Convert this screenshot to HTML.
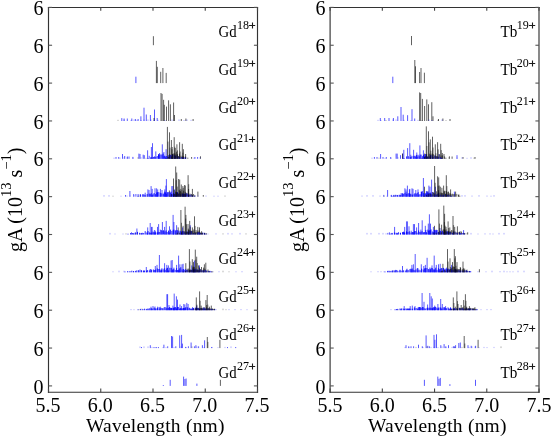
<!DOCTYPE html>
<html><head><meta charset="utf-8"><style>html,body{margin:0;padding:0;background:#fff;overflow:hidden}svg{display:block;filter:blur(0.3px)}</style></head>
<body><svg width="551" height="438" viewBox="0 0 551 438" font-family="Liberation Serif">
<rect width="551" height="438" fill="#fff"/>
<g>
<line x1="153.4" y1="45.2" x2="153.4" y2="36.2" stroke="#000000" stroke-opacity="0.62"/>
<line x1="135.9" y1="83.1" x2="135.9" y2="76.7" stroke="#0000ff" stroke-opacity="0.65"/>
<line x1="156.4" y1="83.1" x2="156.4" y2="60.9" stroke="#000000" stroke-opacity="0.62"/>
<line x1="157.3" y1="83.1" x2="157.3" y2="66.8" stroke="#000000" stroke-opacity="0.62"/>
<line x1="160.7" y1="83.1" x2="160.7" y2="71.8" stroke="#000000" stroke-opacity="0.62"/>
<line x1="162.9" y1="83.1" x2="162.9" y2="68.0" stroke="#000000" stroke-opacity="0.62"/>
<line x1="166.2" y1="83.1" x2="166.2" y2="72.9" stroke="#000000" stroke-opacity="0.62"/>
<line x1="121.8" y1="121.0" x2="121.8" y2="118.1" stroke="#0000ff" stroke-opacity="0.65"/>
<line x1="124.1" y1="121.0" x2="124.1" y2="118.5" stroke="#0000ff" stroke-opacity="0.65"/>
<line x1="127.3" y1="121.0" x2="127.3" y2="118.5" stroke="#0000ff" stroke-opacity="0.65"/>
<line x1="131.8" y1="121.0" x2="131.8" y2="118.5" stroke="#0000ff" stroke-opacity="0.65"/>
<line x1="135.4" y1="121.0" x2="135.4" y2="119.0" stroke="#0000ff" stroke-opacity="0.65"/>
<line x1="138.1" y1="121.0" x2="138.1" y2="119.0" stroke="#0000ff" stroke-opacity="0.65"/>
<line x1="140.9" y1="121.0" x2="140.9" y2="116.3" stroke="#0000ff" stroke-opacity="0.65"/>
<line x1="144.0" y1="121.0" x2="144.0" y2="107.7" stroke="#0000ff" stroke-opacity="0.65"/>
<line x1="146.3" y1="121.0" x2="146.3" y2="114.5" stroke="#0000ff" stroke-opacity="0.65"/>
<line x1="150.4" y1="121.0" x2="150.4" y2="115.0" stroke="#0000ff" stroke-opacity="0.65"/>
<line x1="154.5" y1="121.0" x2="154.5" y2="109.5" stroke="#0000ff" stroke-opacity="0.65"/>
<line x1="157.2" y1="121.0" x2="157.2" y2="118.0" stroke="#0000ff" stroke-opacity="0.65"/>
<line x1="161.0" y1="121.0" x2="161.0" y2="93.0" stroke="#000000" stroke-opacity="0.62"/>
<line x1="162.1" y1="121.0" x2="162.1" y2="93.9" stroke="#000000" stroke-opacity="0.62"/>
<line x1="163.6" y1="121.0" x2="163.6" y2="99.8" stroke="#000000" stroke-opacity="0.62"/>
<line x1="164.3" y1="121.0" x2="164.3" y2="104.8" stroke="#000000" stroke-opacity="0.62"/>
<line x1="166.5" y1="121.0" x2="166.5" y2="106.6" stroke="#000000" stroke-opacity="0.62"/>
<line x1="168.6" y1="121.0" x2="168.6" y2="100.3" stroke="#000000" stroke-opacity="0.62"/>
<line x1="170.4" y1="121.0" x2="170.4" y2="104.3" stroke="#000000" stroke-opacity="0.62"/>
<line x1="173.6" y1="121.0" x2="173.6" y2="102.5" stroke="#000000" stroke-opacity="0.62"/>
<line x1="174.5" y1="121.0" x2="174.5" y2="115.0" stroke="#000000" stroke-opacity="0.62"/>
<line x1="181.3" y1="121.0" x2="181.3" y2="119.0" stroke="#000000" stroke-opacity="0.62"/>
<line x1="185.9" y1="121.0" x2="185.9" y2="118.5" stroke="#000000" stroke-opacity="0.62"/>
<line x1="193.1" y1="121.0" x2="193.1" y2="119.0" stroke="#000000" stroke-opacity="0.62"/>
<line x1="154.0" y1="121.0" x2="154.0" y2="118.0" stroke="#000000" stroke-opacity="0.62"/>
<line x1="118.0" y1="121.0" x2="118.0" y2="119.8" stroke="#000000" stroke-opacity="0.3"/>
<line x1="124.0" y1="121.0" x2="124.0" y2="119.4" stroke="#0000ff" stroke-opacity="0.3"/>
<line x1="131.0" y1="121.0" x2="131.0" y2="120.0" stroke="#0000ff" stroke-opacity="0.3"/>
<line x1="134.0" y1="121.0" x2="134.0" y2="119.4" stroke="#0000ff" stroke-opacity="0.3"/>
<line x1="137.0" y1="121.0" x2="137.0" y2="119.8" stroke="#0000ff" stroke-opacity="0.3"/>
<line x1="141.0" y1="121.0" x2="141.0" y2="120.0" stroke="#0000ff" stroke-opacity="0.3"/>
<line x1="144.0" y1="121.0" x2="144.0" y2="119.4" stroke="#0000ff" stroke-opacity="0.3"/>
<line x1="148.0" y1="121.0" x2="148.0" y2="119.4" stroke="#0000ff" stroke-opacity="0.3"/>
<line x1="151.0" y1="121.0" x2="151.0" y2="119.4" stroke="#0000ff" stroke-opacity="0.3"/>
<line x1="154.0" y1="121.0" x2="154.0" y2="120.0" stroke="#0000ff" stroke-opacity="0.3"/>
<line x1="158.0" y1="121.0" x2="158.0" y2="119.8" stroke="#0000ff" stroke-opacity="0.3"/>
<line x1="165.0" y1="121.0" x2="165.0" y2="120.0" stroke="#0000ff" stroke-opacity="0.3"/>
<line x1="172.0" y1="121.0" x2="172.0" y2="119.4" stroke="#0000ff" stroke-opacity="0.3"/>
<line x1="179.0" y1="121.0" x2="179.0" y2="119.4" stroke="#0000ff" stroke-opacity="0.3"/>
<line x1="184.0" y1="121.0" x2="184.0" y2="120.0" stroke="#0000ff" stroke-opacity="0.3"/>
<line x1="187.0" y1="121.0" x2="187.0" y2="119.4" stroke="#0000ff" stroke-opacity="0.3"/>
<line x1="191.0" y1="121.0" x2="191.0" y2="119.8" stroke="#0000ff" stroke-opacity="0.3"/>
<line x1="116.0" y1="158.8" x2="116.0" y2="157.0" stroke="#0000ff" stroke-opacity="0.65"/>
<line x1="118.7" y1="158.8" x2="118.7" y2="157.0" stroke="#0000ff" stroke-opacity="0.65"/>
<line x1="122.5" y1="158.8" x2="122.5" y2="154.0" stroke="#0000ff" stroke-opacity="0.65"/>
<line x1="124.7" y1="158.8" x2="124.7" y2="156.0" stroke="#0000ff" stroke-opacity="0.65"/>
<line x1="127.4" y1="158.8" x2="127.4" y2="156.5" stroke="#0000ff" stroke-opacity="0.65"/>
<line x1="129.0" y1="158.8" x2="129.0" y2="156.5" stroke="#0000ff" stroke-opacity="0.65"/>
<line x1="132.9" y1="158.8" x2="132.9" y2="156.9" stroke="#0000ff" stroke-opacity="0.65"/>
<line x1="138.9" y1="158.8" x2="138.9" y2="153.6" stroke="#0000ff" stroke-opacity="0.65"/>
<line x1="140.0" y1="158.8" x2="140.0" y2="154.0" stroke="#0000ff" stroke-opacity="0.65"/>
<line x1="143.2" y1="158.8" x2="143.2" y2="154.7" stroke="#0000ff" stroke-opacity="0.65"/>
<line x1="144.3" y1="158.8" x2="144.3" y2="155.2" stroke="#0000ff" stroke-opacity="0.65"/>
<line x1="147.6" y1="158.8" x2="147.6" y2="150.3" stroke="#0000ff" stroke-opacity="0.65"/>
<line x1="149.2" y1="158.8" x2="149.2" y2="155.8" stroke="#0000ff" stroke-opacity="0.65"/>
<line x1="151.4" y1="158.8" x2="151.4" y2="147.0" stroke="#0000ff" stroke-opacity="0.65"/>
<line x1="152.5" y1="158.8" x2="152.5" y2="143.2" stroke="#0000ff" stroke-opacity="0.65"/>
<line x1="155.8" y1="158.8" x2="155.8" y2="151.4" stroke="#0000ff" stroke-opacity="0.65"/>
<line x1="158.5" y1="158.8" x2="158.5" y2="154.0" stroke="#0000ff" stroke-opacity="0.65"/>
<line x1="159.6" y1="158.8" x2="159.6" y2="153.0" stroke="#0000ff" stroke-opacity="0.65"/>
<line x1="162.3" y1="158.8" x2="162.3" y2="144.3" stroke="#0000ff" stroke-opacity="0.65"/>
<line x1="163.9" y1="158.8" x2="163.9" y2="152.0" stroke="#0000ff" stroke-opacity="0.65"/>
<line x1="166.1" y1="158.8" x2="166.1" y2="149.2" stroke="#0000ff" stroke-opacity="0.65"/>
<line x1="167.4" y1="158.8" x2="167.4" y2="126.9" stroke="#000000" stroke-opacity="0.62"/>
<line x1="169.5" y1="158.8" x2="169.5" y2="132.3" stroke="#000000" stroke-opacity="0.62"/>
<line x1="171.4" y1="158.8" x2="171.4" y2="140.0" stroke="#000000" stroke-opacity="0.62"/>
<line x1="172.2" y1="158.8" x2="172.2" y2="147.0" stroke="#000000" stroke-opacity="0.62"/>
<line x1="174.2" y1="158.8" x2="174.2" y2="137.2" stroke="#000000" stroke-opacity="0.62"/>
<line x1="175.2" y1="158.8" x2="175.2" y2="148.0" stroke="#000000" stroke-opacity="0.62"/>
<line x1="176.9" y1="158.8" x2="176.9" y2="144.3" stroke="#000000" stroke-opacity="0.62"/>
<line x1="179.6" y1="158.8" x2="179.6" y2="142.2" stroke="#000000" stroke-opacity="0.62"/>
<line x1="182.3" y1="158.8" x2="182.3" y2="143.8" stroke="#000000" stroke-opacity="0.62"/>
<line x1="183.4" y1="158.8" x2="183.4" y2="149.2" stroke="#000000" stroke-opacity="0.62"/>
<line x1="185.6" y1="158.8" x2="185.6" y2="154.0" stroke="#000000" stroke-opacity="0.62"/>
<line x1="191.6" y1="158.8" x2="191.6" y2="157.0" stroke="#000000" stroke-opacity="0.62"/>
<line x1="200.5" y1="158.8" x2="200.5" y2="156.3" stroke="#000000" stroke-opacity="0.62"/>
<line x1="194.9" y1="158.8" x2="194.9" y2="157.0" stroke="#0000ff" stroke-opacity="0.65"/>
<line x1="197.6" y1="158.8" x2="197.6" y2="157.0" stroke="#0000ff" stroke-opacity="0.65"/>
<line x1="114.0" y1="158.8" x2="114.0" y2="157.6" stroke="#0000ff" stroke-opacity="0.3"/>
<line x1="120.0" y1="158.8" x2="120.0" y2="157.6" stroke="#0000ff" stroke-opacity="0.3"/>
<line x1="124.0" y1="158.8" x2="124.0" y2="157.2" stroke="#0000ff" stroke-opacity="0.3"/>
<line x1="127.0" y1="158.8" x2="127.0" y2="157.2" stroke="#0000ff" stroke-opacity="0.3"/>
<line x1="133.0" y1="158.8" x2="133.0" y2="157.6" stroke="#0000ff" stroke-opacity="0.3"/>
<line x1="138.0" y1="158.8" x2="138.0" y2="157.2" stroke="#000000" stroke-opacity="0.3"/>
<line x1="141.0" y1="158.8" x2="141.0" y2="157.2" stroke="#0000ff" stroke-opacity="0.3"/>
<line x1="146.0" y1="158.8" x2="146.0" y2="157.8" stroke="#000000" stroke-opacity="0.3"/>
<line x1="152.0" y1="158.8" x2="152.0" y2="157.8" stroke="#000000" stroke-opacity="0.3"/>
<line x1="155.0" y1="158.8" x2="155.0" y2="157.2" stroke="#0000ff" stroke-opacity="0.3"/>
<line x1="160.0" y1="158.8" x2="160.0" y2="157.6" stroke="#0000ff" stroke-opacity="0.3"/>
<line x1="167.0" y1="158.8" x2="167.0" y2="157.6" stroke="#0000ff" stroke-opacity="0.3"/>
<line x1="173.0" y1="158.8" x2="173.0" y2="157.8" stroke="#000000" stroke-opacity="0.3"/>
<line x1="178.0" y1="158.8" x2="178.0" y2="157.6" stroke="#0000ff" stroke-opacity="0.3"/>
<line x1="181.0" y1="158.8" x2="181.0" y2="157.8" stroke="#0000ff" stroke-opacity="0.3"/>
<line x1="186.0" y1="158.8" x2="186.0" y2="157.2" stroke="#0000ff" stroke-opacity="0.3"/>
<line x1="194.0" y1="158.8" x2="194.0" y2="157.6" stroke="#0000ff" stroke-opacity="0.3"/>
<line x1="200.0" y1="158.8" x2="200.0" y2="157.2" stroke="#0000ff" stroke-opacity="0.3"/>
<line x1="148.0" y1="158.8" x2="148.0" y2="158.0" stroke="#0000ff" stroke-opacity="0.85"/>
<line x1="150.6" y1="158.8" x2="150.6" y2="157.4" stroke="#0000ff" stroke-opacity="0.85"/>
<line x1="151.8" y1="158.8" x2="151.8" y2="157.1" stroke="#0000ff" stroke-opacity="0.85"/>
<line x1="153.4" y1="158.8" x2="153.4" y2="157.0" stroke="#0000ff" stroke-opacity="0.85"/>
<line x1="154.4" y1="158.8" x2="154.4" y2="156.4" stroke="#0000ff" stroke-opacity="0.85"/>
<line x1="155.9" y1="158.8" x2="155.9" y2="156.9" stroke="#0000ff" stroke-opacity="0.85"/>
<line x1="157.2" y1="158.8" x2="157.2" y2="156.0" stroke="#0000ff" stroke-opacity="0.85"/>
<line x1="158.5" y1="158.8" x2="158.5" y2="154.6" stroke="#0000ff" stroke-opacity="0.85"/>
<line x1="159.8" y1="158.8" x2="159.8" y2="154.4" stroke="#0000ff" stroke-opacity="0.85"/>
<line x1="161.0" y1="158.8" x2="161.0" y2="154.6" stroke="#0000ff" stroke-opacity="0.85"/>
<line x1="162.1" y1="158.8" x2="162.1" y2="154.5" stroke="#0000ff" stroke-opacity="0.85"/>
<line x1="163.2" y1="158.8" x2="163.2" y2="153.5" stroke="#0000ff" stroke-opacity="0.85"/>
<line x1="164.0" y1="158.8" x2="164.0" y2="156.3" stroke="#0000ff" stroke-opacity="0.85"/>
<line x1="164.7" y1="158.8" x2="164.7" y2="155.7" stroke="#0000ff" stroke-opacity="0.85"/>
<line x1="165.4" y1="158.8" x2="165.4" y2="156.5" stroke="#0000ff" stroke-opacity="0.85"/>
<line x1="166.7" y1="158.8" x2="166.7" y2="156.0" stroke="#0000ff" stroke-opacity="0.85"/>
<line x1="167.8" y1="158.8" x2="167.8" y2="156.6" stroke="#0000ff" stroke-opacity="0.85"/>
<line x1="168.9" y1="158.8" x2="168.9" y2="155.0" stroke="#0000ff" stroke-opacity="0.85"/>
<line x1="170.3" y1="158.8" x2="170.3" y2="155.1" stroke="#0000ff" stroke-opacity="0.85"/>
<line x1="171.1" y1="158.8" x2="171.1" y2="154.8" stroke="#0000ff" stroke-opacity="0.85"/>
<line x1="172.7" y1="158.8" x2="172.7" y2="154.3" stroke="#0000ff" stroke-opacity="0.85"/>
<line x1="174.3" y1="158.8" x2="174.3" y2="155.3" stroke="#0000ff" stroke-opacity="0.85"/>
<line x1="175.2" y1="158.8" x2="175.2" y2="155.9" stroke="#0000ff" stroke-opacity="0.85"/>
<line x1="176.9" y1="158.8" x2="176.9" y2="155.4" stroke="#0000ff" stroke-opacity="0.85"/>
<line x1="178.3" y1="158.8" x2="178.3" y2="156.4" stroke="#0000ff" stroke-opacity="0.85"/>
<line x1="179.8" y1="158.8" x2="179.8" y2="157.1" stroke="#0000ff" stroke-opacity="0.85"/>
<line x1="181.7" y1="158.8" x2="181.7" y2="156.9" stroke="#0000ff" stroke-opacity="0.85"/>
<line x1="182.9" y1="158.8" x2="182.9" y2="157.4" stroke="#0000ff" stroke-opacity="0.85"/>
<line x1="184.0" y1="158.8" x2="184.0" y2="157.3" stroke="#0000ff" stroke-opacity="0.85"/>
<line x1="185.3" y1="158.8" x2="185.3" y2="157.6" stroke="#0000ff" stroke-opacity="0.85"/>
<line x1="166.0" y1="158.8" x2="166.0" y2="158.0" stroke="#000000" stroke-opacity="0.6"/>
<line x1="168.6" y1="158.8" x2="168.6" y2="156.7" stroke="#000000" stroke-opacity="0.6"/>
<line x1="169.7" y1="158.8" x2="169.7" y2="154.2" stroke="#000000" stroke-opacity="0.6"/>
<line x1="171.5" y1="158.8" x2="171.5" y2="156.4" stroke="#000000" stroke-opacity="0.6"/>
<line x1="172.4" y1="158.8" x2="172.4" y2="154.0" stroke="#000000" stroke-opacity="0.6"/>
<line x1="173.2" y1="158.8" x2="173.2" y2="153.6" stroke="#000000" stroke-opacity="0.6"/>
<line x1="174.3" y1="158.8" x2="174.3" y2="153.3" stroke="#000000" stroke-opacity="0.6"/>
<line x1="175.4" y1="158.8" x2="175.4" y2="155.4" stroke="#000000" stroke-opacity="0.6"/>
<line x1="176.4" y1="158.8" x2="176.4" y2="151.7" stroke="#000000" stroke-opacity="0.6"/>
<line x1="177.5" y1="158.8" x2="177.5" y2="154.2" stroke="#000000" stroke-opacity="0.6"/>
<line x1="178.6" y1="158.8" x2="178.6" y2="156.0" stroke="#000000" stroke-opacity="0.6"/>
<line x1="179.4" y1="158.8" x2="179.4" y2="153.6" stroke="#000000" stroke-opacity="0.6"/>
<line x1="181.0" y1="158.8" x2="181.0" y2="155.7" stroke="#000000" stroke-opacity="0.6"/>
<line x1="182.7" y1="158.8" x2="182.7" y2="156.4" stroke="#000000" stroke-opacity="0.6"/>
<line x1="183.7" y1="158.8" x2="183.7" y2="156.4" stroke="#000000" stroke-opacity="0.6"/>
<line x1="185.6" y1="158.8" x2="185.6" y2="156.6" stroke="#000000" stroke-opacity="0.6"/>
<line x1="187.8" y1="158.8" x2="187.8" y2="157.6" stroke="#000000" stroke-opacity="0.6"/>
<line x1="168.0" y1="158.8" x2="168.0" y2="141.6" stroke="#000000" stroke-opacity="0.5"/>
<line x1="170.1" y1="158.8" x2="170.1" y2="147.6" stroke="#000000" stroke-opacity="0.5"/>
<line x1="172.0" y1="158.8" x2="172.0" y2="149.2" stroke="#000000" stroke-opacity="0.5"/>
<line x1="172.8" y1="158.8" x2="172.8" y2="154.4" stroke="#000000" stroke-opacity="0.5"/>
<line x1="174.8" y1="158.8" x2="174.8" y2="146.7" stroke="#000000" stroke-opacity="0.5"/>
<line x1="175.8" y1="158.8" x2="175.8" y2="153.6" stroke="#000000" stroke-opacity="0.5"/>
<line x1="177.5" y1="158.8" x2="177.5" y2="150.4" stroke="#000000" stroke-opacity="0.5"/>
<line x1="180.2" y1="158.8" x2="180.2" y2="151.5" stroke="#000000" stroke-opacity="0.5"/>
<line x1="182.9" y1="158.8" x2="182.9" y2="152.7" stroke="#000000" stroke-opacity="0.5"/>
<line x1="125.5" y1="196.7" x2="125.5" y2="195.0" stroke="#0000ff" stroke-opacity="0.65"/>
<line x1="129.9" y1="196.7" x2="129.9" y2="191.0" stroke="#0000ff" stroke-opacity="0.65"/>
<line x1="133.7" y1="196.7" x2="133.7" y2="194.0" stroke="#0000ff" stroke-opacity="0.65"/>
<line x1="135.9" y1="196.7" x2="135.9" y2="194.0" stroke="#0000ff" stroke-opacity="0.65"/>
<line x1="138.1" y1="196.7" x2="138.1" y2="194.0" stroke="#0000ff" stroke-opacity="0.65"/>
<line x1="140.3" y1="196.7" x2="140.3" y2="194.0" stroke="#0000ff" stroke-opacity="0.65"/>
<line x1="143.0" y1="196.7" x2="143.0" y2="194.5" stroke="#0000ff" stroke-opacity="0.65"/>
<line x1="145.2" y1="196.7" x2="145.2" y2="192.7" stroke="#0000ff" stroke-opacity="0.65"/>
<line x1="147.9" y1="196.7" x2="147.9" y2="189.4" stroke="#0000ff" stroke-opacity="0.65"/>
<line x1="149.0" y1="196.7" x2="149.0" y2="190.0" stroke="#0000ff" stroke-opacity="0.65"/>
<line x1="151.1" y1="196.7" x2="151.1" y2="186.1" stroke="#0000ff" stroke-opacity="0.65"/>
<line x1="152.2" y1="196.7" x2="152.2" y2="188.9" stroke="#0000ff" stroke-opacity="0.65"/>
<line x1="155.0" y1="196.7" x2="155.0" y2="188.3" stroke="#0000ff" stroke-opacity="0.65"/>
<line x1="156.6" y1="196.7" x2="156.6" y2="188.3" stroke="#0000ff" stroke-opacity="0.65"/>
<line x1="157.7" y1="196.7" x2="157.7" y2="189.4" stroke="#0000ff" stroke-opacity="0.65"/>
<line x1="160.4" y1="196.7" x2="160.4" y2="188.9" stroke="#0000ff" stroke-opacity="0.65"/>
<line x1="162.0" y1="196.7" x2="162.0" y2="190.0" stroke="#0000ff" stroke-opacity="0.65"/>
<line x1="164.8" y1="196.7" x2="164.8" y2="189.4" stroke="#0000ff" stroke-opacity="0.65"/>
<line x1="165.9" y1="196.7" x2="165.9" y2="185.6" stroke="#0000ff" stroke-opacity="0.65"/>
<line x1="166.4" y1="196.7" x2="166.4" y2="179.1" stroke="#0000ff" stroke-opacity="0.65"/>
<line x1="171.8" y1="196.7" x2="171.8" y2="186.1" stroke="#0000ff" stroke-opacity="0.65"/>
<line x1="172.9" y1="196.7" x2="172.9" y2="186.0" stroke="#0000ff" stroke-opacity="0.65"/>
<line x1="174.6" y1="196.7" x2="174.6" y2="189.4" stroke="#0000ff" stroke-opacity="0.65"/>
<line x1="169.4" y1="196.7" x2="169.4" y2="190.5" stroke="#000000" stroke-opacity="0.62"/>
<line x1="173.5" y1="196.7" x2="173.5" y2="178.5" stroke="#000000" stroke-opacity="0.62"/>
<line x1="175.7" y1="196.7" x2="175.7" y2="166.5" stroke="#000000" stroke-opacity="0.62"/>
<line x1="176.7" y1="196.7" x2="176.7" y2="172.5" stroke="#000000" stroke-opacity="0.62"/>
<line x1="178.6" y1="196.7" x2="178.6" y2="179.0" stroke="#000000" stroke-opacity="0.62"/>
<line x1="179.7" y1="196.7" x2="179.7" y2="179.6" stroke="#000000" stroke-opacity="0.62"/>
<line x1="181.3" y1="196.7" x2="181.3" y2="184.5" stroke="#000000" stroke-opacity="0.62"/>
<line x1="182.9" y1="196.7" x2="182.9" y2="186.0" stroke="#000000" stroke-opacity="0.62"/>
<line x1="183.2" y1="196.7" x2="183.2" y2="187.8" stroke="#000000" stroke-opacity="0.62"/>
<line x1="184.6" y1="196.7" x2="184.6" y2="185.0" stroke="#000000" stroke-opacity="0.62"/>
<line x1="185.3" y1="196.7" x2="185.3" y2="185.6" stroke="#000000" stroke-opacity="0.62"/>
<line x1="188.1" y1="196.7" x2="188.1" y2="175.2" stroke="#000000" stroke-opacity="0.62"/>
<line x1="188.6" y1="196.7" x2="188.6" y2="189.0" stroke="#000000" stroke-opacity="0.62"/>
<line x1="192.4" y1="196.7" x2="192.4" y2="188.9" stroke="#000000" stroke-opacity="0.62"/>
<line x1="197.9" y1="196.7" x2="197.9" y2="191.6" stroke="#000000" stroke-opacity="0.62"/>
<line x1="203.3" y1="196.7" x2="203.3" y2="195.0" stroke="#000000" stroke-opacity="0.62"/>
<line x1="104.0" y1="196.7" x2="104.0" y2="195.1" stroke="#0000ff" stroke-opacity="0.3"/>
<line x1="109.0" y1="196.7" x2="109.0" y2="195.1" stroke="#0000ff" stroke-opacity="0.3"/>
<line x1="113.0" y1="196.7" x2="113.0" y2="195.7" stroke="#000000" stroke-opacity="0.3"/>
<line x1="121.0" y1="196.7" x2="121.0" y2="195.7" stroke="#0000ff" stroke-opacity="0.3"/>
<line x1="127.0" y1="196.7" x2="127.0" y2="195.5" stroke="#0000ff" stroke-opacity="0.3"/>
<line x1="130.0" y1="196.7" x2="130.0" y2="195.5" stroke="#0000ff" stroke-opacity="0.3"/>
<line x1="134.0" y1="196.7" x2="134.0" y2="195.1" stroke="#0000ff" stroke-opacity="0.3"/>
<line x1="139.0" y1="196.7" x2="139.0" y2="195.5" stroke="#000000" stroke-opacity="0.3"/>
<line x1="147.0" y1="196.7" x2="147.0" y2="195.5" stroke="#000000" stroke-opacity="0.3"/>
<line x1="152.0" y1="196.7" x2="152.0" y2="195.7" stroke="#0000ff" stroke-opacity="0.3"/>
<line x1="156.0" y1="196.7" x2="156.0" y2="195.5" stroke="#0000ff" stroke-opacity="0.3"/>
<line x1="160.0" y1="196.7" x2="160.0" y2="195.5" stroke="#0000ff" stroke-opacity="0.3"/>
<line x1="167.0" y1="196.7" x2="167.0" y2="195.7" stroke="#0000ff" stroke-opacity="0.3"/>
<line x1="175.0" y1="196.7" x2="175.0" y2="195.5" stroke="#0000ff" stroke-opacity="0.3"/>
<line x1="178.0" y1="196.7" x2="178.0" y2="195.1" stroke="#0000ff" stroke-opacity="0.3"/>
<line x1="184.0" y1="196.7" x2="184.0" y2="195.1" stroke="#0000ff" stroke-opacity="0.3"/>
<line x1="190.0" y1="196.7" x2="190.0" y2="195.7" stroke="#0000ff" stroke-opacity="0.3"/>
<line x1="198.0" y1="196.7" x2="198.0" y2="195.5" stroke="#0000ff" stroke-opacity="0.3"/>
<line x1="206.0" y1="196.7" x2="206.0" y2="195.5" stroke="#0000ff" stroke-opacity="0.3"/>
<line x1="214.0" y1="196.7" x2="214.0" y2="195.7" stroke="#0000ff" stroke-opacity="0.3"/>
<line x1="218.0" y1="196.7" x2="218.0" y2="195.7" stroke="#0000ff" stroke-opacity="0.3"/>
<line x1="225.0" y1="196.7" x2="225.0" y2="195.5" stroke="#000000" stroke-opacity="0.3"/>
<line x1="138.0" y1="196.7" x2="138.0" y2="195.8" stroke="#0000ff" stroke-opacity="0.85"/>
<line x1="140.6" y1="196.7" x2="140.6" y2="194.7" stroke="#0000ff" stroke-opacity="0.85"/>
<line x1="142.9" y1="196.7" x2="142.9" y2="194.2" stroke="#0000ff" stroke-opacity="0.85"/>
<line x1="144.1" y1="196.7" x2="144.1" y2="194.5" stroke="#0000ff" stroke-opacity="0.85"/>
<line x1="145.2" y1="196.7" x2="145.2" y2="195.2" stroke="#0000ff" stroke-opacity="0.85"/>
<line x1="147.2" y1="196.7" x2="147.2" y2="194.0" stroke="#0000ff" stroke-opacity="0.85"/>
<line x1="149.2" y1="196.7" x2="149.2" y2="193.6" stroke="#0000ff" stroke-opacity="0.85"/>
<line x1="150.2" y1="196.7" x2="150.2" y2="194.1" stroke="#0000ff" stroke-opacity="0.85"/>
<line x1="151.2" y1="196.7" x2="151.2" y2="193.2" stroke="#0000ff" stroke-opacity="0.85"/>
<line x1="152.2" y1="196.7" x2="152.2" y2="194.8" stroke="#0000ff" stroke-opacity="0.85"/>
<line x1="153.1" y1="196.7" x2="153.1" y2="194.2" stroke="#0000ff" stroke-opacity="0.85"/>
<line x1="154.1" y1="196.7" x2="154.1" y2="193.0" stroke="#0000ff" stroke-opacity="0.85"/>
<line x1="155.4" y1="196.7" x2="155.4" y2="194.1" stroke="#0000ff" stroke-opacity="0.85"/>
<line x1="156.7" y1="196.7" x2="156.7" y2="192.5" stroke="#0000ff" stroke-opacity="0.85"/>
<line x1="157.5" y1="196.7" x2="157.5" y2="192.2" stroke="#0000ff" stroke-opacity="0.85"/>
<line x1="158.8" y1="196.7" x2="158.8" y2="192.1" stroke="#0000ff" stroke-opacity="0.85"/>
<line x1="160.3" y1="196.7" x2="160.3" y2="192.9" stroke="#0000ff" stroke-opacity="0.85"/>
<line x1="161.8" y1="196.7" x2="161.8" y2="193.3" stroke="#0000ff" stroke-opacity="0.85"/>
<line x1="163.3" y1="196.7" x2="163.3" y2="194.1" stroke="#0000ff" stroke-opacity="0.85"/>
<line x1="164.1" y1="196.7" x2="164.1" y2="192.8" stroke="#0000ff" stroke-opacity="0.85"/>
<line x1="164.8" y1="196.7" x2="164.8" y2="191.6" stroke="#0000ff" stroke-opacity="0.85"/>
<line x1="165.6" y1="196.7" x2="165.6" y2="192.4" stroke="#0000ff" stroke-opacity="0.85"/>
<line x1="166.3" y1="196.7" x2="166.3" y2="193.8" stroke="#0000ff" stroke-opacity="0.85"/>
<line x1="167.3" y1="196.7" x2="167.3" y2="192.2" stroke="#0000ff" stroke-opacity="0.85"/>
<line x1="168.0" y1="196.7" x2="168.0" y2="192.4" stroke="#0000ff" stroke-opacity="0.85"/>
<line x1="169.0" y1="196.7" x2="169.0" y2="192.0" stroke="#0000ff" stroke-opacity="0.85"/>
<line x1="170.4" y1="196.7" x2="170.4" y2="192.6" stroke="#0000ff" stroke-opacity="0.85"/>
<line x1="171.1" y1="196.7" x2="171.1" y2="191.6" stroke="#0000ff" stroke-opacity="0.85"/>
<line x1="171.9" y1="196.7" x2="171.9" y2="193.7" stroke="#0000ff" stroke-opacity="0.85"/>
<line x1="172.9" y1="196.7" x2="172.9" y2="194.4" stroke="#0000ff" stroke-opacity="0.85"/>
<line x1="173.7" y1="196.7" x2="173.7" y2="193.0" stroke="#0000ff" stroke-opacity="0.85"/>
<line x1="175.2" y1="196.7" x2="175.2" y2="194.5" stroke="#0000ff" stroke-opacity="0.85"/>
<line x1="176.0" y1="196.7" x2="176.0" y2="193.4" stroke="#0000ff" stroke-opacity="0.85"/>
<line x1="177.5" y1="196.7" x2="177.5" y2="192.0" stroke="#0000ff" stroke-opacity="0.85"/>
<line x1="179.1" y1="196.7" x2="179.1" y2="193.4" stroke="#0000ff" stroke-opacity="0.85"/>
<line x1="180.8" y1="196.7" x2="180.8" y2="194.1" stroke="#0000ff" stroke-opacity="0.85"/>
<line x1="182.5" y1="196.7" x2="182.5" y2="193.7" stroke="#0000ff" stroke-opacity="0.85"/>
<line x1="183.8" y1="196.7" x2="183.8" y2="193.9" stroke="#0000ff" stroke-opacity="0.85"/>
<line x1="184.8" y1="196.7" x2="184.8" y2="193.6" stroke="#0000ff" stroke-opacity="0.85"/>
<line x1="186.2" y1="196.7" x2="186.2" y2="193.3" stroke="#0000ff" stroke-opacity="0.85"/>
<line x1="187.2" y1="196.7" x2="187.2" y2="193.6" stroke="#0000ff" stroke-opacity="0.85"/>
<line x1="188.3" y1="196.7" x2="188.3" y2="194.5" stroke="#0000ff" stroke-opacity="0.85"/>
<line x1="189.8" y1="196.7" x2="189.8" y2="194.6" stroke="#0000ff" stroke-opacity="0.85"/>
<line x1="191.0" y1="196.7" x2="191.0" y2="194.5" stroke="#0000ff" stroke-opacity="0.85"/>
<line x1="192.6" y1="196.7" x2="192.6" y2="195.4" stroke="#0000ff" stroke-opacity="0.85"/>
<line x1="194.8" y1="196.7" x2="194.8" y2="195.5" stroke="#0000ff" stroke-opacity="0.85"/>
<line x1="170.0" y1="196.7" x2="170.0" y2="195.8" stroke="#000000" stroke-opacity="0.6"/>
<line x1="171.4" y1="196.7" x2="171.4" y2="194.1" stroke="#000000" stroke-opacity="0.6"/>
<line x1="173.6" y1="196.7" x2="173.6" y2="193.4" stroke="#000000" stroke-opacity="0.6"/>
<line x1="174.6" y1="196.7" x2="174.6" y2="194.0" stroke="#000000" stroke-opacity="0.6"/>
<line x1="175.6" y1="196.7" x2="175.6" y2="191.7" stroke="#000000" stroke-opacity="0.6"/>
<line x1="176.5" y1="196.7" x2="176.5" y2="192.0" stroke="#000000" stroke-opacity="0.6"/>
<line x1="177.3" y1="196.7" x2="177.3" y2="193.0" stroke="#000000" stroke-opacity="0.6"/>
<line x1="178.5" y1="196.7" x2="178.5" y2="193.6" stroke="#000000" stroke-opacity="0.6"/>
<line x1="179.9" y1="196.7" x2="179.9" y2="190.6" stroke="#000000" stroke-opacity="0.6"/>
<line x1="180.6" y1="196.7" x2="180.6" y2="191.2" stroke="#000000" stroke-opacity="0.6"/>
<line x1="182.0" y1="196.7" x2="182.0" y2="192.6" stroke="#000000" stroke-opacity="0.6"/>
<line x1="183.0" y1="196.7" x2="183.0" y2="193.5" stroke="#000000" stroke-opacity="0.6"/>
<line x1="184.2" y1="196.7" x2="184.2" y2="194.0" stroke="#000000" stroke-opacity="0.6"/>
<line x1="185.3" y1="196.7" x2="185.3" y2="194.4" stroke="#000000" stroke-opacity="0.6"/>
<line x1="186.9" y1="196.7" x2="186.9" y2="193.2" stroke="#000000" stroke-opacity="0.6"/>
<line x1="188.6" y1="196.7" x2="188.6" y2="194.7" stroke="#000000" stroke-opacity="0.6"/>
<line x1="190.0" y1="196.7" x2="190.0" y2="193.6" stroke="#000000" stroke-opacity="0.6"/>
<line x1="191.4" y1="196.7" x2="191.4" y2="194.0" stroke="#000000" stroke-opacity="0.6"/>
<line x1="192.5" y1="196.7" x2="192.5" y2="194.9" stroke="#000000" stroke-opacity="0.6"/>
<line x1="193.6" y1="196.7" x2="193.6" y2="194.0" stroke="#000000" stroke-opacity="0.6"/>
<line x1="194.8" y1="196.7" x2="194.8" y2="195.4" stroke="#000000" stroke-opacity="0.6"/>
<line x1="174.1" y1="196.7" x2="174.1" y2="190.1" stroke="#000000" stroke-opacity="0.5"/>
<line x1="176.2" y1="196.7" x2="176.2" y2="180.2" stroke="#000000" stroke-opacity="0.5"/>
<line x1="177.3" y1="196.7" x2="177.3" y2="186.6" stroke="#000000" stroke-opacity="0.5"/>
<line x1="179.2" y1="196.7" x2="179.2" y2="189.9" stroke="#000000" stroke-opacity="0.5"/>
<line x1="180.3" y1="196.7" x2="180.3" y2="188.9" stroke="#000000" stroke-opacity="0.5"/>
<line x1="181.9" y1="196.7" x2="181.9" y2="189.6" stroke="#000000" stroke-opacity="0.5"/>
<line x1="183.5" y1="196.7" x2="183.5" y2="190.7" stroke="#000000" stroke-opacity="0.5"/>
<line x1="185.2" y1="196.7" x2="185.2" y2="191.8" stroke="#000000" stroke-opacity="0.5"/>
<line x1="185.9" y1="196.7" x2="185.9" y2="192.4" stroke="#000000" stroke-opacity="0.5"/>
<line x1="188.7" y1="196.7" x2="188.7" y2="184.2" stroke="#000000" stroke-opacity="0.5"/>
<line x1="131.5" y1="234.5" x2="131.5" y2="232.3" stroke="#0000ff" stroke-opacity="0.65"/>
<line x1="135.3" y1="234.5" x2="135.3" y2="233.0" stroke="#0000ff" stroke-opacity="0.65"/>
<line x1="136.9" y1="234.5" x2="136.9" y2="228.5" stroke="#0000ff" stroke-opacity="0.65"/>
<line x1="141.8" y1="234.5" x2="141.8" y2="233.0" stroke="#0000ff" stroke-opacity="0.65"/>
<line x1="147.3" y1="234.5" x2="147.3" y2="233.0" stroke="#0000ff" stroke-opacity="0.65"/>
<line x1="147.7" y1="234.5" x2="147.7" y2="227.4" stroke="#0000ff" stroke-opacity="0.65"/>
<line x1="150.2" y1="234.5" x2="150.2" y2="223.0" stroke="#0000ff" stroke-opacity="0.65"/>
<line x1="151.6" y1="234.5" x2="151.6" y2="226.9" stroke="#0000ff" stroke-opacity="0.65"/>
<line x1="152.1" y1="234.5" x2="152.1" y2="226.9" stroke="#0000ff" stroke-opacity="0.65"/>
<line x1="154.4" y1="234.5" x2="154.4" y2="230.0" stroke="#0000ff" stroke-opacity="0.65"/>
<line x1="155.3" y1="234.5" x2="155.3" y2="230.7" stroke="#0000ff" stroke-opacity="0.65"/>
<line x1="157.5" y1="234.5" x2="157.5" y2="226.9" stroke="#0000ff" stroke-opacity="0.65"/>
<line x1="158.6" y1="234.5" x2="158.6" y2="224.1" stroke="#0000ff" stroke-opacity="0.65"/>
<line x1="160.3" y1="234.5" x2="160.3" y2="229.6" stroke="#0000ff" stroke-opacity="0.65"/>
<line x1="162.4" y1="234.5" x2="162.4" y2="222.0" stroke="#0000ff" stroke-opacity="0.65"/>
<line x1="164.6" y1="234.5" x2="164.6" y2="226.9" stroke="#0000ff" stroke-opacity="0.65"/>
<line x1="166.2" y1="234.5" x2="166.2" y2="220.9" stroke="#0000ff" stroke-opacity="0.65"/>
<line x1="169.5" y1="234.5" x2="169.5" y2="226.3" stroke="#0000ff" stroke-opacity="0.65"/>
<line x1="173.1" y1="234.5" x2="173.1" y2="214.9" stroke="#0000ff" stroke-opacity="0.65"/>
<line x1="173.9" y1="234.5" x2="173.9" y2="222.0" stroke="#0000ff" stroke-opacity="0.65"/>
<line x1="176.6" y1="234.5" x2="176.6" y2="225.2" stroke="#0000ff" stroke-opacity="0.65"/>
<line x1="182.6" y1="234.5" x2="182.6" y2="227.4" stroke="#0000ff" stroke-opacity="0.65"/>
<line x1="190.2" y1="234.5" x2="190.2" y2="225.2" stroke="#0000ff" stroke-opacity="0.65"/>
<line x1="178.2" y1="234.5" x2="178.2" y2="227.4" stroke="#000000" stroke-opacity="0.62"/>
<line x1="180.9" y1="234.5" x2="180.9" y2="210.0" stroke="#000000" stroke-opacity="0.62"/>
<line x1="183.1" y1="234.5" x2="183.1" y2="225.8" stroke="#000000" stroke-opacity="0.62"/>
<line x1="185.1" y1="234.5" x2="185.1" y2="206.7" stroke="#000000" stroke-opacity="0.62"/>
<line x1="185.9" y1="234.5" x2="185.9" y2="214.9" stroke="#000000" stroke-opacity="0.62"/>
<line x1="188.0" y1="234.5" x2="188.0" y2="224.0" stroke="#000000" stroke-opacity="0.62"/>
<line x1="189.7" y1="234.5" x2="189.7" y2="220.9" stroke="#000000" stroke-opacity="0.62"/>
<line x1="192.4" y1="234.5" x2="192.4" y2="227.4" stroke="#000000" stroke-opacity="0.62"/>
<line x1="194.5" y1="234.5" x2="194.5" y2="216.3" stroke="#000000" stroke-opacity="0.62"/>
<line x1="197.8" y1="234.5" x2="197.8" y2="226.9" stroke="#000000" stroke-opacity="0.62"/>
<line x1="199.5" y1="234.5" x2="199.5" y2="227.4" stroke="#000000" stroke-opacity="0.62"/>
<line x1="201.6" y1="234.5" x2="201.6" y2="231.2" stroke="#000000" stroke-opacity="0.62"/>
<line x1="204.4" y1="234.5" x2="204.4" y2="232.9" stroke="#000000" stroke-opacity="0.62"/>
<line x1="110.0" y1="234.5" x2="110.0" y2="232.9" stroke="#0000ff" stroke-opacity="0.3"/>
<line x1="115.0" y1="234.5" x2="115.0" y2="233.5" stroke="#0000ff" stroke-opacity="0.3"/>
<line x1="123.0" y1="234.5" x2="123.0" y2="233.5" stroke="#0000ff" stroke-opacity="0.3"/>
<line x1="126.0" y1="234.5" x2="126.0" y2="233.3" stroke="#000000" stroke-opacity="0.3"/>
<line x1="134.0" y1="234.5" x2="134.0" y2="233.5" stroke="#000000" stroke-opacity="0.3"/>
<line x1="137.0" y1="234.5" x2="137.0" y2="232.9" stroke="#000000" stroke-opacity="0.3"/>
<line x1="140.0" y1="234.5" x2="140.0" y2="233.3" stroke="#000000" stroke-opacity="0.3"/>
<line x1="146.0" y1="234.5" x2="146.0" y2="233.5" stroke="#0000ff" stroke-opacity="0.3"/>
<line x1="153.0" y1="234.5" x2="153.0" y2="233.3" stroke="#000000" stroke-opacity="0.3"/>
<line x1="158.0" y1="234.5" x2="158.0" y2="232.9" stroke="#0000ff" stroke-opacity="0.3"/>
<line x1="165.0" y1="234.5" x2="165.0" y2="232.9" stroke="#0000ff" stroke-opacity="0.3"/>
<line x1="168.0" y1="234.5" x2="168.0" y2="233.5" stroke="#0000ff" stroke-opacity="0.3"/>
<line x1="172.0" y1="234.5" x2="172.0" y2="233.5" stroke="#000000" stroke-opacity="0.3"/>
<line x1="180.0" y1="234.5" x2="180.0" y2="233.3" stroke="#0000ff" stroke-opacity="0.3"/>
<line x1="184.0" y1="234.5" x2="184.0" y2="233.3" stroke="#0000ff" stroke-opacity="0.3"/>
<line x1="192.0" y1="234.5" x2="192.0" y2="233.5" stroke="#0000ff" stroke-opacity="0.3"/>
<line x1="195.0" y1="234.5" x2="195.0" y2="233.3" stroke="#0000ff" stroke-opacity="0.3"/>
<line x1="198.0" y1="234.5" x2="198.0" y2="232.9" stroke="#0000ff" stroke-opacity="0.3"/>
<line x1="202.0" y1="234.5" x2="202.0" y2="232.9" stroke="#0000ff" stroke-opacity="0.3"/>
<line x1="208.0" y1="234.5" x2="208.0" y2="233.5" stroke="#0000ff" stroke-opacity="0.3"/>
<line x1="216.0" y1="234.5" x2="216.0" y2="233.3" stroke="#0000ff" stroke-opacity="0.3"/>
<line x1="223.0" y1="234.5" x2="223.0" y2="233.3" stroke="#000000" stroke-opacity="0.3"/>
<line x1="228.0" y1="234.5" x2="228.0" y2="232.9" stroke="#0000ff" stroke-opacity="0.3"/>
<line x1="232.0" y1="234.5" x2="232.0" y2="233.3" stroke="#0000ff" stroke-opacity="0.3"/>
<line x1="240.0" y1="234.5" x2="240.0" y2="232.9" stroke="#0000ff" stroke-opacity="0.3"/>
<line x1="246.0" y1="234.5" x2="246.0" y2="233.3" stroke="#000000" stroke-opacity="0.3"/>
<line x1="128.0" y1="234.5" x2="128.0" y2="233.7" stroke="#0000ff" stroke-opacity="0.85"/>
<line x1="130.6" y1="234.5" x2="130.6" y2="233.0" stroke="#0000ff" stroke-opacity="0.85"/>
<line x1="132.4" y1="234.5" x2="132.4" y2="233.0" stroke="#0000ff" stroke-opacity="0.85"/>
<line x1="133.6" y1="234.5" x2="133.6" y2="233.2" stroke="#0000ff" stroke-opacity="0.85"/>
<line x1="135.3" y1="234.5" x2="135.3" y2="232.3" stroke="#0000ff" stroke-opacity="0.85"/>
<line x1="137.5" y1="234.5" x2="137.5" y2="231.9" stroke="#0000ff" stroke-opacity="0.85"/>
<line x1="139.6" y1="234.5" x2="139.6" y2="232.8" stroke="#0000ff" stroke-opacity="0.85"/>
<line x1="141.1" y1="234.5" x2="141.1" y2="233.0" stroke="#0000ff" stroke-opacity="0.85"/>
<line x1="142.2" y1="234.5" x2="142.2" y2="232.8" stroke="#0000ff" stroke-opacity="0.85"/>
<line x1="143.7" y1="234.5" x2="143.7" y2="233.0" stroke="#0000ff" stroke-opacity="0.85"/>
<line x1="145.2" y1="234.5" x2="145.2" y2="231.2" stroke="#0000ff" stroke-opacity="0.85"/>
<line x1="147.0" y1="234.5" x2="147.0" y2="232.3" stroke="#0000ff" stroke-opacity="0.85"/>
<line x1="148.0" y1="234.5" x2="148.0" y2="231.0" stroke="#0000ff" stroke-opacity="0.85"/>
<line x1="149.4" y1="234.5" x2="149.4" y2="232.4" stroke="#0000ff" stroke-opacity="0.85"/>
<line x1="150.3" y1="234.5" x2="150.3" y2="232.8" stroke="#0000ff" stroke-opacity="0.85"/>
<line x1="151.6" y1="234.5" x2="151.6" y2="232.6" stroke="#0000ff" stroke-opacity="0.85"/>
<line x1="153.0" y1="234.5" x2="153.0" y2="231.6" stroke="#0000ff" stroke-opacity="0.85"/>
<line x1="153.9" y1="234.5" x2="153.9" y2="232.2" stroke="#0000ff" stroke-opacity="0.85"/>
<line x1="154.8" y1="234.5" x2="154.8" y2="232.5" stroke="#0000ff" stroke-opacity="0.85"/>
<line x1="155.6" y1="234.5" x2="155.6" y2="232.3" stroke="#0000ff" stroke-opacity="0.85"/>
<line x1="157.2" y1="234.5" x2="157.2" y2="232.5" stroke="#0000ff" stroke-opacity="0.85"/>
<line x1="158.1" y1="234.5" x2="158.1" y2="231.9" stroke="#0000ff" stroke-opacity="0.85"/>
<line x1="159.7" y1="234.5" x2="159.7" y2="232.0" stroke="#0000ff" stroke-opacity="0.85"/>
<line x1="161.2" y1="234.5" x2="161.2" y2="230.0" stroke="#0000ff" stroke-opacity="0.85"/>
<line x1="162.0" y1="234.5" x2="162.0" y2="230.8" stroke="#0000ff" stroke-opacity="0.85"/>
<line x1="163.5" y1="234.5" x2="163.5" y2="230.3" stroke="#0000ff" stroke-opacity="0.85"/>
<line x1="165.0" y1="234.5" x2="165.0" y2="231.4" stroke="#0000ff" stroke-opacity="0.85"/>
<line x1="166.1" y1="234.5" x2="166.1" y2="230.4" stroke="#0000ff" stroke-opacity="0.85"/>
<line x1="167.1" y1="234.5" x2="167.1" y2="232.0" stroke="#0000ff" stroke-opacity="0.85"/>
<line x1="168.5" y1="234.5" x2="168.5" y2="230.6" stroke="#0000ff" stroke-opacity="0.85"/>
<line x1="169.3" y1="234.5" x2="169.3" y2="232.3" stroke="#0000ff" stroke-opacity="0.85"/>
<line x1="170.6" y1="234.5" x2="170.6" y2="229.6" stroke="#0000ff" stroke-opacity="0.85"/>
<line x1="171.9" y1="234.5" x2="171.9" y2="231.0" stroke="#0000ff" stroke-opacity="0.85"/>
<line x1="173.2" y1="234.5" x2="173.2" y2="229.9" stroke="#0000ff" stroke-opacity="0.85"/>
<line x1="173.9" y1="234.5" x2="173.9" y2="229.6" stroke="#0000ff" stroke-opacity="0.85"/>
<line x1="175.3" y1="234.5" x2="175.3" y2="230.7" stroke="#0000ff" stroke-opacity="0.85"/>
<line x1="176.0" y1="234.5" x2="176.0" y2="230.0" stroke="#0000ff" stroke-opacity="0.85"/>
<line x1="177.4" y1="234.5" x2="177.4" y2="230.2" stroke="#0000ff" stroke-opacity="0.85"/>
<line x1="178.9" y1="234.5" x2="178.9" y2="230.6" stroke="#0000ff" stroke-opacity="0.85"/>
<line x1="180.3" y1="234.5" x2="180.3" y2="230.8" stroke="#0000ff" stroke-opacity="0.85"/>
<line x1="181.1" y1="234.5" x2="181.1" y2="232.5" stroke="#0000ff" stroke-opacity="0.85"/>
<line x1="182.0" y1="234.5" x2="182.0" y2="231.0" stroke="#0000ff" stroke-opacity="0.85"/>
<line x1="182.8" y1="234.5" x2="182.8" y2="231.7" stroke="#0000ff" stroke-opacity="0.85"/>
<line x1="184.0" y1="234.5" x2="184.0" y2="231.3" stroke="#0000ff" stroke-opacity="0.85"/>
<line x1="185.6" y1="234.5" x2="185.6" y2="232.7" stroke="#0000ff" stroke-opacity="0.85"/>
<line x1="187.2" y1="234.5" x2="187.2" y2="231.3" stroke="#0000ff" stroke-opacity="0.85"/>
<line x1="188.5" y1="234.5" x2="188.5" y2="232.2" stroke="#0000ff" stroke-opacity="0.85"/>
<line x1="189.9" y1="234.5" x2="189.9" y2="231.2" stroke="#0000ff" stroke-opacity="0.85"/>
<line x1="191.6" y1="234.5" x2="191.6" y2="231.1" stroke="#0000ff" stroke-opacity="0.85"/>
<line x1="193.4" y1="234.5" x2="193.4" y2="232.8" stroke="#0000ff" stroke-opacity="0.85"/>
<line x1="195.3" y1="234.5" x2="195.3" y2="232.9" stroke="#0000ff" stroke-opacity="0.85"/>
<line x1="197.3" y1="234.5" x2="197.3" y2="232.4" stroke="#0000ff" stroke-opacity="0.85"/>
<line x1="198.4" y1="234.5" x2="198.4" y2="232.1" stroke="#0000ff" stroke-opacity="0.85"/>
<line x1="199.5" y1="234.5" x2="199.5" y2="232.3" stroke="#0000ff" stroke-opacity="0.85"/>
<line x1="200.6" y1="234.5" x2="200.6" y2="233.0" stroke="#0000ff" stroke-opacity="0.85"/>
<line x1="202.8" y1="234.5" x2="202.8" y2="232.6" stroke="#0000ff" stroke-opacity="0.85"/>
<line x1="204.6" y1="234.5" x2="204.6" y2="233.1" stroke="#0000ff" stroke-opacity="0.85"/>
<line x1="205.9" y1="234.5" x2="205.9" y2="233.6" stroke="#0000ff" stroke-opacity="0.85"/>
<line x1="176.0" y1="234.5" x2="176.0" y2="233.7" stroke="#000000" stroke-opacity="0.6"/>
<line x1="177.4" y1="234.5" x2="177.4" y2="232.7" stroke="#000000" stroke-opacity="0.6"/>
<line x1="179.6" y1="234.5" x2="179.6" y2="232.6" stroke="#000000" stroke-opacity="0.6"/>
<line x1="181.6" y1="234.5" x2="181.6" y2="232.4" stroke="#000000" stroke-opacity="0.6"/>
<line x1="183.0" y1="234.5" x2="183.0" y2="230.9" stroke="#000000" stroke-opacity="0.6"/>
<line x1="184.6" y1="234.5" x2="184.6" y2="231.5" stroke="#000000" stroke-opacity="0.6"/>
<line x1="186.2" y1="234.5" x2="186.2" y2="231.8" stroke="#000000" stroke-opacity="0.6"/>
<line x1="187.3" y1="234.5" x2="187.3" y2="232.0" stroke="#000000" stroke-opacity="0.6"/>
<line x1="188.3" y1="234.5" x2="188.3" y2="228.6" stroke="#000000" stroke-opacity="0.6"/>
<line x1="189.0" y1="234.5" x2="189.0" y2="229.7" stroke="#000000" stroke-opacity="0.6"/>
<line x1="190.3" y1="234.5" x2="190.3" y2="230.6" stroke="#000000" stroke-opacity="0.6"/>
<line x1="191.7" y1="234.5" x2="191.7" y2="230.7" stroke="#000000" stroke-opacity="0.6"/>
<line x1="192.9" y1="234.5" x2="192.9" y2="230.9" stroke="#000000" stroke-opacity="0.6"/>
<line x1="193.7" y1="234.5" x2="193.7" y2="229.5" stroke="#000000" stroke-opacity="0.6"/>
<line x1="195.2" y1="234.5" x2="195.2" y2="232.0" stroke="#000000" stroke-opacity="0.6"/>
<line x1="196.1" y1="234.5" x2="196.1" y2="230.1" stroke="#000000" stroke-opacity="0.6"/>
<line x1="196.9" y1="234.5" x2="196.9" y2="231.9" stroke="#000000" stroke-opacity="0.6"/>
<line x1="197.9" y1="234.5" x2="197.9" y2="230.7" stroke="#000000" stroke-opacity="0.6"/>
<line x1="199.2" y1="234.5" x2="199.2" y2="230.5" stroke="#000000" stroke-opacity="0.6"/>
<line x1="200.6" y1="234.5" x2="200.6" y2="232.4" stroke="#000000" stroke-opacity="0.6"/>
<line x1="201.6" y1="234.5" x2="201.6" y2="232.8" stroke="#000000" stroke-opacity="0.6"/>
<line x1="202.6" y1="234.5" x2="202.6" y2="232.8" stroke="#000000" stroke-opacity="0.6"/>
<line x1="204.7" y1="234.5" x2="204.7" y2="232.8" stroke="#000000" stroke-opacity="0.6"/>
<line x1="206.3" y1="234.5" x2="206.3" y2="233.2" stroke="#000000" stroke-opacity="0.6"/>
<line x1="181.5" y1="234.5" x2="181.5" y2="222.8" stroke="#000000" stroke-opacity="0.5"/>
<line x1="185.7" y1="234.5" x2="185.7" y2="218.6" stroke="#000000" stroke-opacity="0.5"/>
<line x1="186.5" y1="234.5" x2="186.5" y2="224.2" stroke="#000000" stroke-opacity="0.5"/>
<line x1="188.6" y1="234.5" x2="188.6" y2="230.2" stroke="#000000" stroke-opacity="0.5"/>
<line x1="190.3" y1="234.5" x2="190.3" y2="226.7" stroke="#000000" stroke-opacity="0.5"/>
<line x1="195.1" y1="234.5" x2="195.1" y2="225.9" stroke="#000000" stroke-opacity="0.5"/>
<line x1="146.3" y1="272.3" x2="146.3" y2="267.0" stroke="#0000ff" stroke-opacity="0.65"/>
<line x1="151.0" y1="272.3" x2="151.0" y2="269.2" stroke="#0000ff" stroke-opacity="0.65"/>
<line x1="155.3" y1="272.3" x2="155.3" y2="266.0" stroke="#0000ff" stroke-opacity="0.65"/>
<line x1="157.0" y1="272.3" x2="157.0" y2="264.9" stroke="#0000ff" stroke-opacity="0.65"/>
<line x1="159.4" y1="272.3" x2="159.4" y2="255.0" stroke="#0000ff" stroke-opacity="0.65"/>
<line x1="161.9" y1="272.3" x2="161.9" y2="268.1" stroke="#0000ff" stroke-opacity="0.65"/>
<line x1="164.6" y1="272.3" x2="164.6" y2="263.2" stroke="#0000ff" stroke-opacity="0.65"/>
<line x1="166.8" y1="272.3" x2="166.8" y2="264.9" stroke="#0000ff" stroke-opacity="0.65"/>
<line x1="168.4" y1="272.3" x2="168.4" y2="265.4" stroke="#0000ff" stroke-opacity="0.65"/>
<line x1="171.1" y1="272.3" x2="171.1" y2="260.5" stroke="#0000ff" stroke-opacity="0.65"/>
<line x1="172.2" y1="272.3" x2="172.2" y2="260.0" stroke="#0000ff" stroke-opacity="0.65"/>
<line x1="173.9" y1="272.3" x2="173.9" y2="267.6" stroke="#0000ff" stroke-opacity="0.65"/>
<line x1="176.6" y1="272.3" x2="176.6" y2="264.9" stroke="#0000ff" stroke-opacity="0.65"/>
<line x1="178.6" y1="272.3" x2="178.6" y2="255.6" stroke="#0000ff" stroke-opacity="0.65"/>
<line x1="179.9" y1="272.3" x2="179.9" y2="264.3" stroke="#0000ff" stroke-opacity="0.65"/>
<line x1="182.0" y1="272.3" x2="182.0" y2="264.3" stroke="#0000ff" stroke-opacity="0.65"/>
<line x1="183.1" y1="272.3" x2="183.1" y2="263.8" stroke="#0000ff" stroke-opacity="0.65"/>
<line x1="191.8" y1="272.3" x2="191.8" y2="265.4" stroke="#0000ff" stroke-opacity="0.65"/>
<line x1="194.4" y1="272.3" x2="194.4" y2="260.5" stroke="#0000ff" stroke-opacity="0.65"/>
<line x1="199.5" y1="272.3" x2="199.5" y2="265.4" stroke="#0000ff" stroke-opacity="0.65"/>
<line x1="185.8" y1="272.3" x2="185.8" y2="263.2" stroke="#000000" stroke-opacity="0.62"/>
<line x1="189.4" y1="272.3" x2="189.4" y2="249.1" stroke="#000000" stroke-opacity="0.62"/>
<line x1="192.3" y1="272.3" x2="192.3" y2="259.2" stroke="#000000" stroke-opacity="0.62"/>
<line x1="193.5" y1="272.3" x2="193.5" y2="262.1" stroke="#000000" stroke-opacity="0.62"/>
<line x1="195.3" y1="272.3" x2="195.3" y2="249.6" stroke="#000000" stroke-opacity="0.62"/>
<line x1="196.7" y1="272.3" x2="196.7" y2="256.7" stroke="#000000" stroke-opacity="0.62"/>
<line x1="198.5" y1="272.3" x2="198.5" y2="265.4" stroke="#000000" stroke-opacity="0.62"/>
<line x1="201.5" y1="272.3" x2="201.5" y2="267.0" stroke="#000000" stroke-opacity="0.62"/>
<line x1="203.6" y1="272.3" x2="203.6" y2="267.6" stroke="#000000" stroke-opacity="0.62"/>
<line x1="204.4" y1="272.3" x2="204.4" y2="264.3" stroke="#000000" stroke-opacity="0.62"/>
<line x1="205.8" y1="272.3" x2="205.8" y2="262.7" stroke="#000000" stroke-opacity="0.62"/>
<line x1="113.0" y1="272.3" x2="113.0" y2="271.3" stroke="#0000ff" stroke-opacity="0.3"/>
<line x1="119.0" y1="272.3" x2="119.0" y2="270.7" stroke="#0000ff" stroke-opacity="0.3"/>
<line x1="124.0" y1="272.3" x2="124.0" y2="270.7" stroke="#0000ff" stroke-opacity="0.3"/>
<line x1="129.0" y1="272.3" x2="129.0" y2="271.1" stroke="#0000ff" stroke-opacity="0.3"/>
<line x1="134.0" y1="272.3" x2="134.0" y2="271.3" stroke="#0000ff" stroke-opacity="0.3"/>
<line x1="139.0" y1="272.3" x2="139.0" y2="271.1" stroke="#0000ff" stroke-opacity="0.3"/>
<line x1="143.0" y1="272.3" x2="143.0" y2="270.7" stroke="#0000ff" stroke-opacity="0.3"/>
<line x1="151.0" y1="272.3" x2="151.0" y2="271.1" stroke="#0000ff" stroke-opacity="0.3"/>
<line x1="154.0" y1="272.3" x2="154.0" y2="271.1" stroke="#0000ff" stroke-opacity="0.3"/>
<line x1="161.0" y1="272.3" x2="161.0" y2="271.3" stroke="#0000ff" stroke-opacity="0.3"/>
<line x1="167.0" y1="272.3" x2="167.0" y2="271.1" stroke="#000000" stroke-opacity="0.3"/>
<line x1="172.0" y1="272.3" x2="172.0" y2="271.3" stroke="#0000ff" stroke-opacity="0.3"/>
<line x1="180.0" y1="272.3" x2="180.0" y2="271.1" stroke="#0000ff" stroke-opacity="0.3"/>
<line x1="184.0" y1="272.3" x2="184.0" y2="271.3" stroke="#000000" stroke-opacity="0.3"/>
<line x1="190.0" y1="272.3" x2="190.0" y2="270.7" stroke="#0000ff" stroke-opacity="0.3"/>
<line x1="195.0" y1="272.3" x2="195.0" y2="271.1" stroke="#000000" stroke-opacity="0.3"/>
<line x1="203.0" y1="272.3" x2="203.0" y2="271.1" stroke="#000000" stroke-opacity="0.3"/>
<line x1="210.0" y1="272.3" x2="210.0" y2="270.7" stroke="#0000ff" stroke-opacity="0.3"/>
<line x1="213.0" y1="272.3" x2="213.0" y2="271.3" stroke="#000000" stroke-opacity="0.3"/>
<line x1="219.0" y1="272.3" x2="219.0" y2="271.1" stroke="#0000ff" stroke-opacity="0.3"/>
<line x1="223.0" y1="272.3" x2="223.0" y2="270.7" stroke="#000000" stroke-opacity="0.3"/>
<line x1="229.0" y1="272.3" x2="229.0" y2="271.3" stroke="#000000" stroke-opacity="0.3"/>
<line x1="236.0" y1="272.3" x2="236.0" y2="271.3" stroke="#0000ff" stroke-opacity="0.3"/>
<line x1="242.0" y1="272.3" x2="242.0" y2="271.1" stroke="#0000ff" stroke-opacity="0.3"/>
<line x1="125.0" y1="272.3" x2="125.0" y2="271.5" stroke="#0000ff" stroke-opacity="0.85"/>
<line x1="127.6" y1="272.3" x2="127.6" y2="271.2" stroke="#0000ff" stroke-opacity="0.85"/>
<line x1="130.0" y1="272.3" x2="130.0" y2="271.1" stroke="#0000ff" stroke-opacity="0.85"/>
<line x1="131.8" y1="272.3" x2="131.8" y2="270.7" stroke="#0000ff" stroke-opacity="0.85"/>
<line x1="133.5" y1="272.3" x2="133.5" y2="271.0" stroke="#0000ff" stroke-opacity="0.85"/>
<line x1="135.6" y1="272.3" x2="135.6" y2="270.9" stroke="#0000ff" stroke-opacity="0.85"/>
<line x1="136.8" y1="272.3" x2="136.8" y2="270.4" stroke="#0000ff" stroke-opacity="0.85"/>
<line x1="138.4" y1="272.3" x2="138.4" y2="270.2" stroke="#0000ff" stroke-opacity="0.85"/>
<line x1="140.0" y1="272.3" x2="140.0" y2="269.6" stroke="#0000ff" stroke-opacity="0.85"/>
<line x1="141.5" y1="272.3" x2="141.5" y2="270.2" stroke="#0000ff" stroke-opacity="0.85"/>
<line x1="143.5" y1="272.3" x2="143.5" y2="270.5" stroke="#0000ff" stroke-opacity="0.85"/>
<line x1="144.5" y1="272.3" x2="144.5" y2="270.5" stroke="#0000ff" stroke-opacity="0.85"/>
<line x1="146.4" y1="272.3" x2="146.4" y2="270.6" stroke="#0000ff" stroke-opacity="0.85"/>
<line x1="147.4" y1="272.3" x2="147.4" y2="270.1" stroke="#0000ff" stroke-opacity="0.85"/>
<line x1="149.3" y1="272.3" x2="149.3" y2="270.3" stroke="#0000ff" stroke-opacity="0.85"/>
<line x1="150.2" y1="272.3" x2="150.2" y2="269.2" stroke="#0000ff" stroke-opacity="0.85"/>
<line x1="151.6" y1="272.3" x2="151.6" y2="269.9" stroke="#0000ff" stroke-opacity="0.85"/>
<line x1="153.4" y1="272.3" x2="153.4" y2="269.5" stroke="#0000ff" stroke-opacity="0.85"/>
<line x1="154.7" y1="272.3" x2="154.7" y2="270.0" stroke="#0000ff" stroke-opacity="0.85"/>
<line x1="155.6" y1="272.3" x2="155.6" y2="269.5" stroke="#0000ff" stroke-opacity="0.85"/>
<line x1="157.3" y1="272.3" x2="157.3" y2="268.4" stroke="#0000ff" stroke-opacity="0.85"/>
<line x1="158.2" y1="272.3" x2="158.2" y2="269.0" stroke="#0000ff" stroke-opacity="0.85"/>
<line x1="159.8" y1="272.3" x2="159.8" y2="269.0" stroke="#0000ff" stroke-opacity="0.85"/>
<line x1="160.7" y1="272.3" x2="160.7" y2="270.3" stroke="#0000ff" stroke-opacity="0.85"/>
<line x1="161.5" y1="272.3" x2="161.5" y2="269.5" stroke="#0000ff" stroke-opacity="0.85"/>
<line x1="163.1" y1="272.3" x2="163.1" y2="269.3" stroke="#0000ff" stroke-opacity="0.85"/>
<line x1="164.3" y1="272.3" x2="164.3" y2="268.3" stroke="#0000ff" stroke-opacity="0.85"/>
<line x1="165.2" y1="272.3" x2="165.2" y2="270.1" stroke="#0000ff" stroke-opacity="0.85"/>
<line x1="166.3" y1="272.3" x2="166.3" y2="268.5" stroke="#0000ff" stroke-opacity="0.85"/>
<line x1="167.5" y1="272.3" x2="167.5" y2="267.8" stroke="#0000ff" stroke-opacity="0.85"/>
<line x1="168.6" y1="272.3" x2="168.6" y2="270.4" stroke="#0000ff" stroke-opacity="0.85"/>
<line x1="169.8" y1="272.3" x2="169.8" y2="267.8" stroke="#0000ff" stroke-opacity="0.85"/>
<line x1="171.2" y1="272.3" x2="171.2" y2="267.9" stroke="#0000ff" stroke-opacity="0.85"/>
<line x1="172.3" y1="272.3" x2="172.3" y2="269.6" stroke="#0000ff" stroke-opacity="0.85"/>
<line x1="173.1" y1="272.3" x2="173.1" y2="269.7" stroke="#0000ff" stroke-opacity="0.85"/>
<line x1="173.8" y1="272.3" x2="173.8" y2="268.8" stroke="#0000ff" stroke-opacity="0.85"/>
<line x1="175.2" y1="272.3" x2="175.2" y2="269.9" stroke="#0000ff" stroke-opacity="0.85"/>
<line x1="176.6" y1="272.3" x2="176.6" y2="268.1" stroke="#0000ff" stroke-opacity="0.85"/>
<line x1="177.6" y1="272.3" x2="177.6" y2="270.0" stroke="#0000ff" stroke-opacity="0.85"/>
<line x1="178.3" y1="272.3" x2="178.3" y2="270.2" stroke="#0000ff" stroke-opacity="0.85"/>
<line x1="179.1" y1="272.3" x2="179.1" y2="269.5" stroke="#0000ff" stroke-opacity="0.85"/>
<line x1="179.8" y1="272.3" x2="179.8" y2="268.2" stroke="#0000ff" stroke-opacity="0.85"/>
<line x1="180.8" y1="272.3" x2="180.8" y2="267.2" stroke="#0000ff" stroke-opacity="0.85"/>
<line x1="182.1" y1="272.3" x2="182.1" y2="269.5" stroke="#0000ff" stroke-opacity="0.85"/>
<line x1="183.4" y1="272.3" x2="183.4" y2="269.0" stroke="#0000ff" stroke-opacity="0.85"/>
<line x1="184.2" y1="272.3" x2="184.2" y2="270.0" stroke="#0000ff" stroke-opacity="0.85"/>
<line x1="185.3" y1="272.3" x2="185.3" y2="268.9" stroke="#0000ff" stroke-opacity="0.85"/>
<line x1="186.7" y1="272.3" x2="186.7" y2="269.9" stroke="#0000ff" stroke-opacity="0.85"/>
<line x1="187.8" y1="272.3" x2="187.8" y2="269.8" stroke="#0000ff" stroke-opacity="0.85"/>
<line x1="189.3" y1="272.3" x2="189.3" y2="270.4" stroke="#0000ff" stroke-opacity="0.85"/>
<line x1="190.9" y1="272.3" x2="190.9" y2="269.8" stroke="#0000ff" stroke-opacity="0.85"/>
<line x1="192.1" y1="272.3" x2="192.1" y2="269.9" stroke="#0000ff" stroke-opacity="0.85"/>
<line x1="193.3" y1="272.3" x2="193.3" y2="269.1" stroke="#0000ff" stroke-opacity="0.85"/>
<line x1="194.2" y1="272.3" x2="194.2" y2="269.5" stroke="#0000ff" stroke-opacity="0.85"/>
<line x1="195.1" y1="272.3" x2="195.1" y2="269.5" stroke="#0000ff" stroke-opacity="0.85"/>
<line x1="196.1" y1="272.3" x2="196.1" y2="268.7" stroke="#0000ff" stroke-opacity="0.85"/>
<line x1="197.8" y1="272.3" x2="197.8" y2="269.5" stroke="#0000ff" stroke-opacity="0.85"/>
<line x1="198.8" y1="272.3" x2="198.8" y2="270.7" stroke="#0000ff" stroke-opacity="0.85"/>
<line x1="200.2" y1="272.3" x2="200.2" y2="269.3" stroke="#0000ff" stroke-opacity="0.85"/>
<line x1="202.1" y1="272.3" x2="202.1" y2="270.2" stroke="#0000ff" stroke-opacity="0.85"/>
<line x1="203.6" y1="272.3" x2="203.6" y2="270.6" stroke="#0000ff" stroke-opacity="0.85"/>
<line x1="205.1" y1="272.3" x2="205.1" y2="269.9" stroke="#0000ff" stroke-opacity="0.85"/>
<line x1="206.2" y1="272.3" x2="206.2" y2="270.5" stroke="#0000ff" stroke-opacity="0.85"/>
<line x1="208.4" y1="272.3" x2="208.4" y2="270.9" stroke="#0000ff" stroke-opacity="0.85"/>
<line x1="210.1" y1="272.3" x2="210.1" y2="271.1" stroke="#0000ff" stroke-opacity="0.85"/>
<line x1="211.9" y1="272.3" x2="211.9" y2="271.5" stroke="#0000ff" stroke-opacity="0.85"/>
<line x1="183.0" y1="272.3" x2="183.0" y2="271.5" stroke="#000000" stroke-opacity="0.6"/>
<line x1="185.6" y1="272.3" x2="185.6" y2="270.8" stroke="#000000" stroke-opacity="0.6"/>
<line x1="187.2" y1="272.3" x2="187.2" y2="268.7" stroke="#000000" stroke-opacity="0.6"/>
<line x1="188.6" y1="272.3" x2="188.6" y2="268.6" stroke="#000000" stroke-opacity="0.6"/>
<line x1="189.6" y1="272.3" x2="189.6" y2="269.8" stroke="#000000" stroke-opacity="0.6"/>
<line x1="190.4" y1="272.3" x2="190.4" y2="269.6" stroke="#000000" stroke-opacity="0.6"/>
<line x1="191.6" y1="272.3" x2="191.6" y2="269.9" stroke="#000000" stroke-opacity="0.6"/>
<line x1="193.1" y1="272.3" x2="193.1" y2="268.3" stroke="#000000" stroke-opacity="0.6"/>
<line x1="193.9" y1="272.3" x2="193.9" y2="266.8" stroke="#000000" stroke-opacity="0.6"/>
<line x1="194.9" y1="272.3" x2="194.9" y2="268.6" stroke="#000000" stroke-opacity="0.6"/>
<line x1="196.2" y1="272.3" x2="196.2" y2="269.9" stroke="#000000" stroke-opacity="0.6"/>
<line x1="197.6" y1="272.3" x2="197.6" y2="269.7" stroke="#000000" stroke-opacity="0.6"/>
<line x1="198.7" y1="272.3" x2="198.7" y2="270.1" stroke="#000000" stroke-opacity="0.6"/>
<line x1="199.5" y1="272.3" x2="199.5" y2="267.5" stroke="#000000" stroke-opacity="0.6"/>
<line x1="200.4" y1="272.3" x2="200.4" y2="269.2" stroke="#000000" stroke-opacity="0.6"/>
<line x1="202.0" y1="272.3" x2="202.0" y2="270.3" stroke="#000000" stroke-opacity="0.6"/>
<line x1="203.3" y1="272.3" x2="203.3" y2="269.5" stroke="#000000" stroke-opacity="0.6"/>
<line x1="205.0" y1="272.3" x2="205.0" y2="268.8" stroke="#000000" stroke-opacity="0.6"/>
<line x1="206.9" y1="272.3" x2="206.9" y2="270.6" stroke="#000000" stroke-opacity="0.6"/>
<line x1="208.0" y1="272.3" x2="208.0" y2="269.5" stroke="#000000" stroke-opacity="0.6"/>
<line x1="209.6" y1="272.3" x2="209.6" y2="270.9" stroke="#000000" stroke-opacity="0.6"/>
<line x1="211.8" y1="272.3" x2="211.8" y2="271.2" stroke="#000000" stroke-opacity="0.6"/>
<line x1="190.0" y1="272.3" x2="190.0" y2="261.5" stroke="#000000" stroke-opacity="0.5"/>
<line x1="192.9" y1="272.3" x2="192.9" y2="266.7" stroke="#000000" stroke-opacity="0.5"/>
<line x1="194.1" y1="272.3" x2="194.1" y2="266.9" stroke="#000000" stroke-opacity="0.5"/>
<line x1="195.9" y1="272.3" x2="195.9" y2="259.6" stroke="#000000" stroke-opacity="0.5"/>
<line x1="197.3" y1="272.3" x2="197.3" y2="263.0" stroke="#000000" stroke-opacity="0.5"/>
<line x1="151.0" y1="310.2" x2="151.0" y2="306.7" stroke="#0000ff" stroke-opacity="0.65"/>
<line x1="153.0" y1="310.2" x2="153.0" y2="306.0" stroke="#0000ff" stroke-opacity="0.65"/>
<line x1="155.0" y1="310.2" x2="155.0" y2="306.5" stroke="#0000ff" stroke-opacity="0.65"/>
<line x1="157.6" y1="310.2" x2="157.6" y2="306.7" stroke="#0000ff" stroke-opacity="0.65"/>
<line x1="160.3" y1="310.2" x2="160.3" y2="306.7" stroke="#0000ff" stroke-opacity="0.65"/>
<line x1="163.0" y1="310.2" x2="163.0" y2="308.3" stroke="#0000ff" stroke-opacity="0.65"/>
<line x1="166.9" y1="310.2" x2="166.9" y2="294.2" stroke="#0000ff" stroke-opacity="0.65"/>
<line x1="167.6" y1="310.2" x2="167.6" y2="294.2" stroke="#0000ff" stroke-opacity="0.65"/>
<line x1="169.0" y1="310.2" x2="169.0" y2="305.0" stroke="#0000ff" stroke-opacity="0.65"/>
<line x1="172.9" y1="310.2" x2="172.9" y2="305.6" stroke="#0000ff" stroke-opacity="0.65"/>
<line x1="174.2" y1="310.2" x2="174.2" y2="293.6" stroke="#0000ff" stroke-opacity="0.65"/>
<line x1="176.4" y1="310.2" x2="176.4" y2="296.3" stroke="#0000ff" stroke-opacity="0.65"/>
<line x1="177.5" y1="310.2" x2="177.5" y2="299.6" stroke="#0000ff" stroke-opacity="0.65"/>
<line x1="180.0" y1="310.2" x2="180.0" y2="304.5" stroke="#0000ff" stroke-opacity="0.65"/>
<line x1="181.6" y1="310.2" x2="181.6" y2="306.1" stroke="#0000ff" stroke-opacity="0.65"/>
<line x1="183.8" y1="310.2" x2="183.8" y2="304.0" stroke="#0000ff" stroke-opacity="0.65"/>
<line x1="184.9" y1="310.2" x2="184.9" y2="304.5" stroke="#0000ff" stroke-opacity="0.65"/>
<line x1="186.8" y1="310.2" x2="186.8" y2="302.9" stroke="#0000ff" stroke-opacity="0.65"/>
<line x1="188.1" y1="310.2" x2="188.1" y2="304.0" stroke="#0000ff" stroke-opacity="0.65"/>
<line x1="196.8" y1="310.2" x2="196.8" y2="305.6" stroke="#0000ff" stroke-opacity="0.65"/>
<line x1="203.9" y1="310.2" x2="203.9" y2="307.2" stroke="#0000ff" stroke-opacity="0.65"/>
<line x1="196.3" y1="310.2" x2="196.3" y2="297.4" stroke="#000000" stroke-opacity="0.62"/>
<line x1="199.6" y1="310.2" x2="199.6" y2="291.4" stroke="#000000" stroke-opacity="0.62"/>
<line x1="201.2" y1="310.2" x2="201.2" y2="305.6" stroke="#000000" stroke-opacity="0.62"/>
<line x1="205.9" y1="310.2" x2="205.9" y2="300.1" stroke="#000000" stroke-opacity="0.62"/>
<line x1="207.2" y1="310.2" x2="207.2" y2="295.0" stroke="#000000" stroke-opacity="0.62"/>
<line x1="209.4" y1="310.2" x2="209.4" y2="306.7" stroke="#000000" stroke-opacity="0.62"/>
<line x1="211.3" y1="310.2" x2="211.3" y2="305.6" stroke="#000000" stroke-opacity="0.62"/>
<line x1="131.0" y1="310.2" x2="131.0" y2="309.0" stroke="#0000ff" stroke-opacity="0.3"/>
<line x1="134.0" y1="310.2" x2="134.0" y2="309.2" stroke="#0000ff" stroke-opacity="0.3"/>
<line x1="139.0" y1="310.2" x2="139.0" y2="309.0" stroke="#000000" stroke-opacity="0.3"/>
<line x1="142.0" y1="310.2" x2="142.0" y2="308.6" stroke="#000000" stroke-opacity="0.3"/>
<line x1="146.0" y1="310.2" x2="146.0" y2="309.0" stroke="#0000ff" stroke-opacity="0.3"/>
<line x1="151.0" y1="310.2" x2="151.0" y2="309.0" stroke="#0000ff" stroke-opacity="0.3"/>
<line x1="159.0" y1="310.2" x2="159.0" y2="309.0" stroke="#0000ff" stroke-opacity="0.3"/>
<line x1="166.0" y1="310.2" x2="166.0" y2="309.0" stroke="#0000ff" stroke-opacity="0.3"/>
<line x1="171.0" y1="310.2" x2="171.0" y2="308.6" stroke="#000000" stroke-opacity="0.3"/>
<line x1="174.0" y1="310.2" x2="174.0" y2="308.6" stroke="#0000ff" stroke-opacity="0.3"/>
<line x1="182.0" y1="310.2" x2="182.0" y2="309.0" stroke="#0000ff" stroke-opacity="0.3"/>
<line x1="185.0" y1="310.2" x2="185.0" y2="309.0" stroke="#0000ff" stroke-opacity="0.3"/>
<line x1="188.0" y1="310.2" x2="188.0" y2="309.0" stroke="#0000ff" stroke-opacity="0.3"/>
<line x1="191.0" y1="310.2" x2="191.0" y2="308.6" stroke="#0000ff" stroke-opacity="0.3"/>
<line x1="196.0" y1="310.2" x2="196.0" y2="309.0" stroke="#000000" stroke-opacity="0.3"/>
<line x1="203.0" y1="310.2" x2="203.0" y2="309.2" stroke="#0000ff" stroke-opacity="0.3"/>
<line x1="211.0" y1="310.2" x2="211.0" y2="308.6" stroke="#0000ff" stroke-opacity="0.3"/>
<line x1="216.0" y1="310.2" x2="216.0" y2="309.0" stroke="#0000ff" stroke-opacity="0.3"/>
<line x1="223.0" y1="310.2" x2="223.0" y2="308.6" stroke="#000000" stroke-opacity="0.3"/>
<line x1="226.0" y1="310.2" x2="226.0" y2="309.2" stroke="#000000" stroke-opacity="0.3"/>
<line x1="229.0" y1="310.2" x2="229.0" y2="309.0" stroke="#0000ff" stroke-opacity="0.3"/>
<line x1="235.0" y1="310.2" x2="235.0" y2="309.0" stroke="#0000ff" stroke-opacity="0.3"/>
<line x1="241.0" y1="310.2" x2="241.0" y2="309.0" stroke="#0000ff" stroke-opacity="0.3"/>
<line x1="247.0" y1="310.2" x2="247.0" y2="309.2" stroke="#0000ff" stroke-opacity="0.3"/>
<line x1="138.0" y1="310.2" x2="138.0" y2="309.4" stroke="#0000ff" stroke-opacity="0.85"/>
<line x1="140.6" y1="310.2" x2="140.6" y2="308.9" stroke="#0000ff" stroke-opacity="0.85"/>
<line x1="142.9" y1="310.2" x2="142.9" y2="309.0" stroke="#0000ff" stroke-opacity="0.85"/>
<line x1="144.6" y1="310.2" x2="144.6" y2="308.7" stroke="#0000ff" stroke-opacity="0.85"/>
<line x1="146.7" y1="310.2" x2="146.7" y2="308.9" stroke="#0000ff" stroke-opacity="0.85"/>
<line x1="147.8" y1="310.2" x2="147.8" y2="308.6" stroke="#0000ff" stroke-opacity="0.85"/>
<line x1="148.9" y1="310.2" x2="148.9" y2="308.7" stroke="#0000ff" stroke-opacity="0.85"/>
<line x1="149.9" y1="310.2" x2="149.9" y2="308.2" stroke="#0000ff" stroke-opacity="0.85"/>
<line x1="151.4" y1="310.2" x2="151.4" y2="308.2" stroke="#0000ff" stroke-opacity="0.85"/>
<line x1="152.8" y1="310.2" x2="152.8" y2="308.6" stroke="#0000ff" stroke-opacity="0.85"/>
<line x1="154.2" y1="310.2" x2="154.2" y2="307.6" stroke="#0000ff" stroke-opacity="0.85"/>
<line x1="155.2" y1="310.2" x2="155.2" y2="308.4" stroke="#0000ff" stroke-opacity="0.85"/>
<line x1="156.1" y1="310.2" x2="156.1" y2="308.5" stroke="#0000ff" stroke-opacity="0.85"/>
<line x1="157.4" y1="310.2" x2="157.4" y2="308.0" stroke="#0000ff" stroke-opacity="0.85"/>
<line x1="159.1" y1="310.2" x2="159.1" y2="307.2" stroke="#0000ff" stroke-opacity="0.85"/>
<line x1="160.0" y1="310.2" x2="160.0" y2="308.3" stroke="#0000ff" stroke-opacity="0.85"/>
<line x1="161.2" y1="310.2" x2="161.2" y2="307.9" stroke="#0000ff" stroke-opacity="0.85"/>
<line x1="162.8" y1="310.2" x2="162.8" y2="308.2" stroke="#0000ff" stroke-opacity="0.85"/>
<line x1="164.3" y1="310.2" x2="164.3" y2="307.1" stroke="#0000ff" stroke-opacity="0.85"/>
<line x1="165.8" y1="310.2" x2="165.8" y2="307.2" stroke="#0000ff" stroke-opacity="0.85"/>
<line x1="166.9" y1="310.2" x2="166.9" y2="308.0" stroke="#0000ff" stroke-opacity="0.85"/>
<line x1="168.3" y1="310.2" x2="168.3" y2="308.0" stroke="#0000ff" stroke-opacity="0.85"/>
<line x1="169.4" y1="310.2" x2="169.4" y2="307.1" stroke="#0000ff" stroke-opacity="0.85"/>
<line x1="170.1" y1="310.2" x2="170.1" y2="307.6" stroke="#0000ff" stroke-opacity="0.85"/>
<line x1="170.8" y1="310.2" x2="170.8" y2="308.0" stroke="#0000ff" stroke-opacity="0.85"/>
<line x1="171.5" y1="310.2" x2="171.5" y2="307.9" stroke="#0000ff" stroke-opacity="0.85"/>
<line x1="172.9" y1="310.2" x2="172.9" y2="308.1" stroke="#0000ff" stroke-opacity="0.85"/>
<line x1="173.6" y1="310.2" x2="173.6" y2="307.7" stroke="#0000ff" stroke-opacity="0.85"/>
<line x1="174.3" y1="310.2" x2="174.3" y2="307.5" stroke="#0000ff" stroke-opacity="0.85"/>
<line x1="175.0" y1="310.2" x2="175.0" y2="307.2" stroke="#0000ff" stroke-opacity="0.85"/>
<line x1="175.7" y1="310.2" x2="175.7" y2="307.2" stroke="#0000ff" stroke-opacity="0.85"/>
<line x1="176.5" y1="310.2" x2="176.5" y2="308.4" stroke="#0000ff" stroke-opacity="0.85"/>
<line x1="177.5" y1="310.2" x2="177.5" y2="306.9" stroke="#0000ff" stroke-opacity="0.85"/>
<line x1="178.3" y1="310.2" x2="178.3" y2="307.0" stroke="#0000ff" stroke-opacity="0.85"/>
<line x1="179.4" y1="310.2" x2="179.4" y2="308.5" stroke="#0000ff" stroke-opacity="0.85"/>
<line x1="180.5" y1="310.2" x2="180.5" y2="308.2" stroke="#0000ff" stroke-opacity="0.85"/>
<line x1="181.3" y1="310.2" x2="181.3" y2="308.3" stroke="#0000ff" stroke-opacity="0.85"/>
<line x1="182.7" y1="310.2" x2="182.7" y2="308.3" stroke="#0000ff" stroke-opacity="0.85"/>
<line x1="183.5" y1="310.2" x2="183.5" y2="308.0" stroke="#0000ff" stroke-opacity="0.85"/>
<line x1="184.4" y1="310.2" x2="184.4" y2="307.9" stroke="#0000ff" stroke-opacity="0.85"/>
<line x1="185.5" y1="310.2" x2="185.5" y2="307.4" stroke="#0000ff" stroke-opacity="0.85"/>
<line x1="187.1" y1="310.2" x2="187.1" y2="307.2" stroke="#0000ff" stroke-opacity="0.85"/>
<line x1="187.9" y1="310.2" x2="187.9" y2="307.7" stroke="#0000ff" stroke-opacity="0.85"/>
<line x1="189.6" y1="310.2" x2="189.6" y2="307.8" stroke="#0000ff" stroke-opacity="0.85"/>
<line x1="190.4" y1="310.2" x2="190.4" y2="308.7" stroke="#0000ff" stroke-opacity="0.85"/>
<line x1="191.7" y1="310.2" x2="191.7" y2="308.6" stroke="#0000ff" stroke-opacity="0.85"/>
<line x1="192.6" y1="310.2" x2="192.6" y2="307.3" stroke="#0000ff" stroke-opacity="0.85"/>
<line x1="193.5" y1="310.2" x2="193.5" y2="308.0" stroke="#0000ff" stroke-opacity="0.85"/>
<line x1="195.3" y1="310.2" x2="195.3" y2="307.6" stroke="#0000ff" stroke-opacity="0.85"/>
<line x1="196.2" y1="310.2" x2="196.2" y2="307.8" stroke="#0000ff" stroke-opacity="0.85"/>
<line x1="197.6" y1="310.2" x2="197.6" y2="308.0" stroke="#0000ff" stroke-opacity="0.85"/>
<line x1="198.6" y1="310.2" x2="198.6" y2="308.1" stroke="#0000ff" stroke-opacity="0.85"/>
<line x1="199.6" y1="310.2" x2="199.6" y2="308.7" stroke="#0000ff" stroke-opacity="0.85"/>
<line x1="201.0" y1="310.2" x2="201.0" y2="308.3" stroke="#0000ff" stroke-opacity="0.85"/>
<line x1="202.1" y1="310.2" x2="202.1" y2="308.5" stroke="#0000ff" stroke-opacity="0.85"/>
<line x1="203.6" y1="310.2" x2="203.6" y2="308.3" stroke="#0000ff" stroke-opacity="0.85"/>
<line x1="204.7" y1="310.2" x2="204.7" y2="308.4" stroke="#0000ff" stroke-opacity="0.85"/>
<line x1="205.7" y1="310.2" x2="205.7" y2="308.5" stroke="#0000ff" stroke-opacity="0.85"/>
<line x1="207.3" y1="310.2" x2="207.3" y2="308.5" stroke="#0000ff" stroke-opacity="0.85"/>
<line x1="208.9" y1="310.2" x2="208.9" y2="308.4" stroke="#0000ff" stroke-opacity="0.85"/>
<line x1="211.1" y1="310.2" x2="211.1" y2="309.0" stroke="#0000ff" stroke-opacity="0.85"/>
<line x1="212.3" y1="310.2" x2="212.3" y2="309.0" stroke="#0000ff" stroke-opacity="0.85"/>
<line x1="214.6" y1="310.2" x2="214.6" y2="309.1" stroke="#0000ff" stroke-opacity="0.85"/>
<line x1="192.0" y1="310.2" x2="192.0" y2="309.4" stroke="#000000" stroke-opacity="0.6"/>
<line x1="194.0" y1="310.2" x2="194.0" y2="308.7" stroke="#000000" stroke-opacity="0.6"/>
<line x1="195.6" y1="310.2" x2="195.6" y2="308.3" stroke="#000000" stroke-opacity="0.6"/>
<line x1="196.7" y1="310.2" x2="196.7" y2="307.9" stroke="#000000" stroke-opacity="0.6"/>
<line x1="198.1" y1="310.2" x2="198.1" y2="307.7" stroke="#000000" stroke-opacity="0.6"/>
<line x1="199.4" y1="310.2" x2="199.4" y2="308.6" stroke="#000000" stroke-opacity="0.6"/>
<line x1="200.2" y1="310.2" x2="200.2" y2="308.1" stroke="#000000" stroke-opacity="0.6"/>
<line x1="201.4" y1="310.2" x2="201.4" y2="307.9" stroke="#000000" stroke-opacity="0.6"/>
<line x1="202.2" y1="310.2" x2="202.2" y2="308.4" stroke="#000000" stroke-opacity="0.6"/>
<line x1="202.9" y1="310.2" x2="202.9" y2="307.6" stroke="#000000" stroke-opacity="0.6"/>
<line x1="204.2" y1="310.2" x2="204.2" y2="307.3" stroke="#000000" stroke-opacity="0.6"/>
<line x1="205.2" y1="310.2" x2="205.2" y2="308.6" stroke="#000000" stroke-opacity="0.6"/>
<line x1="206.7" y1="310.2" x2="206.7" y2="307.4" stroke="#000000" stroke-opacity="0.6"/>
<line x1="208.2" y1="310.2" x2="208.2" y2="308.2" stroke="#000000" stroke-opacity="0.6"/>
<line x1="209.1" y1="310.2" x2="209.1" y2="308.4" stroke="#000000" stroke-opacity="0.6"/>
<line x1="210.0" y1="310.2" x2="210.0" y2="308.3" stroke="#000000" stroke-opacity="0.6"/>
<line x1="211.0" y1="310.2" x2="211.0" y2="308.8" stroke="#000000" stroke-opacity="0.6"/>
<line x1="212.4" y1="310.2" x2="212.4" y2="308.4" stroke="#000000" stroke-opacity="0.6"/>
<line x1="213.5" y1="310.2" x2="213.5" y2="308.9" stroke="#000000" stroke-opacity="0.6"/>
<line x1="214.6" y1="310.2" x2="214.6" y2="308.7" stroke="#000000" stroke-opacity="0.6"/>
<line x1="196.9" y1="310.2" x2="196.9" y2="304.7" stroke="#000000" stroke-opacity="0.5"/>
<line x1="200.2" y1="310.2" x2="200.2" y2="300.8" stroke="#000000" stroke-opacity="0.5"/>
<line x1="206.5" y1="310.2" x2="206.5" y2="305.1" stroke="#000000" stroke-opacity="0.5"/>
<line x1="207.8" y1="310.2" x2="207.8" y2="304.6" stroke="#000000" stroke-opacity="0.5"/>
<line x1="141.5" y1="348.1" x2="141.5" y2="347.0" stroke="#0000ff" stroke-opacity="0.65"/>
<line x1="150.3" y1="348.1" x2="150.3" y2="345.2" stroke="#0000ff" stroke-opacity="0.65"/>
<line x1="154.0" y1="348.1" x2="154.0" y2="347.0" stroke="#0000ff" stroke-opacity="0.65"/>
<line x1="156.2" y1="348.1" x2="156.2" y2="347.0" stroke="#0000ff" stroke-opacity="0.65"/>
<line x1="158.4" y1="348.1" x2="158.4" y2="347.0" stroke="#0000ff" stroke-opacity="0.65"/>
<line x1="163.9" y1="348.1" x2="163.9" y2="344.7" stroke="#0000ff" stroke-opacity="0.65"/>
<line x1="167.7" y1="348.1" x2="167.7" y2="346.3" stroke="#0000ff" stroke-opacity="0.65"/>
<line x1="171.5" y1="348.1" x2="171.5" y2="336.0" stroke="#0000ff" stroke-opacity="0.65"/>
<line x1="172.6" y1="348.1" x2="172.6" y2="336.5" stroke="#0000ff" stroke-opacity="0.65"/>
<line x1="175.8" y1="348.1" x2="175.8" y2="346.3" stroke="#0000ff" stroke-opacity="0.65"/>
<line x1="179.7" y1="348.1" x2="179.7" y2="335.4" stroke="#0000ff" stroke-opacity="0.65"/>
<line x1="181.6" y1="348.1" x2="181.6" y2="334.9" stroke="#0000ff" stroke-opacity="0.65"/>
<line x1="182.4" y1="348.1" x2="182.4" y2="343.6" stroke="#0000ff" stroke-opacity="0.65"/>
<line x1="185.7" y1="348.1" x2="185.7" y2="346.9" stroke="#0000ff" stroke-opacity="0.65"/>
<line x1="188.4" y1="348.1" x2="188.4" y2="346.3" stroke="#0000ff" stroke-opacity="0.65"/>
<line x1="191.1" y1="348.1" x2="191.1" y2="342.5" stroke="#0000ff" stroke-opacity="0.65"/>
<line x1="194.4" y1="348.1" x2="194.4" y2="346.3" stroke="#0000ff" stroke-opacity="0.65"/>
<line x1="195.9" y1="348.1" x2="195.9" y2="345.2" stroke="#0000ff" stroke-opacity="0.65"/>
<line x1="198.6" y1="348.1" x2="198.6" y2="346.3" stroke="#0000ff" stroke-opacity="0.65"/>
<line x1="202.4" y1="348.1" x2="202.4" y2="345.2" stroke="#0000ff" stroke-opacity="0.65"/>
<line x1="204.6" y1="348.1" x2="204.6" y2="340.3" stroke="#0000ff" stroke-opacity="0.65"/>
<line x1="211.7" y1="348.1" x2="211.7" y2="347.0" stroke="#0000ff" stroke-opacity="0.65"/>
<line x1="207.3" y1="348.1" x2="207.3" y2="337.0" stroke="#000000" stroke-opacity="0.62"/>
<line x1="219.9" y1="348.1" x2="219.9" y2="339.8" stroke="#000000" stroke-opacity="0.62"/>
<line x1="227.5" y1="348.1" x2="227.5" y2="347.0" stroke="#0000ff" stroke-opacity="0.65"/>
<line x1="235.7" y1="348.1" x2="235.7" y2="347.0" stroke="#0000ff" stroke-opacity="0.65"/>
<line x1="140.0" y1="348.1" x2="140.0" y2="346.4" stroke="#0000ff" stroke-opacity="0.3"/>
<line x1="144.0" y1="348.1" x2="144.0" y2="346.4" stroke="#0000ff" stroke-opacity="0.3"/>
<line x1="148.0" y1="348.1" x2="148.0" y2="346.4" stroke="#0000ff" stroke-opacity="0.3"/>
<line x1="152.0" y1="348.1" x2="152.0" y2="346.9" stroke="#0000ff" stroke-opacity="0.3"/>
<line x1="156.0" y1="348.1" x2="156.0" y2="347.1" stroke="#0000ff" stroke-opacity="0.3"/>
<line x1="163.0" y1="348.1" x2="163.0" y2="347.1" stroke="#0000ff" stroke-opacity="0.3"/>
<line x1="166.0" y1="348.1" x2="166.0" y2="347.1" stroke="#0000ff" stroke-opacity="0.3"/>
<line x1="174.0" y1="348.1" x2="174.0" y2="347.1" stroke="#0000ff" stroke-opacity="0.3"/>
<line x1="181.0" y1="348.1" x2="181.0" y2="346.4" stroke="#0000ff" stroke-opacity="0.3"/>
<line x1="186.0" y1="348.1" x2="186.0" y2="347.1" stroke="#0000ff" stroke-opacity="0.3"/>
<line x1="192.0" y1="348.1" x2="192.0" y2="346.4" stroke="#000000" stroke-opacity="0.3"/>
<line x1="197.0" y1="348.1" x2="197.0" y2="346.4" stroke="#0000ff" stroke-opacity="0.3"/>
<line x1="204.0" y1="348.1" x2="204.0" y2="347.1" stroke="#0000ff" stroke-opacity="0.3"/>
<line x1="212.0" y1="348.1" x2="212.0" y2="346.9" stroke="#0000ff" stroke-opacity="0.3"/>
<line x1="218.0" y1="348.1" x2="218.0" y2="347.1" stroke="#0000ff" stroke-opacity="0.3"/>
<line x1="225.0" y1="348.1" x2="225.0" y2="346.9" stroke="#0000ff" stroke-opacity="0.3"/>
<line x1="231.0" y1="348.1" x2="231.0" y2="346.4" stroke="#0000ff" stroke-opacity="0.3"/>
<line x1="207.9" y1="348.1" x2="207.9" y2="341.9" stroke="#000000" stroke-opacity="0.5"/>
<line x1="163.3" y1="385.9" x2="163.3" y2="385.0" stroke="#0000ff" stroke-opacity="0.65"/>
<line x1="170.2" y1="385.9" x2="170.2" y2="379.8" stroke="#0000ff" stroke-opacity="0.65"/>
<line x1="183.6" y1="385.9" x2="183.6" y2="376.6" stroke="#0000ff" stroke-opacity="0.65"/>
<line x1="184.9" y1="385.9" x2="184.9" y2="379.0" stroke="#0000ff" stroke-opacity="0.65"/>
<line x1="186.1" y1="385.9" x2="186.1" y2="378.5" stroke="#0000ff" stroke-opacity="0.65"/>
<line x1="196.9" y1="385.9" x2="196.9" y2="383.6" stroke="#0000ff" stroke-opacity="0.65"/>
<line x1="220.4" y1="385.9" x2="220.4" y2="379.8" stroke="#000000" stroke-opacity="0.62"/>
<line x1="411.5" y1="45.2" x2="411.5" y2="36.0" stroke="#000000" stroke-opacity="0.62"/>
<line x1="392.8" y1="83.1" x2="392.8" y2="76.7" stroke="#0000ff" stroke-opacity="0.65"/>
<line x1="414.8" y1="83.1" x2="414.8" y2="60.0" stroke="#000000" stroke-opacity="0.62"/>
<line x1="415.5" y1="83.1" x2="415.5" y2="66.3" stroke="#000000" stroke-opacity="0.62"/>
<line x1="419.6" y1="83.1" x2="419.6" y2="72.0" stroke="#000000" stroke-opacity="0.62"/>
<line x1="421.0" y1="83.1" x2="421.0" y2="68.0" stroke="#000000" stroke-opacity="0.62"/>
<line x1="424.4" y1="83.1" x2="424.4" y2="72.7" stroke="#000000" stroke-opacity="0.62"/>
<line x1="380.3" y1="121.0" x2="380.3" y2="118.0" stroke="#0000ff" stroke-opacity="0.65"/>
<line x1="384.7" y1="121.0" x2="384.7" y2="118.0" stroke="#0000ff" stroke-opacity="0.65"/>
<line x1="389.0" y1="121.0" x2="389.0" y2="118.0" stroke="#0000ff" stroke-opacity="0.65"/>
<line x1="393.4" y1="121.0" x2="393.4" y2="118.0" stroke="#0000ff" stroke-opacity="0.65"/>
<line x1="397.8" y1="121.0" x2="397.8" y2="116.3" stroke="#0000ff" stroke-opacity="0.65"/>
<line x1="401.0" y1="121.0" x2="401.0" y2="107.0" stroke="#0000ff" stroke-opacity="0.65"/>
<line x1="403.2" y1="121.0" x2="403.2" y2="114.7" stroke="#0000ff" stroke-opacity="0.65"/>
<line x1="407.6" y1="121.0" x2="407.6" y2="115.2" stroke="#0000ff" stroke-opacity="0.65"/>
<line x1="412.0" y1="121.0" x2="412.0" y2="109.2" stroke="#0000ff" stroke-opacity="0.65"/>
<line x1="414.7" y1="121.0" x2="414.7" y2="118.5" stroke="#0000ff" stroke-opacity="0.65"/>
<line x1="419.6" y1="121.0" x2="419.6" y2="92.4" stroke="#000000" stroke-opacity="0.62"/>
<line x1="420.7" y1="121.0" x2="420.7" y2="93.0" stroke="#000000" stroke-opacity="0.62"/>
<line x1="422.4" y1="121.0" x2="422.4" y2="98.9" stroke="#000000" stroke-opacity="0.62"/>
<line x1="424.6" y1="121.0" x2="424.6" y2="106.0" stroke="#000000" stroke-opacity="0.62"/>
<line x1="426.8" y1="121.0" x2="426.8" y2="99.4" stroke="#000000" stroke-opacity="0.62"/>
<line x1="428.5" y1="121.0" x2="428.5" y2="104.3" stroke="#000000" stroke-opacity="0.62"/>
<line x1="431.8" y1="121.0" x2="431.8" y2="102.2" stroke="#000000" stroke-opacity="0.62"/>
<line x1="433.0" y1="121.0" x2="433.0" y2="116.3" stroke="#000000" stroke-opacity="0.62"/>
<line x1="438.5" y1="121.0" x2="438.5" y2="119.0" stroke="#000000" stroke-opacity="0.62"/>
<line x1="442.9" y1="121.0" x2="442.9" y2="118.5" stroke="#000000" stroke-opacity="0.62"/>
<line x1="450.0" y1="121.0" x2="450.0" y2="119.0" stroke="#000000" stroke-opacity="0.62"/>
<line x1="378.0" y1="121.0" x2="378.0" y2="119.8" stroke="#0000ff" stroke-opacity="0.3"/>
<line x1="381.0" y1="121.0" x2="381.0" y2="120.0" stroke="#0000ff" stroke-opacity="0.3"/>
<line x1="386.0" y1="121.0" x2="386.0" y2="120.0" stroke="#000000" stroke-opacity="0.3"/>
<line x1="393.0" y1="121.0" x2="393.0" y2="119.4" stroke="#0000ff" stroke-opacity="0.3"/>
<line x1="396.0" y1="121.0" x2="396.0" y2="119.4" stroke="#0000ff" stroke-opacity="0.3"/>
<line x1="404.0" y1="121.0" x2="404.0" y2="119.8" stroke="#0000ff" stroke-opacity="0.3"/>
<line x1="411.0" y1="121.0" x2="411.0" y2="120.0" stroke="#0000ff" stroke-opacity="0.3"/>
<line x1="418.0" y1="121.0" x2="418.0" y2="119.8" stroke="#0000ff" stroke-opacity="0.3"/>
<line x1="422.0" y1="121.0" x2="422.0" y2="120.0" stroke="#000000" stroke-opacity="0.3"/>
<line x1="429.0" y1="121.0" x2="429.0" y2="119.4" stroke="#0000ff" stroke-opacity="0.3"/>
<line x1="432.0" y1="121.0" x2="432.0" y2="120.0" stroke="#0000ff" stroke-opacity="0.3"/>
<line x1="438.0" y1="121.0" x2="438.0" y2="119.8" stroke="#000000" stroke-opacity="0.3"/>
<line x1="442.0" y1="121.0" x2="442.0" y2="119.4" stroke="#0000ff" stroke-opacity="0.3"/>
<line x1="446.0" y1="121.0" x2="446.0" y2="120.0" stroke="#000000" stroke-opacity="0.3"/>
<line x1="374.4" y1="158.8" x2="374.4" y2="157.0" stroke="#0000ff" stroke-opacity="0.65"/>
<line x1="377.0" y1="158.8" x2="377.0" y2="157.0" stroke="#0000ff" stroke-opacity="0.65"/>
<line x1="380.6" y1="158.8" x2="380.6" y2="154.0" stroke="#0000ff" stroke-opacity="0.65"/>
<line x1="383.0" y1="158.8" x2="383.0" y2="157.0" stroke="#0000ff" stroke-opacity="0.65"/>
<line x1="386.3" y1="158.8" x2="386.3" y2="157.0" stroke="#0000ff" stroke-opacity="0.65"/>
<line x1="390.7" y1="158.8" x2="390.7" y2="157.0" stroke="#0000ff" stroke-opacity="0.65"/>
<line x1="396.1" y1="158.8" x2="396.1" y2="153.6" stroke="#0000ff" stroke-opacity="0.65"/>
<line x1="397.2" y1="158.8" x2="397.2" y2="153.6" stroke="#0000ff" stroke-opacity="0.65"/>
<line x1="400.5" y1="158.8" x2="400.5" y2="155.2" stroke="#0000ff" stroke-opacity="0.65"/>
<line x1="402.7" y1="158.8" x2="402.7" y2="153.6" stroke="#0000ff" stroke-opacity="0.65"/>
<line x1="403.8" y1="158.8" x2="403.8" y2="149.8" stroke="#0000ff" stroke-opacity="0.65"/>
<line x1="407.6" y1="158.8" x2="407.6" y2="148.1" stroke="#0000ff" stroke-opacity="0.65"/>
<line x1="409.8" y1="158.8" x2="409.8" y2="143.2" stroke="#0000ff" stroke-opacity="0.65"/>
<line x1="410.8" y1="158.8" x2="410.8" y2="154.7" stroke="#0000ff" stroke-opacity="0.65"/>
<line x1="413.6" y1="158.8" x2="413.6" y2="149.8" stroke="#0000ff" stroke-opacity="0.65"/>
<line x1="416.8" y1="158.8" x2="416.8" y2="152.5" stroke="#0000ff" stroke-opacity="0.65"/>
<line x1="419.9" y1="158.8" x2="419.9" y2="145.4" stroke="#0000ff" stroke-opacity="0.65"/>
<line x1="423.4" y1="158.8" x2="423.4" y2="150.3" stroke="#0000ff" stroke-opacity="0.65"/>
<line x1="439.0" y1="158.8" x2="439.0" y2="154.0" stroke="#0000ff" stroke-opacity="0.65"/>
<line x1="457.0" y1="158.8" x2="457.0" y2="155.2" stroke="#0000ff" stroke-opacity="0.65"/>
<line x1="402.5" y1="158.8" x2="402.5" y2="153.6" stroke="#000000" stroke-opacity="0.62"/>
<line x1="424.6" y1="158.8" x2="424.6" y2="153.6" stroke="#000000" stroke-opacity="0.62"/>
<line x1="426.3" y1="158.8" x2="426.3" y2="126.4" stroke="#000000" stroke-opacity="0.62"/>
<line x1="428.5" y1="158.8" x2="428.5" y2="131.3" stroke="#000000" stroke-opacity="0.62"/>
<line x1="430.3" y1="158.8" x2="430.3" y2="139.4" stroke="#000000" stroke-opacity="0.62"/>
<line x1="432.5" y1="158.8" x2="432.5" y2="136.7" stroke="#000000" stroke-opacity="0.62"/>
<line x1="435.3" y1="158.8" x2="435.3" y2="144.3" stroke="#000000" stroke-opacity="0.62"/>
<line x1="437.6" y1="158.8" x2="437.6" y2="142.2" stroke="#000000" stroke-opacity="0.62"/>
<line x1="440.7" y1="158.8" x2="440.7" y2="143.8" stroke="#000000" stroke-opacity="0.62"/>
<line x1="442.3" y1="158.8" x2="442.3" y2="153.0" stroke="#000000" stroke-opacity="0.62"/>
<line x1="444.0" y1="158.8" x2="444.0" y2="154.0" stroke="#000000" stroke-opacity="0.62"/>
<line x1="449.4" y1="158.8" x2="449.4" y2="156.3" stroke="#000000" stroke-opacity="0.62"/>
<line x1="452.1" y1="158.8" x2="452.1" y2="156.5" stroke="#000000" stroke-opacity="0.62"/>
<line x1="463.0" y1="158.8" x2="463.0" y2="157.0" stroke="#000000" stroke-opacity="0.62"/>
<line x1="475.0" y1="158.8" x2="475.0" y2="157.0" stroke="#000000" stroke-opacity="0.62"/>
<line x1="372.0" y1="158.8" x2="372.0" y2="157.6" stroke="#0000ff" stroke-opacity="0.3"/>
<line x1="379.0" y1="158.8" x2="379.0" y2="157.6" stroke="#000000" stroke-opacity="0.3"/>
<line x1="385.0" y1="158.8" x2="385.0" y2="157.8" stroke="#0000ff" stroke-opacity="0.3"/>
<line x1="391.0" y1="158.8" x2="391.0" y2="157.8" stroke="#0000ff" stroke-opacity="0.3"/>
<line x1="398.0" y1="158.8" x2="398.0" y2="157.2" stroke="#0000ff" stroke-opacity="0.3"/>
<line x1="403.0" y1="158.8" x2="403.0" y2="157.8" stroke="#0000ff" stroke-opacity="0.3"/>
<line x1="409.0" y1="158.8" x2="409.0" y2="157.8" stroke="#0000ff" stroke-opacity="0.3"/>
<line x1="414.0" y1="158.8" x2="414.0" y2="157.2" stroke="#0000ff" stroke-opacity="0.3"/>
<line x1="420.0" y1="158.8" x2="420.0" y2="157.8" stroke="#0000ff" stroke-opacity="0.3"/>
<line x1="425.0" y1="158.8" x2="425.0" y2="157.8" stroke="#0000ff" stroke-opacity="0.3"/>
<line x1="428.0" y1="158.8" x2="428.0" y2="157.2" stroke="#000000" stroke-opacity="0.3"/>
<line x1="434.0" y1="158.8" x2="434.0" y2="157.2" stroke="#0000ff" stroke-opacity="0.3"/>
<line x1="442.0" y1="158.8" x2="442.0" y2="157.8" stroke="#0000ff" stroke-opacity="0.3"/>
<line x1="449.0" y1="158.8" x2="449.0" y2="157.2" stroke="#000000" stroke-opacity="0.3"/>
<line x1="457.0" y1="158.8" x2="457.0" y2="157.6" stroke="#0000ff" stroke-opacity="0.3"/>
<line x1="462.0" y1="158.8" x2="462.0" y2="157.2" stroke="#0000ff" stroke-opacity="0.3"/>
<line x1="467.0" y1="158.8" x2="467.0" y2="157.8" stroke="#0000ff" stroke-opacity="0.3"/>
<line x1="471.0" y1="158.8" x2="471.0" y2="157.2" stroke="#0000ff" stroke-opacity="0.3"/>
<line x1="474.0" y1="158.8" x2="474.0" y2="157.6" stroke="#000000" stroke-opacity="0.3"/>
<line x1="404.0" y1="158.8" x2="404.0" y2="158.0" stroke="#0000ff" stroke-opacity="0.85"/>
<line x1="406.6" y1="158.8" x2="406.6" y2="156.4" stroke="#0000ff" stroke-opacity="0.85"/>
<line x1="408.3" y1="158.8" x2="408.3" y2="156.2" stroke="#0000ff" stroke-opacity="0.85"/>
<line x1="410.3" y1="158.8" x2="410.3" y2="157.1" stroke="#0000ff" stroke-opacity="0.85"/>
<line x1="411.3" y1="158.8" x2="411.3" y2="156.4" stroke="#0000ff" stroke-opacity="0.85"/>
<line x1="413.1" y1="158.8" x2="413.1" y2="155.9" stroke="#0000ff" stroke-opacity="0.85"/>
<line x1="414.7" y1="158.8" x2="414.7" y2="155.8" stroke="#0000ff" stroke-opacity="0.85"/>
<line x1="415.6" y1="158.8" x2="415.6" y2="156.4" stroke="#0000ff" stroke-opacity="0.85"/>
<line x1="416.4" y1="158.8" x2="416.4" y2="154.9" stroke="#0000ff" stroke-opacity="0.85"/>
<line x1="417.2" y1="158.8" x2="417.2" y2="156.6" stroke="#0000ff" stroke-opacity="0.85"/>
<line x1="418.0" y1="158.8" x2="418.0" y2="154.8" stroke="#0000ff" stroke-opacity="0.85"/>
<line x1="419.1" y1="158.8" x2="419.1" y2="156.2" stroke="#0000ff" stroke-opacity="0.85"/>
<line x1="420.1" y1="158.8" x2="420.1" y2="154.6" stroke="#0000ff" stroke-opacity="0.85"/>
<line x1="421.1" y1="158.8" x2="421.1" y2="154.6" stroke="#0000ff" stroke-opacity="0.85"/>
<line x1="422.4" y1="158.8" x2="422.4" y2="156.2" stroke="#0000ff" stroke-opacity="0.85"/>
<line x1="423.5" y1="158.8" x2="423.5" y2="154.7" stroke="#0000ff" stroke-opacity="0.85"/>
<line x1="424.6" y1="158.8" x2="424.6" y2="156.2" stroke="#0000ff" stroke-opacity="0.85"/>
<line x1="425.4" y1="158.8" x2="425.4" y2="154.0" stroke="#0000ff" stroke-opacity="0.85"/>
<line x1="426.2" y1="158.8" x2="426.2" y2="154.7" stroke="#0000ff" stroke-opacity="0.85"/>
<line x1="427.4" y1="158.8" x2="427.4" y2="156.6" stroke="#0000ff" stroke-opacity="0.85"/>
<line x1="429.0" y1="158.8" x2="429.0" y2="156.5" stroke="#0000ff" stroke-opacity="0.85"/>
<line x1="430.6" y1="158.8" x2="430.6" y2="155.1" stroke="#0000ff" stroke-opacity="0.85"/>
<line x1="432.0" y1="158.8" x2="432.0" y2="155.3" stroke="#0000ff" stroke-opacity="0.85"/>
<line x1="432.9" y1="158.8" x2="432.9" y2="157.0" stroke="#0000ff" stroke-opacity="0.85"/>
<line x1="434.8" y1="158.8" x2="434.8" y2="155.6" stroke="#0000ff" stroke-opacity="0.85"/>
<line x1="436.7" y1="158.8" x2="436.7" y2="156.4" stroke="#0000ff" stroke-opacity="0.85"/>
<line x1="438.3" y1="158.8" x2="438.3" y2="156.8" stroke="#0000ff" stroke-opacity="0.85"/>
<line x1="440.4" y1="158.8" x2="440.4" y2="157.2" stroke="#0000ff" stroke-opacity="0.85"/>
<line x1="441.7" y1="158.8" x2="441.7" y2="157.8" stroke="#0000ff" stroke-opacity="0.85"/>
<line x1="422.0" y1="158.8" x2="422.0" y2="158.0" stroke="#000000" stroke-opacity="0.6"/>
<line x1="424.6" y1="158.8" x2="424.6" y2="157.0" stroke="#000000" stroke-opacity="0.6"/>
<line x1="425.7" y1="158.8" x2="425.7" y2="156.3" stroke="#000000" stroke-opacity="0.6"/>
<line x1="426.7" y1="158.8" x2="426.7" y2="153.9" stroke="#000000" stroke-opacity="0.6"/>
<line x1="427.7" y1="158.8" x2="427.7" y2="156.5" stroke="#000000" stroke-opacity="0.6"/>
<line x1="429.3" y1="158.8" x2="429.3" y2="153.7" stroke="#000000" stroke-opacity="0.6"/>
<line x1="430.2" y1="158.8" x2="430.2" y2="155.6" stroke="#000000" stroke-opacity="0.6"/>
<line x1="430.9" y1="158.8" x2="430.9" y2="153.8" stroke="#000000" stroke-opacity="0.6"/>
<line x1="432.3" y1="158.8" x2="432.3" y2="153.6" stroke="#000000" stroke-opacity="0.6"/>
<line x1="433.6" y1="158.8" x2="433.6" y2="154.3" stroke="#000000" stroke-opacity="0.6"/>
<line x1="435.0" y1="158.8" x2="435.0" y2="155.5" stroke="#000000" stroke-opacity="0.6"/>
<line x1="436.2" y1="158.8" x2="436.2" y2="156.1" stroke="#000000" stroke-opacity="0.6"/>
<line x1="437.7" y1="158.8" x2="437.7" y2="156.3" stroke="#000000" stroke-opacity="0.6"/>
<line x1="439.4" y1="158.8" x2="439.4" y2="154.3" stroke="#000000" stroke-opacity="0.6"/>
<line x1="441.1" y1="158.8" x2="441.1" y2="155.6" stroke="#000000" stroke-opacity="0.6"/>
<line x1="442.6" y1="158.8" x2="442.6" y2="155.4" stroke="#000000" stroke-opacity="0.6"/>
<line x1="444.6" y1="158.8" x2="444.6" y2="156.4" stroke="#000000" stroke-opacity="0.6"/>
<line x1="445.9" y1="158.8" x2="445.9" y2="157.7" stroke="#000000" stroke-opacity="0.6"/>
<line x1="426.9" y1="158.8" x2="426.9" y2="146.0" stroke="#000000" stroke-opacity="0.5"/>
<line x1="429.1" y1="158.8" x2="429.1" y2="142.3" stroke="#000000" stroke-opacity="0.5"/>
<line x1="430.9" y1="158.8" x2="430.9" y2="150.7" stroke="#000000" stroke-opacity="0.5"/>
<line x1="433.1" y1="158.8" x2="433.1" y2="147.5" stroke="#000000" stroke-opacity="0.5"/>
<line x1="435.9" y1="158.8" x2="435.9" y2="153.3" stroke="#000000" stroke-opacity="0.5"/>
<line x1="438.2" y1="158.8" x2="438.2" y2="149.3" stroke="#000000" stroke-opacity="0.5"/>
<line x1="441.3" y1="158.8" x2="441.3" y2="150.1" stroke="#000000" stroke-opacity="0.5"/>
<line x1="383.8" y1="196.7" x2="383.8" y2="194.9" stroke="#0000ff" stroke-opacity="0.65"/>
<line x1="387.6" y1="196.7" x2="387.6" y2="190.0" stroke="#0000ff" stroke-opacity="0.65"/>
<line x1="391.4" y1="196.7" x2="391.4" y2="194.9" stroke="#0000ff" stroke-opacity="0.65"/>
<line x1="393.6" y1="196.7" x2="393.6" y2="194.9" stroke="#0000ff" stroke-opacity="0.65"/>
<line x1="396.8" y1="196.7" x2="396.8" y2="194.9" stroke="#0000ff" stroke-opacity="0.65"/>
<line x1="400.1" y1="196.7" x2="400.1" y2="194.9" stroke="#0000ff" stroke-opacity="0.65"/>
<line x1="401.1" y1="196.7" x2="401.1" y2="193.2" stroke="#0000ff" stroke-opacity="0.65"/>
<line x1="402.3" y1="196.7" x2="402.3" y2="193.2" stroke="#0000ff" stroke-opacity="0.65"/>
<line x1="404.9" y1="196.7" x2="404.9" y2="188.3" stroke="#0000ff" stroke-opacity="0.65"/>
<line x1="406.0" y1="196.7" x2="406.0" y2="189.4" stroke="#0000ff" stroke-opacity="0.65"/>
<line x1="406.1" y1="196.7" x2="406.1" y2="191.6" stroke="#0000ff" stroke-opacity="0.65"/>
<line x1="407.4" y1="196.7" x2="407.4" y2="185.6" stroke="#0000ff" stroke-opacity="0.65"/>
<line x1="409.4" y1="196.7" x2="409.4" y2="189.4" stroke="#0000ff" stroke-opacity="0.65"/>
<line x1="409.8" y1="196.7" x2="409.8" y2="188.9" stroke="#0000ff" stroke-opacity="0.65"/>
<line x1="412.0" y1="196.7" x2="412.0" y2="188.3" stroke="#0000ff" stroke-opacity="0.65"/>
<line x1="413.0" y1="196.7" x2="413.0" y2="188.9" stroke="#0000ff" stroke-opacity="0.65"/>
<line x1="415.8" y1="196.7" x2="415.8" y2="190.0" stroke="#0000ff" stroke-opacity="0.65"/>
<line x1="418.0" y1="196.7" x2="418.0" y2="189.4" stroke="#0000ff" stroke-opacity="0.65"/>
<line x1="421.2" y1="196.7" x2="421.2" y2="191.6" stroke="#0000ff" stroke-opacity="0.65"/>
<line x1="423.4" y1="196.7" x2="423.4" y2="178.0" stroke="#0000ff" stroke-opacity="0.65"/>
<line x1="428.9" y1="196.7" x2="428.9" y2="185.6" stroke="#0000ff" stroke-opacity="0.65"/>
<line x1="430.0" y1="196.7" x2="430.0" y2="186.7" stroke="#0000ff" stroke-opacity="0.65"/>
<line x1="431.6" y1="196.7" x2="431.6" y2="179.6" stroke="#0000ff" stroke-opacity="0.65"/>
<line x1="435.4" y1="196.7" x2="435.4" y2="186.7" stroke="#0000ff" stroke-opacity="0.65"/>
<line x1="454.4" y1="196.7" x2="454.4" y2="191.6" stroke="#0000ff" stroke-opacity="0.65"/>
<line x1="424.5" y1="196.7" x2="424.5" y2="186.7" stroke="#000000" stroke-opacity="0.62"/>
<line x1="427.8" y1="196.7" x2="427.8" y2="191.6" stroke="#000000" stroke-opacity="0.62"/>
<line x1="434.6" y1="196.7" x2="434.6" y2="166.0" stroke="#000000" stroke-opacity="0.62"/>
<line x1="437.6" y1="196.7" x2="437.6" y2="176.3" stroke="#000000" stroke-opacity="0.62"/>
<line x1="438.7" y1="196.7" x2="438.7" y2="177.4" stroke="#000000" stroke-opacity="0.62"/>
<line x1="440.3" y1="196.7" x2="440.3" y2="186.7" stroke="#000000" stroke-opacity="0.62"/>
<line x1="441.9" y1="196.7" x2="441.9" y2="187.8" stroke="#000000" stroke-opacity="0.62"/>
<line x1="443.6" y1="196.7" x2="443.6" y2="185.6" stroke="#000000" stroke-opacity="0.62"/>
<line x1="446.3" y1="196.7" x2="446.3" y2="175.2" stroke="#000000" stroke-opacity="0.62"/>
<line x1="448.5" y1="196.7" x2="448.5" y2="191.6" stroke="#000000" stroke-opacity="0.62"/>
<line x1="450.6" y1="196.7" x2="450.6" y2="189.4" stroke="#000000" stroke-opacity="0.62"/>
<line x1="455.6" y1="196.7" x2="455.6" y2="191.6" stroke="#000000" stroke-opacity="0.62"/>
<line x1="458.8" y1="196.7" x2="458.8" y2="194.3" stroke="#000000" stroke-opacity="0.62"/>
<line x1="362.0" y1="196.7" x2="362.0" y2="195.5" stroke="#0000ff" stroke-opacity="0.3"/>
<line x1="367.0" y1="196.7" x2="367.0" y2="195.1" stroke="#0000ff" stroke-opacity="0.3"/>
<line x1="373.0" y1="196.7" x2="373.0" y2="195.1" stroke="#0000ff" stroke-opacity="0.3"/>
<line x1="380.0" y1="196.7" x2="380.0" y2="195.5" stroke="#0000ff" stroke-opacity="0.3"/>
<line x1="384.0" y1="196.7" x2="384.0" y2="195.7" stroke="#000000" stroke-opacity="0.3"/>
<line x1="387.0" y1="196.7" x2="387.0" y2="195.7" stroke="#0000ff" stroke-opacity="0.3"/>
<line x1="391.0" y1="196.7" x2="391.0" y2="195.1" stroke="#0000ff" stroke-opacity="0.3"/>
<line x1="395.0" y1="196.7" x2="395.0" y2="195.1" stroke="#000000" stroke-opacity="0.3"/>
<line x1="399.0" y1="196.7" x2="399.0" y2="195.5" stroke="#0000ff" stroke-opacity="0.3"/>
<line x1="403.0" y1="196.7" x2="403.0" y2="195.5" stroke="#000000" stroke-opacity="0.3"/>
<line x1="411.0" y1="196.7" x2="411.0" y2="195.1" stroke="#000000" stroke-opacity="0.3"/>
<line x1="418.0" y1="196.7" x2="418.0" y2="195.5" stroke="#0000ff" stroke-opacity="0.3"/>
<line x1="425.0" y1="196.7" x2="425.0" y2="195.1" stroke="#0000ff" stroke-opacity="0.3"/>
<line x1="428.0" y1="196.7" x2="428.0" y2="195.5" stroke="#000000" stroke-opacity="0.3"/>
<line x1="432.0" y1="196.7" x2="432.0" y2="195.1" stroke="#000000" stroke-opacity="0.3"/>
<line x1="436.0" y1="196.7" x2="436.0" y2="195.5" stroke="#0000ff" stroke-opacity="0.3"/>
<line x1="439.0" y1="196.7" x2="439.0" y2="195.1" stroke="#000000" stroke-opacity="0.3"/>
<line x1="443.0" y1="196.7" x2="443.0" y2="195.7" stroke="#0000ff" stroke-opacity="0.3"/>
<line x1="446.0" y1="196.7" x2="446.0" y2="195.1" stroke="#000000" stroke-opacity="0.3"/>
<line x1="451.0" y1="196.7" x2="451.0" y2="195.7" stroke="#0000ff" stroke-opacity="0.3"/>
<line x1="454.0" y1="196.7" x2="454.0" y2="195.7" stroke="#0000ff" stroke-opacity="0.3"/>
<line x1="462.0" y1="196.7" x2="462.0" y2="195.1" stroke="#0000ff" stroke-opacity="0.3"/>
<line x1="465.0" y1="196.7" x2="465.0" y2="195.1" stroke="#0000ff" stroke-opacity="0.3"/>
<line x1="472.0" y1="196.7" x2="472.0" y2="195.5" stroke="#0000ff" stroke-opacity="0.3"/>
<line x1="479.0" y1="196.7" x2="479.0" y2="195.1" stroke="#0000ff" stroke-opacity="0.3"/>
<line x1="487.0" y1="196.7" x2="487.0" y2="195.5" stroke="#0000ff" stroke-opacity="0.3"/>
<line x1="491.0" y1="196.7" x2="491.0" y2="195.7" stroke="#0000ff" stroke-opacity="0.3"/>
<line x1="494.0" y1="196.7" x2="494.0" y2="195.1" stroke="#0000ff" stroke-opacity="0.3"/>
<line x1="392.0" y1="196.7" x2="392.0" y2="195.8" stroke="#0000ff" stroke-opacity="0.85"/>
<line x1="394.0" y1="196.7" x2="394.0" y2="195.5" stroke="#0000ff" stroke-opacity="0.85"/>
<line x1="395.3" y1="196.7" x2="395.3" y2="194.8" stroke="#0000ff" stroke-opacity="0.85"/>
<line x1="397.5" y1="196.7" x2="397.5" y2="195.1" stroke="#0000ff" stroke-opacity="0.85"/>
<line x1="399.2" y1="196.7" x2="399.2" y2="194.8" stroke="#0000ff" stroke-opacity="0.85"/>
<line x1="400.8" y1="196.7" x2="400.8" y2="195.1" stroke="#0000ff" stroke-opacity="0.85"/>
<line x1="402.3" y1="196.7" x2="402.3" y2="193.5" stroke="#0000ff" stroke-opacity="0.85"/>
<line x1="403.4" y1="196.7" x2="403.4" y2="193.7" stroke="#0000ff" stroke-opacity="0.85"/>
<line x1="404.9" y1="196.7" x2="404.9" y2="193.2" stroke="#0000ff" stroke-opacity="0.85"/>
<line x1="406.7" y1="196.7" x2="406.7" y2="193.8" stroke="#0000ff" stroke-opacity="0.85"/>
<line x1="408.1" y1="196.7" x2="408.1" y2="193.5" stroke="#0000ff" stroke-opacity="0.85"/>
<line x1="409.1" y1="196.7" x2="409.1" y2="193.0" stroke="#0000ff" stroke-opacity="0.85"/>
<line x1="410.0" y1="196.7" x2="410.0" y2="193.7" stroke="#0000ff" stroke-opacity="0.85"/>
<line x1="410.9" y1="196.7" x2="410.9" y2="193.9" stroke="#0000ff" stroke-opacity="0.85"/>
<line x1="412.6" y1="196.7" x2="412.6" y2="194.6" stroke="#0000ff" stroke-opacity="0.85"/>
<line x1="414.2" y1="196.7" x2="414.2" y2="194.1" stroke="#0000ff" stroke-opacity="0.85"/>
<line x1="415.0" y1="196.7" x2="415.0" y2="193.0" stroke="#0000ff" stroke-opacity="0.85"/>
<line x1="416.2" y1="196.7" x2="416.2" y2="194.1" stroke="#0000ff" stroke-opacity="0.85"/>
<line x1="417.1" y1="196.7" x2="417.1" y2="193.0" stroke="#0000ff" stroke-opacity="0.85"/>
<line x1="418.2" y1="196.7" x2="418.2" y2="192.2" stroke="#0000ff" stroke-opacity="0.85"/>
<line x1="419.0" y1="196.7" x2="419.0" y2="194.5" stroke="#0000ff" stroke-opacity="0.85"/>
<line x1="420.1" y1="196.7" x2="420.1" y2="194.2" stroke="#0000ff" stroke-opacity="0.85"/>
<line x1="421.5" y1="196.7" x2="421.5" y2="191.8" stroke="#0000ff" stroke-opacity="0.85"/>
<line x1="422.3" y1="196.7" x2="422.3" y2="191.2" stroke="#0000ff" stroke-opacity="0.85"/>
<line x1="423.6" y1="196.7" x2="423.6" y2="193.2" stroke="#0000ff" stroke-opacity="0.85"/>
<line x1="425.0" y1="196.7" x2="425.0" y2="193.4" stroke="#0000ff" stroke-opacity="0.85"/>
<line x1="425.7" y1="196.7" x2="425.7" y2="193.4" stroke="#0000ff" stroke-opacity="0.85"/>
<line x1="426.4" y1="196.7" x2="426.4" y2="191.2" stroke="#0000ff" stroke-opacity="0.85"/>
<line x1="427.1" y1="196.7" x2="427.1" y2="192.8" stroke="#0000ff" stroke-opacity="0.85"/>
<line x1="427.8" y1="196.7" x2="427.8" y2="191.4" stroke="#0000ff" stroke-opacity="0.85"/>
<line x1="428.6" y1="196.7" x2="428.6" y2="192.9" stroke="#0000ff" stroke-opacity="0.85"/>
<line x1="430.0" y1="196.7" x2="430.0" y2="192.8" stroke="#0000ff" stroke-opacity="0.85"/>
<line x1="430.8" y1="196.7" x2="430.8" y2="192.6" stroke="#0000ff" stroke-opacity="0.85"/>
<line x1="431.9" y1="196.7" x2="431.9" y2="194.3" stroke="#0000ff" stroke-opacity="0.85"/>
<line x1="433.1" y1="196.7" x2="433.1" y2="192.1" stroke="#0000ff" stroke-opacity="0.85"/>
<line x1="434.6" y1="196.7" x2="434.6" y2="194.5" stroke="#0000ff" stroke-opacity="0.85"/>
<line x1="436.2" y1="196.7" x2="436.2" y2="194.7" stroke="#0000ff" stroke-opacity="0.85"/>
<line x1="437.1" y1="196.7" x2="437.1" y2="194.1" stroke="#0000ff" stroke-opacity="0.85"/>
<line x1="438.4" y1="196.7" x2="438.4" y2="192.8" stroke="#0000ff" stroke-opacity="0.85"/>
<line x1="440.2" y1="196.7" x2="440.2" y2="194.6" stroke="#0000ff" stroke-opacity="0.85"/>
<line x1="442.0" y1="196.7" x2="442.0" y2="194.6" stroke="#0000ff" stroke-opacity="0.85"/>
<line x1="443.4" y1="196.7" x2="443.4" y2="194.9" stroke="#0000ff" stroke-opacity="0.85"/>
<line x1="445.4" y1="196.7" x2="445.4" y2="194.1" stroke="#0000ff" stroke-opacity="0.85"/>
<line x1="447.4" y1="196.7" x2="447.4" y2="194.5" stroke="#0000ff" stroke-opacity="0.85"/>
<line x1="449.0" y1="196.7" x2="449.0" y2="194.9" stroke="#0000ff" stroke-opacity="0.85"/>
<line x1="451.3" y1="196.7" x2="451.3" y2="195.6" stroke="#0000ff" stroke-opacity="0.85"/>
<line x1="424.0" y1="196.7" x2="424.0" y2="195.8" stroke="#000000" stroke-opacity="0.6"/>
<line x1="426.6" y1="196.7" x2="426.6" y2="194.8" stroke="#000000" stroke-opacity="0.6"/>
<line x1="428.3" y1="196.7" x2="428.3" y2="194.2" stroke="#000000" stroke-opacity="0.6"/>
<line x1="429.8" y1="196.7" x2="429.8" y2="193.5" stroke="#000000" stroke-opacity="0.6"/>
<line x1="430.8" y1="196.7" x2="430.8" y2="193.9" stroke="#000000" stroke-opacity="0.6"/>
<line x1="432.7" y1="196.7" x2="432.7" y2="192.0" stroke="#000000" stroke-opacity="0.6"/>
<line x1="433.6" y1="196.7" x2="433.6" y2="193.0" stroke="#000000" stroke-opacity="0.6"/>
<line x1="434.8" y1="196.7" x2="434.8" y2="193.4" stroke="#000000" stroke-opacity="0.6"/>
<line x1="436.4" y1="196.7" x2="436.4" y2="191.3" stroke="#000000" stroke-opacity="0.6"/>
<line x1="437.9" y1="196.7" x2="437.9" y2="193.6" stroke="#000000" stroke-opacity="0.6"/>
<line x1="438.6" y1="196.7" x2="438.6" y2="190.3" stroke="#000000" stroke-opacity="0.6"/>
<line x1="440.0" y1="196.7" x2="440.0" y2="192.7" stroke="#000000" stroke-opacity="0.6"/>
<line x1="441.3" y1="196.7" x2="441.3" y2="192.7" stroke="#000000" stroke-opacity="0.6"/>
<line x1="442.0" y1="196.7" x2="442.0" y2="192.9" stroke="#000000" stroke-opacity="0.6"/>
<line x1="442.8" y1="196.7" x2="442.8" y2="193.2" stroke="#000000" stroke-opacity="0.6"/>
<line x1="444.2" y1="196.7" x2="444.2" y2="190.7" stroke="#000000" stroke-opacity="0.6"/>
<line x1="445.0" y1="196.7" x2="445.0" y2="190.9" stroke="#000000" stroke-opacity="0.6"/>
<line x1="445.8" y1="196.7" x2="445.8" y2="193.7" stroke="#000000" stroke-opacity="0.6"/>
<line x1="446.6" y1="196.7" x2="446.6" y2="191.2" stroke="#000000" stroke-opacity="0.6"/>
<line x1="447.8" y1="196.7" x2="447.8" y2="192.2" stroke="#000000" stroke-opacity="0.6"/>
<line x1="449.1" y1="196.7" x2="449.1" y2="193.8" stroke="#000000" stroke-opacity="0.6"/>
<line x1="450.0" y1="196.7" x2="450.0" y2="192.9" stroke="#000000" stroke-opacity="0.6"/>
<line x1="451.0" y1="196.7" x2="451.0" y2="194.0" stroke="#000000" stroke-opacity="0.6"/>
<line x1="452.3" y1="196.7" x2="452.3" y2="193.7" stroke="#000000" stroke-opacity="0.6"/>
<line x1="453.3" y1="196.7" x2="453.3" y2="194.1" stroke="#000000" stroke-opacity="0.6"/>
<line x1="454.8" y1="196.7" x2="454.8" y2="193.8" stroke="#000000" stroke-opacity="0.6"/>
<line x1="456.8" y1="196.7" x2="456.8" y2="193.9" stroke="#000000" stroke-opacity="0.6"/>
<line x1="458.5" y1="196.7" x2="458.5" y2="195.1" stroke="#000000" stroke-opacity="0.6"/>
<line x1="459.8" y1="196.7" x2="459.8" y2="195.7" stroke="#000000" stroke-opacity="0.6"/>
<line x1="435.2" y1="196.7" x2="435.2" y2="182.8" stroke="#000000" stroke-opacity="0.5"/>
<line x1="438.2" y1="196.7" x2="438.2" y2="185.8" stroke="#000000" stroke-opacity="0.5"/>
<line x1="439.3" y1="196.7" x2="439.3" y2="185.5" stroke="#000000" stroke-opacity="0.5"/>
<line x1="444.2" y1="196.7" x2="444.2" y2="191.6" stroke="#000000" stroke-opacity="0.5"/>
<line x1="446.9" y1="196.7" x2="446.9" y2="186.1" stroke="#000000" stroke-opacity="0.5"/>
<line x1="387.8" y1="234.5" x2="387.8" y2="232.9" stroke="#0000ff" stroke-opacity="0.65"/>
<line x1="389.4" y1="234.5" x2="389.4" y2="232.3" stroke="#0000ff" stroke-opacity="0.65"/>
<line x1="392.1" y1="234.5" x2="392.1" y2="232.9" stroke="#0000ff" stroke-opacity="0.65"/>
<line x1="394.6" y1="234.5" x2="394.6" y2="226.9" stroke="#0000ff" stroke-opacity="0.65"/>
<line x1="397.0" y1="234.5" x2="397.0" y2="232.9" stroke="#0000ff" stroke-opacity="0.65"/>
<line x1="400.3" y1="234.5" x2="400.3" y2="232.9" stroke="#0000ff" stroke-opacity="0.65"/>
<line x1="403.6" y1="234.5" x2="403.6" y2="232.3" stroke="#0000ff" stroke-opacity="0.65"/>
<line x1="404.7" y1="234.5" x2="404.7" y2="226.9" stroke="#0000ff" stroke-opacity="0.65"/>
<line x1="406.6" y1="234.5" x2="406.6" y2="221.4" stroke="#0000ff" stroke-opacity="0.65"/>
<line x1="407.4" y1="234.5" x2="407.4" y2="221.4" stroke="#0000ff" stroke-opacity="0.65"/>
<line x1="409.0" y1="234.5" x2="409.0" y2="226.3" stroke="#0000ff" stroke-opacity="0.65"/>
<line x1="411.2" y1="234.5" x2="411.2" y2="230.7" stroke="#0000ff" stroke-opacity="0.65"/>
<line x1="413.4" y1="234.5" x2="413.4" y2="224.1" stroke="#0000ff" stroke-opacity="0.65"/>
<line x1="414.5" y1="234.5" x2="414.5" y2="224.1" stroke="#0000ff" stroke-opacity="0.65"/>
<line x1="416.6" y1="234.5" x2="416.6" y2="227.4" stroke="#0000ff" stroke-opacity="0.65"/>
<line x1="418.6" y1="234.5" x2="418.6" y2="223.0" stroke="#0000ff" stroke-opacity="0.65"/>
<line x1="420.9" y1="234.5" x2="420.9" y2="229.6" stroke="#0000ff" stroke-opacity="0.65"/>
<line x1="422.2" y1="234.5" x2="422.2" y2="220.3" stroke="#0000ff" stroke-opacity="0.65"/>
<line x1="425.3" y1="234.5" x2="425.3" y2="225.8" stroke="#0000ff" stroke-opacity="0.65"/>
<line x1="428.3" y1="234.5" x2="428.3" y2="223.6" stroke="#0000ff" stroke-opacity="0.65"/>
<line x1="429.4" y1="234.5" x2="429.4" y2="214.3" stroke="#0000ff" stroke-opacity="0.65"/>
<line x1="430.5" y1="234.5" x2="430.5" y2="223.6" stroke="#0000ff" stroke-opacity="0.65"/>
<line x1="433.4" y1="234.5" x2="433.4" y2="226.9" stroke="#0000ff" stroke-opacity="0.65"/>
<line x1="436.1" y1="234.5" x2="436.1" y2="229.6" stroke="#0000ff" stroke-opacity="0.65"/>
<line x1="440.0" y1="234.5" x2="440.0" y2="228.0" stroke="#0000ff" stroke-opacity="0.65"/>
<line x1="463.6" y1="234.5" x2="463.6" y2="230.1" stroke="#0000ff" stroke-opacity="0.65"/>
<line x1="434.5" y1="234.5" x2="434.5" y2="225.8" stroke="#000000" stroke-opacity="0.62"/>
<line x1="438.9" y1="234.5" x2="438.9" y2="209.4" stroke="#000000" stroke-opacity="0.62"/>
<line x1="441.6" y1="234.5" x2="441.6" y2="224.7" stroke="#000000" stroke-opacity="0.62"/>
<line x1="443.8" y1="234.5" x2="443.8" y2="205.6" stroke="#000000" stroke-opacity="0.62"/>
<line x1="444.6" y1="234.5" x2="444.6" y2="213.8" stroke="#000000" stroke-opacity="0.62"/>
<line x1="446.0" y1="234.5" x2="446.0" y2="226.9" stroke="#000000" stroke-opacity="0.62"/>
<line x1="448.1" y1="234.5" x2="448.1" y2="221.4" stroke="#000000" stroke-opacity="0.62"/>
<line x1="449.8" y1="234.5" x2="449.8" y2="227.4" stroke="#000000" stroke-opacity="0.62"/>
<line x1="453.0" y1="234.5" x2="453.0" y2="216.0" stroke="#000000" stroke-opacity="0.62"/>
<line x1="454.7" y1="234.5" x2="454.7" y2="226.9" stroke="#000000" stroke-opacity="0.62"/>
<line x1="457.4" y1="234.5" x2="457.4" y2="226.3" stroke="#000000" stroke-opacity="0.62"/>
<line x1="460.1" y1="234.5" x2="460.1" y2="231.2" stroke="#000000" stroke-opacity="0.62"/>
<line x1="467.7" y1="234.5" x2="467.7" y2="232.3" stroke="#000000" stroke-opacity="0.62"/>
<line x1="367.0" y1="234.5" x2="367.0" y2="232.9" stroke="#0000ff" stroke-opacity="0.3"/>
<line x1="371.0" y1="234.5" x2="371.0" y2="232.9" stroke="#0000ff" stroke-opacity="0.3"/>
<line x1="379.0" y1="234.5" x2="379.0" y2="232.9" stroke="#0000ff" stroke-opacity="0.3"/>
<line x1="383.0" y1="234.5" x2="383.0" y2="232.9" stroke="#0000ff" stroke-opacity="0.3"/>
<line x1="386.0" y1="234.5" x2="386.0" y2="233.3" stroke="#0000ff" stroke-opacity="0.3"/>
<line x1="391.0" y1="234.5" x2="391.0" y2="232.9" stroke="#0000ff" stroke-opacity="0.3"/>
<line x1="397.0" y1="234.5" x2="397.0" y2="233.5" stroke="#0000ff" stroke-opacity="0.3"/>
<line x1="405.0" y1="234.5" x2="405.0" y2="232.9" stroke="#0000ff" stroke-opacity="0.3"/>
<line x1="410.0" y1="234.5" x2="410.0" y2="233.3" stroke="#0000ff" stroke-opacity="0.3"/>
<line x1="413.0" y1="234.5" x2="413.0" y2="232.9" stroke="#000000" stroke-opacity="0.3"/>
<line x1="420.0" y1="234.5" x2="420.0" y2="232.9" stroke="#0000ff" stroke-opacity="0.3"/>
<line x1="424.0" y1="234.5" x2="424.0" y2="232.9" stroke="#0000ff" stroke-opacity="0.3"/>
<line x1="427.0" y1="234.5" x2="427.0" y2="233.3" stroke="#000000" stroke-opacity="0.3"/>
<line x1="430.0" y1="234.5" x2="430.0" y2="233.5" stroke="#0000ff" stroke-opacity="0.3"/>
<line x1="434.0" y1="234.5" x2="434.0" y2="233.5" stroke="#0000ff" stroke-opacity="0.3"/>
<line x1="438.0" y1="234.5" x2="438.0" y2="232.9" stroke="#0000ff" stroke-opacity="0.3"/>
<line x1="445.0" y1="234.5" x2="445.0" y2="233.3" stroke="#0000ff" stroke-opacity="0.3"/>
<line x1="453.0" y1="234.5" x2="453.0" y2="233.3" stroke="#0000ff" stroke-opacity="0.3"/>
<line x1="461.0" y1="234.5" x2="461.0" y2="233.3" stroke="#0000ff" stroke-opacity="0.3"/>
<line x1="467.0" y1="234.5" x2="467.0" y2="232.9" stroke="#000000" stroke-opacity="0.3"/>
<line x1="471.0" y1="234.5" x2="471.0" y2="232.9" stroke="#0000ff" stroke-opacity="0.3"/>
<line x1="478.0" y1="234.5" x2="478.0" y2="233.5" stroke="#0000ff" stroke-opacity="0.3"/>
<line x1="485.0" y1="234.5" x2="485.0" y2="233.3" stroke="#0000ff" stroke-opacity="0.3"/>
<line x1="490.0" y1="234.5" x2="490.0" y2="233.3" stroke="#0000ff" stroke-opacity="0.3"/>
<line x1="493.0" y1="234.5" x2="493.0" y2="233.5" stroke="#0000ff" stroke-opacity="0.3"/>
<line x1="499.0" y1="234.5" x2="499.0" y2="232.9" stroke="#0000ff" stroke-opacity="0.3"/>
<line x1="504.0" y1="234.5" x2="504.0" y2="232.9" stroke="#0000ff" stroke-opacity="0.3"/>
<line x1="390.0" y1="234.5" x2="390.0" y2="233.7" stroke="#0000ff" stroke-opacity="0.85"/>
<line x1="392.0" y1="234.5" x2="392.0" y2="233.0" stroke="#0000ff" stroke-opacity="0.85"/>
<line x1="394.4" y1="234.5" x2="394.4" y2="232.5" stroke="#0000ff" stroke-opacity="0.85"/>
<line x1="396.1" y1="234.5" x2="396.1" y2="232.8" stroke="#0000ff" stroke-opacity="0.85"/>
<line x1="397.3" y1="234.5" x2="397.3" y2="233.1" stroke="#0000ff" stroke-opacity="0.85"/>
<line x1="398.4" y1="234.5" x2="398.4" y2="232.2" stroke="#0000ff" stroke-opacity="0.85"/>
<line x1="400.5" y1="234.5" x2="400.5" y2="232.8" stroke="#0000ff" stroke-opacity="0.85"/>
<line x1="402.5" y1="234.5" x2="402.5" y2="232.1" stroke="#0000ff" stroke-opacity="0.85"/>
<line x1="403.6" y1="234.5" x2="403.6" y2="231.7" stroke="#0000ff" stroke-opacity="0.85"/>
<line x1="404.6" y1="234.5" x2="404.6" y2="232.4" stroke="#0000ff" stroke-opacity="0.85"/>
<line x1="406.5" y1="234.5" x2="406.5" y2="231.4" stroke="#0000ff" stroke-opacity="0.85"/>
<line x1="407.9" y1="234.5" x2="407.9" y2="232.0" stroke="#0000ff" stroke-opacity="0.85"/>
<line x1="409.3" y1="234.5" x2="409.3" y2="231.3" stroke="#0000ff" stroke-opacity="0.85"/>
<line x1="411.1" y1="234.5" x2="411.1" y2="232.5" stroke="#0000ff" stroke-opacity="0.85"/>
<line x1="412.4" y1="234.5" x2="412.4" y2="232.0" stroke="#0000ff" stroke-opacity="0.85"/>
<line x1="413.3" y1="234.5" x2="413.3" y2="232.1" stroke="#0000ff" stroke-opacity="0.85"/>
<line x1="414.6" y1="234.5" x2="414.6" y2="231.1" stroke="#0000ff" stroke-opacity="0.85"/>
<line x1="415.8" y1="234.5" x2="415.8" y2="231.0" stroke="#0000ff" stroke-opacity="0.85"/>
<line x1="417.1" y1="234.5" x2="417.1" y2="232.6" stroke="#0000ff" stroke-opacity="0.85"/>
<line x1="418.6" y1="234.5" x2="418.6" y2="230.5" stroke="#0000ff" stroke-opacity="0.85"/>
<line x1="419.8" y1="234.5" x2="419.8" y2="231.9" stroke="#0000ff" stroke-opacity="0.85"/>
<line x1="421.0" y1="234.5" x2="421.0" y2="231.7" stroke="#0000ff" stroke-opacity="0.85"/>
<line x1="422.1" y1="234.5" x2="422.1" y2="231.3" stroke="#0000ff" stroke-opacity="0.85"/>
<line x1="423.6" y1="234.5" x2="423.6" y2="232.2" stroke="#0000ff" stroke-opacity="0.85"/>
<line x1="424.7" y1="234.5" x2="424.7" y2="232.0" stroke="#0000ff" stroke-opacity="0.85"/>
<line x1="425.8" y1="234.5" x2="425.8" y2="229.9" stroke="#0000ff" stroke-opacity="0.85"/>
<line x1="426.5" y1="234.5" x2="426.5" y2="232.2" stroke="#0000ff" stroke-opacity="0.85"/>
<line x1="427.9" y1="234.5" x2="427.9" y2="229.6" stroke="#0000ff" stroke-opacity="0.85"/>
<line x1="428.6" y1="234.5" x2="428.6" y2="230.7" stroke="#0000ff" stroke-opacity="0.85"/>
<line x1="429.6" y1="234.5" x2="429.6" y2="230.4" stroke="#0000ff" stroke-opacity="0.85"/>
<line x1="430.3" y1="234.5" x2="430.3" y2="230.3" stroke="#0000ff" stroke-opacity="0.85"/>
<line x1="431.0" y1="234.5" x2="431.0" y2="229.4" stroke="#0000ff" stroke-opacity="0.85"/>
<line x1="432.3" y1="234.5" x2="432.3" y2="231.5" stroke="#0000ff" stroke-opacity="0.85"/>
<line x1="433.7" y1="234.5" x2="433.7" y2="232.1" stroke="#0000ff" stroke-opacity="0.85"/>
<line x1="434.4" y1="234.5" x2="434.4" y2="230.0" stroke="#0000ff" stroke-opacity="0.85"/>
<line x1="435.2" y1="234.5" x2="435.2" y2="230.2" stroke="#0000ff" stroke-opacity="0.85"/>
<line x1="436.3" y1="234.5" x2="436.3" y2="230.3" stroke="#0000ff" stroke-opacity="0.85"/>
<line x1="437.1" y1="234.5" x2="437.1" y2="230.0" stroke="#0000ff" stroke-opacity="0.85"/>
<line x1="438.5" y1="234.5" x2="438.5" y2="232.1" stroke="#0000ff" stroke-opacity="0.85"/>
<line x1="440.0" y1="234.5" x2="440.0" y2="231.0" stroke="#0000ff" stroke-opacity="0.85"/>
<line x1="440.8" y1="234.5" x2="440.8" y2="230.9" stroke="#0000ff" stroke-opacity="0.85"/>
<line x1="442.4" y1="234.5" x2="442.4" y2="230.7" stroke="#0000ff" stroke-opacity="0.85"/>
<line x1="443.6" y1="234.5" x2="443.6" y2="232.2" stroke="#0000ff" stroke-opacity="0.85"/>
<line x1="445.2" y1="234.5" x2="445.2" y2="232.2" stroke="#0000ff" stroke-opacity="0.85"/>
<line x1="446.1" y1="234.5" x2="446.1" y2="231.1" stroke="#0000ff" stroke-opacity="0.85"/>
<line x1="447.4" y1="234.5" x2="447.4" y2="231.4" stroke="#0000ff" stroke-opacity="0.85"/>
<line x1="448.4" y1="234.5" x2="448.4" y2="231.7" stroke="#0000ff" stroke-opacity="0.85"/>
<line x1="449.7" y1="234.5" x2="449.7" y2="232.0" stroke="#0000ff" stroke-opacity="0.85"/>
<line x1="450.7" y1="234.5" x2="450.7" y2="232.0" stroke="#0000ff" stroke-opacity="0.85"/>
<line x1="452.5" y1="234.5" x2="452.5" y2="232.8" stroke="#0000ff" stroke-opacity="0.85"/>
<line x1="453.9" y1="234.5" x2="453.9" y2="231.5" stroke="#0000ff" stroke-opacity="0.85"/>
<line x1="455.9" y1="234.5" x2="455.9" y2="232.3" stroke="#0000ff" stroke-opacity="0.85"/>
<line x1="457.4" y1="234.5" x2="457.4" y2="232.9" stroke="#0000ff" stroke-opacity="0.85"/>
<line x1="459.5" y1="234.5" x2="459.5" y2="232.2" stroke="#0000ff" stroke-opacity="0.85"/>
<line x1="460.6" y1="234.5" x2="460.6" y2="233.1" stroke="#0000ff" stroke-opacity="0.85"/>
<line x1="462.3" y1="234.5" x2="462.3" y2="233.0" stroke="#0000ff" stroke-opacity="0.85"/>
<line x1="464.5" y1="234.5" x2="464.5" y2="233.3" stroke="#0000ff" stroke-opacity="0.85"/>
<line x1="432.0" y1="234.5" x2="432.0" y2="233.7" stroke="#000000" stroke-opacity="0.6"/>
<line x1="434.0" y1="234.5" x2="434.0" y2="232.7" stroke="#000000" stroke-opacity="0.6"/>
<line x1="436.2" y1="234.5" x2="436.2" y2="232.8" stroke="#000000" stroke-opacity="0.6"/>
<line x1="438.2" y1="234.5" x2="438.2" y2="231.9" stroke="#000000" stroke-opacity="0.6"/>
<line x1="440.0" y1="234.5" x2="440.0" y2="232.5" stroke="#000000" stroke-opacity="0.6"/>
<line x1="441.6" y1="234.5" x2="441.6" y2="232.3" stroke="#000000" stroke-opacity="0.6"/>
<line x1="443.2" y1="234.5" x2="443.2" y2="229.4" stroke="#000000" stroke-opacity="0.6"/>
<line x1="444.3" y1="234.5" x2="444.3" y2="229.5" stroke="#000000" stroke-opacity="0.6"/>
<line x1="445.1" y1="234.5" x2="445.1" y2="230.4" stroke="#000000" stroke-opacity="0.6"/>
<line x1="446.1" y1="234.5" x2="446.1" y2="229.4" stroke="#000000" stroke-opacity="0.6"/>
<line x1="446.8" y1="234.5" x2="446.8" y2="232.1" stroke="#000000" stroke-opacity="0.6"/>
<line x1="448.2" y1="234.5" x2="448.2" y2="230.8" stroke="#000000" stroke-opacity="0.6"/>
<line x1="448.9" y1="234.5" x2="448.9" y2="231.2" stroke="#000000" stroke-opacity="0.6"/>
<line x1="450.3" y1="234.5" x2="450.3" y2="231.2" stroke="#000000" stroke-opacity="0.6"/>
<line x1="451.5" y1="234.5" x2="451.5" y2="230.1" stroke="#000000" stroke-opacity="0.6"/>
<line x1="453.0" y1="234.5" x2="453.0" y2="230.3" stroke="#000000" stroke-opacity="0.6"/>
<line x1="453.8" y1="234.5" x2="453.8" y2="231.8" stroke="#000000" stroke-opacity="0.6"/>
<line x1="455.1" y1="234.5" x2="455.1" y2="231.5" stroke="#000000" stroke-opacity="0.6"/>
<line x1="456.8" y1="234.5" x2="456.8" y2="232.6" stroke="#000000" stroke-opacity="0.6"/>
<line x1="458.2" y1="234.5" x2="458.2" y2="232.2" stroke="#000000" stroke-opacity="0.6"/>
<line x1="459.6" y1="234.5" x2="459.6" y2="232.2" stroke="#000000" stroke-opacity="0.6"/>
<line x1="461.5" y1="234.5" x2="461.5" y2="231.6" stroke="#000000" stroke-opacity="0.6"/>
<line x1="463.6" y1="234.5" x2="463.6" y2="232.9" stroke="#000000" stroke-opacity="0.6"/>
<line x1="464.8" y1="234.5" x2="464.8" y2="233.0" stroke="#000000" stroke-opacity="0.6"/>
<line x1="439.5" y1="234.5" x2="439.5" y2="223.6" stroke="#000000" stroke-opacity="0.5"/>
<line x1="444.4" y1="234.5" x2="444.4" y2="222.1" stroke="#000000" stroke-opacity="0.5"/>
<line x1="445.2" y1="234.5" x2="445.2" y2="225.7" stroke="#000000" stroke-opacity="0.5"/>
<line x1="448.7" y1="234.5" x2="448.7" y2="228.0" stroke="#000000" stroke-opacity="0.5"/>
<line x1="453.6" y1="234.5" x2="453.6" y2="225.1" stroke="#000000" stroke-opacity="0.5"/>
<line x1="391.8" y1="272.3" x2="391.8" y2="270.9" stroke="#0000ff" stroke-opacity="0.65"/>
<line x1="395.0" y1="272.3" x2="395.0" y2="270.9" stroke="#0000ff" stroke-opacity="0.65"/>
<line x1="400.0" y1="272.3" x2="400.0" y2="270.3" stroke="#0000ff" stroke-opacity="0.65"/>
<line x1="402.5" y1="272.3" x2="402.5" y2="266.0" stroke="#0000ff" stroke-opacity="0.65"/>
<line x1="407.0" y1="272.3" x2="407.0" y2="268.7" stroke="#0000ff" stroke-opacity="0.65"/>
<line x1="410.8" y1="272.3" x2="410.8" y2="268.7" stroke="#0000ff" stroke-opacity="0.65"/>
<line x1="411.9" y1="272.3" x2="411.9" y2="264.9" stroke="#0000ff" stroke-opacity="0.65"/>
<line x1="413.4" y1="272.3" x2="413.4" y2="264.3" stroke="#0000ff" stroke-opacity="0.65"/>
<line x1="415.2" y1="272.3" x2="415.2" y2="254.0" stroke="#0000ff" stroke-opacity="0.65"/>
<line x1="417.9" y1="272.3" x2="417.9" y2="268.1" stroke="#0000ff" stroke-opacity="0.65"/>
<line x1="421.3" y1="272.3" x2="421.3" y2="264.3" stroke="#0000ff" stroke-opacity="0.65"/>
<line x1="423.8" y1="272.3" x2="423.8" y2="266.0" stroke="#0000ff" stroke-opacity="0.65"/>
<line x1="425.4" y1="272.3" x2="425.4" y2="264.9" stroke="#0000ff" stroke-opacity="0.65"/>
<line x1="427.1" y1="272.3" x2="427.1" y2="257.8" stroke="#0000ff" stroke-opacity="0.65"/>
<line x1="429.8" y1="272.3" x2="429.8" y2="267.6" stroke="#0000ff" stroke-opacity="0.65"/>
<line x1="432.0" y1="272.3" x2="432.0" y2="265.4" stroke="#0000ff" stroke-opacity="0.65"/>
<line x1="434.2" y1="272.3" x2="434.2" y2="255.6" stroke="#0000ff" stroke-opacity="0.65"/>
<line x1="436.3" y1="272.3" x2="436.3" y2="264.9" stroke="#0000ff" stroke-opacity="0.65"/>
<line x1="438.5" y1="272.3" x2="438.5" y2="264.3" stroke="#0000ff" stroke-opacity="0.65"/>
<line x1="440.2" y1="272.3" x2="440.2" y2="263.8" stroke="#0000ff" stroke-opacity="0.65"/>
<line x1="446.7" y1="272.3" x2="446.7" y2="267.6" stroke="#0000ff" stroke-opacity="0.65"/>
<line x1="451.6" y1="272.3" x2="451.6" y2="264.9" stroke="#0000ff" stroke-opacity="0.65"/>
<line x1="456.0" y1="272.3" x2="456.0" y2="269.2" stroke="#0000ff" stroke-opacity="0.65"/>
<line x1="442.9" y1="272.3" x2="442.9" y2="263.8" stroke="#000000" stroke-opacity="0.62"/>
<line x1="447.5" y1="272.3" x2="447.5" y2="249.1" stroke="#000000" stroke-opacity="0.62"/>
<line x1="450.0" y1="272.3" x2="450.0" y2="258.3" stroke="#000000" stroke-opacity="0.62"/>
<line x1="452.5" y1="272.3" x2="452.5" y2="262.1" stroke="#000000" stroke-opacity="0.62"/>
<line x1="454.3" y1="272.3" x2="454.3" y2="249.1" stroke="#000000" stroke-opacity="0.62"/>
<line x1="455.4" y1="272.3" x2="455.4" y2="256.2" stroke="#000000" stroke-opacity="0.62"/>
<line x1="457.0" y1="272.3" x2="457.0" y2="262.1" stroke="#000000" stroke-opacity="0.62"/>
<line x1="460.3" y1="272.3" x2="460.3" y2="267.0" stroke="#000000" stroke-opacity="0.62"/>
<line x1="463.0" y1="272.3" x2="463.0" y2="261.6" stroke="#000000" stroke-opacity="0.62"/>
<line x1="464.7" y1="272.3" x2="464.7" y2="268.7" stroke="#000000" stroke-opacity="0.62"/>
<line x1="479.4" y1="272.3" x2="479.4" y2="269.2" stroke="#000000" stroke-opacity="0.62"/>
<line x1="371.0" y1="272.3" x2="371.0" y2="271.3" stroke="#0000ff" stroke-opacity="0.3"/>
<line x1="378.0" y1="272.3" x2="378.0" y2="271.1" stroke="#0000ff" stroke-opacity="0.3"/>
<line x1="381.0" y1="272.3" x2="381.0" y2="271.1" stroke="#0000ff" stroke-opacity="0.3"/>
<line x1="384.0" y1="272.3" x2="384.0" y2="271.3" stroke="#0000ff" stroke-opacity="0.3"/>
<line x1="390.0" y1="272.3" x2="390.0" y2="270.7" stroke="#0000ff" stroke-opacity="0.3"/>
<line x1="393.0" y1="272.3" x2="393.0" y2="270.7" stroke="#000000" stroke-opacity="0.3"/>
<line x1="400.0" y1="272.3" x2="400.0" y2="271.1" stroke="#0000ff" stroke-opacity="0.3"/>
<line x1="408.0" y1="272.3" x2="408.0" y2="270.7" stroke="#0000ff" stroke-opacity="0.3"/>
<line x1="415.0" y1="272.3" x2="415.0" y2="270.7" stroke="#0000ff" stroke-opacity="0.3"/>
<line x1="418.0" y1="272.3" x2="418.0" y2="270.7" stroke="#0000ff" stroke-opacity="0.3"/>
<line x1="426.0" y1="272.3" x2="426.0" y2="271.3" stroke="#0000ff" stroke-opacity="0.3"/>
<line x1="430.0" y1="272.3" x2="430.0" y2="271.3" stroke="#0000ff" stroke-opacity="0.3"/>
<line x1="433.0" y1="272.3" x2="433.0" y2="270.7" stroke="#0000ff" stroke-opacity="0.3"/>
<line x1="437.0" y1="272.3" x2="437.0" y2="271.1" stroke="#0000ff" stroke-opacity="0.3"/>
<line x1="442.0" y1="272.3" x2="442.0" y2="271.1" stroke="#0000ff" stroke-opacity="0.3"/>
<line x1="445.0" y1="272.3" x2="445.0" y2="271.1" stroke="#0000ff" stroke-opacity="0.3"/>
<line x1="452.0" y1="272.3" x2="452.0" y2="270.7" stroke="#0000ff" stroke-opacity="0.3"/>
<line x1="455.0" y1="272.3" x2="455.0" y2="271.1" stroke="#0000ff" stroke-opacity="0.3"/>
<line x1="458.0" y1="272.3" x2="458.0" y2="271.3" stroke="#0000ff" stroke-opacity="0.3"/>
<line x1="464.0" y1="272.3" x2="464.0" y2="270.7" stroke="#0000ff" stroke-opacity="0.3"/>
<line x1="470.0" y1="272.3" x2="470.0" y2="271.1" stroke="#0000ff" stroke-opacity="0.3"/>
<line x1="478.0" y1="272.3" x2="478.0" y2="271.1" stroke="#0000ff" stroke-opacity="0.3"/>
<line x1="486.0" y1="272.3" x2="486.0" y2="271.3" stroke="#0000ff" stroke-opacity="0.3"/>
<line x1="492.0" y1="272.3" x2="492.0" y2="270.7" stroke="#0000ff" stroke-opacity="0.3"/>
<line x1="500.0" y1="272.3" x2="500.0" y2="271.1" stroke="#0000ff" stroke-opacity="0.3"/>
<line x1="504.0" y1="272.3" x2="504.0" y2="270.7" stroke="#0000ff" stroke-opacity="0.3"/>
<line x1="507.0" y1="272.3" x2="507.0" y2="271.3" stroke="#0000ff" stroke-opacity="0.3"/>
<line x1="510.0" y1="272.3" x2="510.0" y2="271.3" stroke="#0000ff" stroke-opacity="0.3"/>
<line x1="513.0" y1="272.3" x2="513.0" y2="271.3" stroke="#0000ff" stroke-opacity="0.3"/>
<line x1="518.0" y1="272.3" x2="518.0" y2="270.7" stroke="#0000ff" stroke-opacity="0.3"/>
<line x1="524.0" y1="272.3" x2="524.0" y2="270.7" stroke="#0000ff" stroke-opacity="0.3"/>
<line x1="385.0" y1="272.3" x2="385.0" y2="271.5" stroke="#0000ff" stroke-opacity="0.85"/>
<line x1="387.6" y1="272.3" x2="387.6" y2="270.9" stroke="#0000ff" stroke-opacity="0.85"/>
<line x1="388.9" y1="272.3" x2="388.9" y2="270.8" stroke="#0000ff" stroke-opacity="0.85"/>
<line x1="390.1" y1="272.3" x2="390.1" y2="271.0" stroke="#0000ff" stroke-opacity="0.85"/>
<line x1="392.4" y1="272.3" x2="392.4" y2="270.4" stroke="#0000ff" stroke-opacity="0.85"/>
<line x1="394.1" y1="272.3" x2="394.1" y2="270.3" stroke="#0000ff" stroke-opacity="0.85"/>
<line x1="395.7" y1="272.3" x2="395.7" y2="269.9" stroke="#0000ff" stroke-opacity="0.85"/>
<line x1="396.8" y1="272.3" x2="396.8" y2="270.0" stroke="#0000ff" stroke-opacity="0.85"/>
<line x1="397.9" y1="272.3" x2="397.9" y2="270.9" stroke="#0000ff" stroke-opacity="0.85"/>
<line x1="400.0" y1="272.3" x2="400.0" y2="269.8" stroke="#0000ff" stroke-opacity="0.85"/>
<line x1="401.9" y1="272.3" x2="401.9" y2="270.7" stroke="#0000ff" stroke-opacity="0.85"/>
<line x1="403.4" y1="272.3" x2="403.4" y2="270.3" stroke="#0000ff" stroke-opacity="0.85"/>
<line x1="405.3" y1="272.3" x2="405.3" y2="270.5" stroke="#0000ff" stroke-opacity="0.85"/>
<line x1="406.7" y1="272.3" x2="406.7" y2="269.6" stroke="#0000ff" stroke-opacity="0.85"/>
<line x1="408.1" y1="272.3" x2="408.1" y2="270.0" stroke="#0000ff" stroke-opacity="0.85"/>
<line x1="409.9" y1="272.3" x2="409.9" y2="269.2" stroke="#0000ff" stroke-opacity="0.85"/>
<line x1="411.2" y1="272.3" x2="411.2" y2="269.2" stroke="#0000ff" stroke-opacity="0.85"/>
<line x1="412.2" y1="272.3" x2="412.2" y2="268.5" stroke="#0000ff" stroke-opacity="0.85"/>
<line x1="413.1" y1="272.3" x2="413.1" y2="269.8" stroke="#0000ff" stroke-opacity="0.85"/>
<line x1="414.8" y1="272.3" x2="414.8" y2="270.2" stroke="#0000ff" stroke-opacity="0.85"/>
<line x1="416.0" y1="272.3" x2="416.0" y2="269.4" stroke="#0000ff" stroke-opacity="0.85"/>
<line x1="417.3" y1="272.3" x2="417.3" y2="268.2" stroke="#0000ff" stroke-opacity="0.85"/>
<line x1="418.9" y1="272.3" x2="418.9" y2="269.6" stroke="#0000ff" stroke-opacity="0.85"/>
<line x1="420.1" y1="272.3" x2="420.1" y2="270.3" stroke="#0000ff" stroke-opacity="0.85"/>
<line x1="421.6" y1="272.3" x2="421.6" y2="268.6" stroke="#0000ff" stroke-opacity="0.85"/>
<line x1="423.2" y1="272.3" x2="423.2" y2="269.5" stroke="#0000ff" stroke-opacity="0.85"/>
<line x1="424.6" y1="272.3" x2="424.6" y2="268.4" stroke="#0000ff" stroke-opacity="0.85"/>
<line x1="425.4" y1="272.3" x2="425.4" y2="268.1" stroke="#0000ff" stroke-opacity="0.85"/>
<line x1="426.9" y1="272.3" x2="426.9" y2="268.0" stroke="#0000ff" stroke-opacity="0.85"/>
<line x1="428.3" y1="272.3" x2="428.3" y2="269.1" stroke="#0000ff" stroke-opacity="0.85"/>
<line x1="429.1" y1="272.3" x2="429.1" y2="269.2" stroke="#0000ff" stroke-opacity="0.85"/>
<line x1="430.5" y1="272.3" x2="430.5" y2="269.2" stroke="#0000ff" stroke-opacity="0.85"/>
<line x1="431.2" y1="272.3" x2="431.2" y2="267.8" stroke="#0000ff" stroke-opacity="0.85"/>
<line x1="432.3" y1="272.3" x2="432.3" y2="268.1" stroke="#0000ff" stroke-opacity="0.85"/>
<line x1="433.3" y1="272.3" x2="433.3" y2="269.4" stroke="#0000ff" stroke-opacity="0.85"/>
<line x1="434.3" y1="272.3" x2="434.3" y2="269.7" stroke="#0000ff" stroke-opacity="0.85"/>
<line x1="435.0" y1="272.3" x2="435.0" y2="269.3" stroke="#0000ff" stroke-opacity="0.85"/>
<line x1="435.7" y1="272.3" x2="435.7" y2="267.7" stroke="#0000ff" stroke-opacity="0.85"/>
<line x1="437.0" y1="272.3" x2="437.0" y2="269.8" stroke="#0000ff" stroke-opacity="0.85"/>
<line x1="438.4" y1="272.3" x2="438.4" y2="268.2" stroke="#0000ff" stroke-opacity="0.85"/>
<line x1="439.4" y1="272.3" x2="439.4" y2="269.3" stroke="#0000ff" stroke-opacity="0.85"/>
<line x1="440.2" y1="272.3" x2="440.2" y2="268.8" stroke="#0000ff" stroke-opacity="0.85"/>
<line x1="441.3" y1="272.3" x2="441.3" y2="268.1" stroke="#0000ff" stroke-opacity="0.85"/>
<line x1="442.0" y1="272.3" x2="442.0" y2="268.2" stroke="#0000ff" stroke-opacity="0.85"/>
<line x1="443.5" y1="272.3" x2="443.5" y2="267.9" stroke="#0000ff" stroke-opacity="0.85"/>
<line x1="444.3" y1="272.3" x2="444.3" y2="269.6" stroke="#0000ff" stroke-opacity="0.85"/>
<line x1="445.1" y1="272.3" x2="445.1" y2="268.7" stroke="#0000ff" stroke-opacity="0.85"/>
<line x1="446.3" y1="272.3" x2="446.3" y2="268.7" stroke="#0000ff" stroke-opacity="0.85"/>
<line x1="447.5" y1="272.3" x2="447.5" y2="269.1" stroke="#0000ff" stroke-opacity="0.85"/>
<line x1="448.3" y1="272.3" x2="448.3" y2="268.6" stroke="#0000ff" stroke-opacity="0.85"/>
<line x1="449.6" y1="272.3" x2="449.6" y2="269.3" stroke="#0000ff" stroke-opacity="0.85"/>
<line x1="451.2" y1="272.3" x2="451.2" y2="268.8" stroke="#0000ff" stroke-opacity="0.85"/>
<line x1="452.1" y1="272.3" x2="452.1" y2="270.1" stroke="#0000ff" stroke-opacity="0.85"/>
<line x1="453.8" y1="272.3" x2="453.8" y2="269.6" stroke="#0000ff" stroke-opacity="0.85"/>
<line x1="455.2" y1="272.3" x2="455.2" y2="269.0" stroke="#0000ff" stroke-opacity="0.85"/>
<line x1="457.0" y1="272.3" x2="457.0" y2="270.2" stroke="#0000ff" stroke-opacity="0.85"/>
<line x1="458.8" y1="272.3" x2="458.8" y2="269.8" stroke="#0000ff" stroke-opacity="0.85"/>
<line x1="459.8" y1="272.3" x2="459.8" y2="270.5" stroke="#0000ff" stroke-opacity="0.85"/>
<line x1="460.9" y1="272.3" x2="460.9" y2="270.6" stroke="#0000ff" stroke-opacity="0.85"/>
<line x1="462.8" y1="272.3" x2="462.8" y2="270.6" stroke="#0000ff" stroke-opacity="0.85"/>
<line x1="464.9" y1="272.3" x2="464.9" y2="270.4" stroke="#0000ff" stroke-opacity="0.85"/>
<line x1="466.5" y1="272.3" x2="466.5" y2="270.3" stroke="#0000ff" stroke-opacity="0.85"/>
<line x1="467.7" y1="272.3" x2="467.7" y2="271.0" stroke="#0000ff" stroke-opacity="0.85"/>
<line x1="469.4" y1="272.3" x2="469.4" y2="271.0" stroke="#0000ff" stroke-opacity="0.85"/>
<line x1="470.7" y1="272.3" x2="470.7" y2="271.2" stroke="#0000ff" stroke-opacity="0.85"/>
<line x1="440.0" y1="272.3" x2="440.0" y2="271.5" stroke="#000000" stroke-opacity="0.6"/>
<line x1="441.4" y1="272.3" x2="441.4" y2="270.9" stroke="#000000" stroke-opacity="0.6"/>
<line x1="442.6" y1="272.3" x2="442.6" y2="270.6" stroke="#000000" stroke-opacity="0.6"/>
<line x1="444.8" y1="272.3" x2="444.8" y2="269.7" stroke="#000000" stroke-opacity="0.6"/>
<line x1="445.8" y1="272.3" x2="445.8" y2="270.6" stroke="#000000" stroke-opacity="0.6"/>
<line x1="447.7" y1="272.3" x2="447.7" y2="269.3" stroke="#000000" stroke-opacity="0.6"/>
<line x1="449.4" y1="272.3" x2="449.4" y2="269.8" stroke="#000000" stroke-opacity="0.6"/>
<line x1="450.7" y1="272.3" x2="450.7" y2="269.0" stroke="#000000" stroke-opacity="0.6"/>
<line x1="451.8" y1="272.3" x2="451.8" y2="267.8" stroke="#000000" stroke-opacity="0.6"/>
<line x1="453.3" y1="272.3" x2="453.3" y2="266.8" stroke="#000000" stroke-opacity="0.6"/>
<line x1="454.4" y1="272.3" x2="454.4" y2="267.0" stroke="#000000" stroke-opacity="0.6"/>
<line x1="455.4" y1="272.3" x2="455.4" y2="269.3" stroke="#000000" stroke-opacity="0.6"/>
<line x1="456.1" y1="272.3" x2="456.1" y2="268.7" stroke="#000000" stroke-opacity="0.6"/>
<line x1="456.9" y1="272.3" x2="456.9" y2="269.9" stroke="#000000" stroke-opacity="0.6"/>
<line x1="458.3" y1="272.3" x2="458.3" y2="269.0" stroke="#000000" stroke-opacity="0.6"/>
<line x1="459.7" y1="272.3" x2="459.7" y2="269.0" stroke="#000000" stroke-opacity="0.6"/>
<line x1="460.6" y1="272.3" x2="460.6" y2="268.0" stroke="#000000" stroke-opacity="0.6"/>
<line x1="462.2" y1="272.3" x2="462.2" y2="269.5" stroke="#000000" stroke-opacity="0.6"/>
<line x1="463.1" y1="272.3" x2="463.1" y2="269.0" stroke="#000000" stroke-opacity="0.6"/>
<line x1="464.1" y1="272.3" x2="464.1" y2="270.1" stroke="#000000" stroke-opacity="0.6"/>
<line x1="465.9" y1="272.3" x2="465.9" y2="270.4" stroke="#000000" stroke-opacity="0.6"/>
<line x1="467.0" y1="272.3" x2="467.0" y2="269.6" stroke="#000000" stroke-opacity="0.6"/>
<line x1="469.1" y1="272.3" x2="469.1" y2="270.9" stroke="#000000" stroke-opacity="0.6"/>
<line x1="448.1" y1="272.3" x2="448.1" y2="261.6" stroke="#000000" stroke-opacity="0.5"/>
<line x1="450.6" y1="272.3" x2="450.6" y2="266.9" stroke="#000000" stroke-opacity="0.5"/>
<line x1="453.1" y1="272.3" x2="453.1" y2="266.3" stroke="#000000" stroke-opacity="0.5"/>
<line x1="454.9" y1="272.3" x2="454.9" y2="258.4" stroke="#000000" stroke-opacity="0.5"/>
<line x1="456.0" y1="272.3" x2="456.0" y2="265.8" stroke="#000000" stroke-opacity="0.5"/>
<line x1="457.6" y1="272.3" x2="457.6" y2="268.7" stroke="#000000" stroke-opacity="0.5"/>
<line x1="463.6" y1="272.3" x2="463.6" y2="267.9" stroke="#000000" stroke-opacity="0.5"/>
<line x1="400.9" y1="310.2" x2="400.9" y2="308.9" stroke="#0000ff" stroke-opacity="0.65"/>
<line x1="404.2" y1="310.2" x2="404.2" y2="306.1" stroke="#0000ff" stroke-opacity="0.65"/>
<line x1="406.3" y1="310.2" x2="406.3" y2="308.9" stroke="#0000ff" stroke-opacity="0.65"/>
<line x1="410.2" y1="310.2" x2="410.2" y2="306.1" stroke="#0000ff" stroke-opacity="0.65"/>
<line x1="412.3" y1="310.2" x2="412.3" y2="305.6" stroke="#0000ff" stroke-opacity="0.65"/>
<line x1="415.0" y1="310.2" x2="415.0" y2="306.1" stroke="#0000ff" stroke-opacity="0.65"/>
<line x1="418.9" y1="310.2" x2="418.9" y2="308.3" stroke="#0000ff" stroke-opacity="0.65"/>
<line x1="422.1" y1="310.2" x2="422.1" y2="293.0" stroke="#0000ff" stroke-opacity="0.65"/>
<line x1="424.0" y1="310.2" x2="424.0" y2="301.8" stroke="#0000ff" stroke-opacity="0.65"/>
<line x1="427.6" y1="310.2" x2="427.6" y2="304.5" stroke="#0000ff" stroke-opacity="0.65"/>
<line x1="429.8" y1="310.2" x2="429.8" y2="293.0" stroke="#0000ff" stroke-opacity="0.65"/>
<line x1="431.2" y1="310.2" x2="431.2" y2="296.3" stroke="#0000ff" stroke-opacity="0.65"/>
<line x1="432.3" y1="310.2" x2="432.3" y2="298.5" stroke="#0000ff" stroke-opacity="0.65"/>
<line x1="434.7" y1="310.2" x2="434.7" y2="305.6" stroke="#0000ff" stroke-opacity="0.65"/>
<line x1="437.9" y1="310.2" x2="437.9" y2="304.0" stroke="#0000ff" stroke-opacity="0.65"/>
<line x1="440.7" y1="310.2" x2="440.7" y2="299.0" stroke="#0000ff" stroke-opacity="0.65"/>
<line x1="442.3" y1="310.2" x2="442.3" y2="304.0" stroke="#0000ff" stroke-opacity="0.65"/>
<line x1="445.6" y1="310.2" x2="445.6" y2="306.1" stroke="#0000ff" stroke-opacity="0.65"/>
<line x1="448.7" y1="310.2" x2="448.7" y2="308.3" stroke="#0000ff" stroke-opacity="0.65"/>
<line x1="450.9" y1="310.2" x2="450.9" y2="308.3" stroke="#0000ff" stroke-opacity="0.65"/>
<line x1="453.3" y1="310.2" x2="453.3" y2="297.4" stroke="#000000" stroke-opacity="0.62"/>
<line x1="455.3" y1="310.2" x2="455.3" y2="306.7" stroke="#000000" stroke-opacity="0.62"/>
<line x1="456.9" y1="310.2" x2="456.9" y2="291.4" stroke="#000000" stroke-opacity="0.62"/>
<line x1="458.0" y1="310.2" x2="458.0" y2="304.0" stroke="#000000" stroke-opacity="0.62"/>
<line x1="461.2" y1="310.2" x2="461.2" y2="305.0" stroke="#000000" stroke-opacity="0.62"/>
<line x1="463.7" y1="310.2" x2="463.7" y2="300.0" stroke="#000000" stroke-opacity="0.62"/>
<line x1="465.4" y1="310.2" x2="465.4" y2="294.2" stroke="#000000" stroke-opacity="0.62"/>
<line x1="466.7" y1="310.2" x2="466.7" y2="306.7" stroke="#000000" stroke-opacity="0.62"/>
<line x1="469.4" y1="310.2" x2="469.4" y2="306.1" stroke="#000000" stroke-opacity="0.62"/>
<line x1="474.9" y1="310.2" x2="474.9" y2="307.2" stroke="#000000" stroke-opacity="0.62"/>
<line x1="391.0" y1="310.2" x2="391.0" y2="309.0" stroke="#0000ff" stroke-opacity="0.3"/>
<line x1="398.0" y1="310.2" x2="398.0" y2="309.2" stroke="#000000" stroke-opacity="0.3"/>
<line x1="401.0" y1="310.2" x2="401.0" y2="309.0" stroke="#0000ff" stroke-opacity="0.3"/>
<line x1="409.0" y1="310.2" x2="409.0" y2="308.6" stroke="#0000ff" stroke-opacity="0.3"/>
<line x1="415.0" y1="310.2" x2="415.0" y2="309.2" stroke="#0000ff" stroke-opacity="0.3"/>
<line x1="420.0" y1="310.2" x2="420.0" y2="309.2" stroke="#000000" stroke-opacity="0.3"/>
<line x1="428.0" y1="310.2" x2="428.0" y2="308.6" stroke="#0000ff" stroke-opacity="0.3"/>
<line x1="435.0" y1="310.2" x2="435.0" y2="309.0" stroke="#0000ff" stroke-opacity="0.3"/>
<line x1="438.0" y1="310.2" x2="438.0" y2="309.0" stroke="#0000ff" stroke-opacity="0.3"/>
<line x1="443.0" y1="310.2" x2="443.0" y2="309.0" stroke="#0000ff" stroke-opacity="0.3"/>
<line x1="449.0" y1="310.2" x2="449.0" y2="309.0" stroke="#0000ff" stroke-opacity="0.3"/>
<line x1="453.0" y1="310.2" x2="453.0" y2="309.2" stroke="#000000" stroke-opacity="0.3"/>
<line x1="456.0" y1="310.2" x2="456.0" y2="309.0" stroke="#0000ff" stroke-opacity="0.3"/>
<line x1="460.0" y1="310.2" x2="460.0" y2="309.2" stroke="#0000ff" stroke-opacity="0.3"/>
<line x1="464.0" y1="310.2" x2="464.0" y2="309.2" stroke="#000000" stroke-opacity="0.3"/>
<line x1="469.0" y1="310.2" x2="469.0" y2="308.6" stroke="#0000ff" stroke-opacity="0.3"/>
<line x1="475.0" y1="310.2" x2="475.0" y2="309.2" stroke="#000000" stroke-opacity="0.3"/>
<line x1="481.0" y1="310.2" x2="481.0" y2="309.2" stroke="#0000ff" stroke-opacity="0.3"/>
<line x1="487.0" y1="310.2" x2="487.0" y2="309.0" stroke="#0000ff" stroke-opacity="0.3"/>
<line x1="491.0" y1="310.2" x2="491.0" y2="309.0" stroke="#0000ff" stroke-opacity="0.3"/>
<line x1="395.0" y1="310.2" x2="395.0" y2="309.4" stroke="#0000ff" stroke-opacity="0.85"/>
<line x1="396.4" y1="310.2" x2="396.4" y2="309.0" stroke="#0000ff" stroke-opacity="0.85"/>
<line x1="397.7" y1="310.2" x2="397.7" y2="308.9" stroke="#0000ff" stroke-opacity="0.85"/>
<line x1="400.0" y1="310.2" x2="400.0" y2="308.5" stroke="#0000ff" stroke-opacity="0.85"/>
<line x1="401.7" y1="310.2" x2="401.7" y2="308.4" stroke="#0000ff" stroke-opacity="0.85"/>
<line x1="403.3" y1="310.2" x2="403.3" y2="308.6" stroke="#0000ff" stroke-opacity="0.85"/>
<line x1="404.4" y1="310.2" x2="404.4" y2="308.8" stroke="#0000ff" stroke-opacity="0.85"/>
<line x1="406.0" y1="310.2" x2="406.0" y2="308.4" stroke="#0000ff" stroke-opacity="0.85"/>
<line x1="407.5" y1="310.2" x2="407.5" y2="308.5" stroke="#0000ff" stroke-opacity="0.85"/>
<line x1="408.5" y1="310.2" x2="408.5" y2="308.6" stroke="#0000ff" stroke-opacity="0.85"/>
<line x1="409.5" y1="310.2" x2="409.5" y2="308.5" stroke="#0000ff" stroke-opacity="0.85"/>
<line x1="410.9" y1="310.2" x2="410.9" y2="308.7" stroke="#0000ff" stroke-opacity="0.85"/>
<line x1="412.7" y1="310.2" x2="412.7" y2="308.7" stroke="#0000ff" stroke-opacity="0.85"/>
<line x1="414.4" y1="310.2" x2="414.4" y2="307.4" stroke="#0000ff" stroke-opacity="0.85"/>
<line x1="416.1" y1="310.2" x2="416.1" y2="308.0" stroke="#0000ff" stroke-opacity="0.85"/>
<line x1="417.4" y1="310.2" x2="417.4" y2="308.5" stroke="#0000ff" stroke-opacity="0.85"/>
<line x1="418.3" y1="310.2" x2="418.3" y2="307.1" stroke="#0000ff" stroke-opacity="0.85"/>
<line x1="419.5" y1="310.2" x2="419.5" y2="307.0" stroke="#0000ff" stroke-opacity="0.85"/>
<line x1="420.3" y1="310.2" x2="420.3" y2="307.1" stroke="#0000ff" stroke-opacity="0.85"/>
<line x1="421.1" y1="310.2" x2="421.1" y2="308.0" stroke="#0000ff" stroke-opacity="0.85"/>
<line x1="422.3" y1="310.2" x2="422.3" y2="307.0" stroke="#0000ff" stroke-opacity="0.85"/>
<line x1="423.1" y1="310.2" x2="423.1" y2="307.1" stroke="#0000ff" stroke-opacity="0.85"/>
<line x1="424.2" y1="310.2" x2="424.2" y2="308.3" stroke="#0000ff" stroke-opacity="0.85"/>
<line x1="425.7" y1="310.2" x2="425.7" y2="308.5" stroke="#0000ff" stroke-opacity="0.85"/>
<line x1="427.1" y1="310.2" x2="427.1" y2="307.9" stroke="#0000ff" stroke-opacity="0.85"/>
<line x1="427.8" y1="310.2" x2="427.8" y2="307.6" stroke="#0000ff" stroke-opacity="0.85"/>
<line x1="429.1" y1="310.2" x2="429.1" y2="307.9" stroke="#0000ff" stroke-opacity="0.85"/>
<line x1="430.2" y1="310.2" x2="430.2" y2="307.6" stroke="#0000ff" stroke-opacity="0.85"/>
<line x1="431.2" y1="310.2" x2="431.2" y2="308.1" stroke="#0000ff" stroke-opacity="0.85"/>
<line x1="432.5" y1="310.2" x2="432.5" y2="308.2" stroke="#0000ff" stroke-opacity="0.85"/>
<line x1="433.2" y1="310.2" x2="433.2" y2="307.5" stroke="#0000ff" stroke-opacity="0.85"/>
<line x1="433.9" y1="310.2" x2="433.9" y2="307.1" stroke="#0000ff" stroke-opacity="0.85"/>
<line x1="434.7" y1="310.2" x2="434.7" y2="307.4" stroke="#0000ff" stroke-opacity="0.85"/>
<line x1="435.4" y1="310.2" x2="435.4" y2="306.8" stroke="#0000ff" stroke-opacity="0.85"/>
<line x1="436.8" y1="310.2" x2="436.8" y2="307.6" stroke="#0000ff" stroke-opacity="0.85"/>
<line x1="437.9" y1="310.2" x2="437.9" y2="308.3" stroke="#0000ff" stroke-opacity="0.85"/>
<line x1="438.6" y1="310.2" x2="438.6" y2="307.5" stroke="#0000ff" stroke-opacity="0.85"/>
<line x1="440.1" y1="310.2" x2="440.1" y2="307.5" stroke="#0000ff" stroke-opacity="0.85"/>
<line x1="440.9" y1="310.2" x2="440.9" y2="307.6" stroke="#0000ff" stroke-opacity="0.85"/>
<line x1="441.7" y1="310.2" x2="441.7" y2="308.6" stroke="#0000ff" stroke-opacity="0.85"/>
<line x1="443.2" y1="310.2" x2="443.2" y2="307.4" stroke="#0000ff" stroke-opacity="0.85"/>
<line x1="444.4" y1="310.2" x2="444.4" y2="307.2" stroke="#0000ff" stroke-opacity="0.85"/>
<line x1="445.2" y1="310.2" x2="445.2" y2="307.8" stroke="#0000ff" stroke-opacity="0.85"/>
<line x1="446.4" y1="310.2" x2="446.4" y2="308.2" stroke="#0000ff" stroke-opacity="0.85"/>
<line x1="448.0" y1="310.2" x2="448.0" y2="307.4" stroke="#0000ff" stroke-opacity="0.85"/>
<line x1="449.2" y1="310.2" x2="449.2" y2="308.6" stroke="#0000ff" stroke-opacity="0.85"/>
<line x1="450.5" y1="310.2" x2="450.5" y2="307.4" stroke="#0000ff" stroke-opacity="0.85"/>
<line x1="451.8" y1="310.2" x2="451.8" y2="308.6" stroke="#0000ff" stroke-opacity="0.85"/>
<line x1="453.5" y1="310.2" x2="453.5" y2="308.4" stroke="#0000ff" stroke-opacity="0.85"/>
<line x1="454.4" y1="310.2" x2="454.4" y2="308.0" stroke="#0000ff" stroke-opacity="0.85"/>
<line x1="455.8" y1="310.2" x2="455.8" y2="308.8" stroke="#0000ff" stroke-opacity="0.85"/>
<line x1="457.5" y1="310.2" x2="457.5" y2="308.4" stroke="#0000ff" stroke-opacity="0.85"/>
<line x1="459.4" y1="310.2" x2="459.4" y2="307.9" stroke="#0000ff" stroke-opacity="0.85"/>
<line x1="460.8" y1="310.2" x2="460.8" y2="308.3" stroke="#0000ff" stroke-opacity="0.85"/>
<line x1="462.3" y1="310.2" x2="462.3" y2="307.9" stroke="#0000ff" stroke-opacity="0.85"/>
<line x1="463.3" y1="310.2" x2="463.3" y2="308.8" stroke="#0000ff" stroke-opacity="0.85"/>
<line x1="465.3" y1="310.2" x2="465.3" y2="308.8" stroke="#0000ff" stroke-opacity="0.85"/>
<line x1="466.8" y1="310.2" x2="466.8" y2="308.3" stroke="#0000ff" stroke-opacity="0.85"/>
<line x1="468.4" y1="310.2" x2="468.4" y2="308.6" stroke="#0000ff" stroke-opacity="0.85"/>
<line x1="469.5" y1="310.2" x2="469.5" y2="308.9" stroke="#0000ff" stroke-opacity="0.85"/>
<line x1="470.7" y1="310.2" x2="470.7" y2="308.5" stroke="#0000ff" stroke-opacity="0.85"/>
<line x1="472.3" y1="310.2" x2="472.3" y2="308.9" stroke="#0000ff" stroke-opacity="0.85"/>
<line x1="473.6" y1="310.2" x2="473.6" y2="308.9" stroke="#0000ff" stroke-opacity="0.85"/>
<line x1="475.8" y1="310.2" x2="475.8" y2="309.2" stroke="#0000ff" stroke-opacity="0.85"/>
<line x1="477.1" y1="310.2" x2="477.1" y2="309.1" stroke="#0000ff" stroke-opacity="0.85"/>
<line x1="450.0" y1="310.2" x2="450.0" y2="309.4" stroke="#000000" stroke-opacity="0.6"/>
<line x1="451.4" y1="310.2" x2="451.4" y2="309.1" stroke="#000000" stroke-opacity="0.6"/>
<line x1="453.1" y1="310.2" x2="453.1" y2="308.6" stroke="#000000" stroke-opacity="0.6"/>
<line x1="454.2" y1="310.2" x2="454.2" y2="309.0" stroke="#000000" stroke-opacity="0.6"/>
<line x1="456.2" y1="310.2" x2="456.2" y2="308.0" stroke="#000000" stroke-opacity="0.6"/>
<line x1="457.5" y1="310.2" x2="457.5" y2="308.8" stroke="#000000" stroke-opacity="0.6"/>
<line x1="459.2" y1="310.2" x2="459.2" y2="307.8" stroke="#000000" stroke-opacity="0.6"/>
<line x1="460.4" y1="310.2" x2="460.4" y2="307.9" stroke="#000000" stroke-opacity="0.6"/>
<line x1="461.8" y1="310.2" x2="461.8" y2="307.9" stroke="#000000" stroke-opacity="0.6"/>
<line x1="462.9" y1="310.2" x2="462.9" y2="307.0" stroke="#000000" stroke-opacity="0.6"/>
<line x1="464.2" y1="310.2" x2="464.2" y2="308.3" stroke="#000000" stroke-opacity="0.6"/>
<line x1="465.3" y1="310.2" x2="465.3" y2="308.5" stroke="#000000" stroke-opacity="0.6"/>
<line x1="466.4" y1="310.2" x2="466.4" y2="307.8" stroke="#000000" stroke-opacity="0.6"/>
<line x1="467.5" y1="310.2" x2="467.5" y2="308.6" stroke="#000000" stroke-opacity="0.6"/>
<line x1="468.3" y1="310.2" x2="468.3" y2="308.2" stroke="#000000" stroke-opacity="0.6"/>
<line x1="469.2" y1="310.2" x2="469.2" y2="308.1" stroke="#000000" stroke-opacity="0.6"/>
<line x1="470.1" y1="310.2" x2="470.1" y2="307.8" stroke="#000000" stroke-opacity="0.6"/>
<line x1="471.0" y1="310.2" x2="471.0" y2="308.1" stroke="#000000" stroke-opacity="0.6"/>
<line x1="472.4" y1="310.2" x2="472.4" y2="308.2" stroke="#000000" stroke-opacity="0.6"/>
<line x1="473.4" y1="310.2" x2="473.4" y2="308.2" stroke="#000000" stroke-opacity="0.6"/>
<line x1="474.4" y1="310.2" x2="474.4" y2="308.4" stroke="#000000" stroke-opacity="0.6"/>
<line x1="476.0" y1="310.2" x2="476.0" y2="308.8" stroke="#000000" stroke-opacity="0.6"/>
<line x1="453.9" y1="310.2" x2="453.9" y2="303.0" stroke="#000000" stroke-opacity="0.5"/>
<line x1="457.5" y1="310.2" x2="457.5" y2="301.1" stroke="#000000" stroke-opacity="0.5"/>
<line x1="464.3" y1="310.2" x2="464.3" y2="305.6" stroke="#000000" stroke-opacity="0.5"/>
<line x1="466.0" y1="310.2" x2="466.0" y2="300.8" stroke="#000000" stroke-opacity="0.5"/>
<line x1="406.0" y1="348.1" x2="406.0" y2="345.2" stroke="#0000ff" stroke-opacity="0.65"/>
<line x1="408.7" y1="348.1" x2="408.7" y2="346.3" stroke="#0000ff" stroke-opacity="0.65"/>
<line x1="411.0" y1="348.1" x2="411.0" y2="346.3" stroke="#0000ff" stroke-opacity="0.65"/>
<line x1="413.6" y1="348.1" x2="413.6" y2="346.3" stroke="#0000ff" stroke-opacity="0.65"/>
<line x1="418.5" y1="348.1" x2="418.5" y2="344.7" stroke="#0000ff" stroke-opacity="0.65"/>
<line x1="422.3" y1="348.1" x2="422.3" y2="346.3" stroke="#0000ff" stroke-opacity="0.65"/>
<line x1="426.1" y1="348.1" x2="426.1" y2="335.4" stroke="#0000ff" stroke-opacity="0.65"/>
<line x1="427.8" y1="348.1" x2="427.8" y2="345.8" stroke="#0000ff" stroke-opacity="0.65"/>
<line x1="429.4" y1="348.1" x2="429.4" y2="346.3" stroke="#0000ff" stroke-opacity="0.65"/>
<line x1="434.0" y1="348.1" x2="434.0" y2="334.9" stroke="#0000ff" stroke-opacity="0.65"/>
<line x1="434.9" y1="348.1" x2="434.9" y2="339.8" stroke="#0000ff" stroke-opacity="0.65"/>
<line x1="436.5" y1="348.1" x2="436.5" y2="334.3" stroke="#0000ff" stroke-opacity="0.65"/>
<line x1="440.8" y1="348.1" x2="440.8" y2="345.2" stroke="#0000ff" stroke-opacity="0.65"/>
<line x1="444.1" y1="348.1" x2="444.1" y2="344.1" stroke="#0000ff" stroke-opacity="0.65"/>
<line x1="445.8" y1="348.1" x2="445.8" y2="346.3" stroke="#0000ff" stroke-opacity="0.65"/>
<line x1="448.5" y1="348.1" x2="448.5" y2="345.2" stroke="#0000ff" stroke-opacity="0.65"/>
<line x1="453.4" y1="348.1" x2="453.4" y2="346.3" stroke="#0000ff" stroke-opacity="0.65"/>
<line x1="454.4" y1="348.1" x2="454.4" y2="346.3" stroke="#0000ff" stroke-opacity="0.65"/>
<line x1="455.6" y1="348.1" x2="455.6" y2="345.2" stroke="#0000ff" stroke-opacity="0.65"/>
<line x1="458.8" y1="348.1" x2="458.8" y2="343.0" stroke="#0000ff" stroke-opacity="0.65"/>
<line x1="460.3" y1="348.1" x2="460.3" y2="342.5" stroke="#0000ff" stroke-opacity="0.65"/>
<line x1="468.0" y1="348.1" x2="468.0" y2="345.2" stroke="#0000ff" stroke-opacity="0.65"/>
<line x1="471.2" y1="348.1" x2="471.2" y2="345.8" stroke="#0000ff" stroke-opacity="0.65"/>
<line x1="475.6" y1="348.1" x2="475.6" y2="345.8" stroke="#0000ff" stroke-opacity="0.65"/>
<line x1="464.2" y1="348.1" x2="464.2" y2="336.0" stroke="#000000" stroke-opacity="0.62"/>
<line x1="478.1" y1="348.1" x2="478.1" y2="339.8" stroke="#000000" stroke-opacity="0.62"/>
<line x1="405.0" y1="348.1" x2="405.0" y2="346.9" stroke="#0000ff" stroke-opacity="0.3"/>
<line x1="409.0" y1="348.1" x2="409.0" y2="346.9" stroke="#0000ff" stroke-opacity="0.3"/>
<line x1="416.0" y1="348.1" x2="416.0" y2="346.9" stroke="#000000" stroke-opacity="0.3"/>
<line x1="423.0" y1="348.1" x2="423.0" y2="347.1" stroke="#0000ff" stroke-opacity="0.3"/>
<line x1="427.0" y1="348.1" x2="427.0" y2="346.4" stroke="#000000" stroke-opacity="0.3"/>
<line x1="431.0" y1="348.1" x2="431.0" y2="346.9" stroke="#0000ff" stroke-opacity="0.3"/>
<line x1="434.0" y1="348.1" x2="434.0" y2="346.9" stroke="#0000ff" stroke-opacity="0.3"/>
<line x1="438.0" y1="348.1" x2="438.0" y2="347.1" stroke="#0000ff" stroke-opacity="0.3"/>
<line x1="442.0" y1="348.1" x2="442.0" y2="346.4" stroke="#0000ff" stroke-opacity="0.3"/>
<line x1="446.0" y1="348.1" x2="446.0" y2="347.1" stroke="#0000ff" stroke-opacity="0.3"/>
<line x1="452.0" y1="348.1" x2="452.0" y2="346.9" stroke="#0000ff" stroke-opacity="0.3"/>
<line x1="455.0" y1="348.1" x2="455.0" y2="347.1" stroke="#000000" stroke-opacity="0.3"/>
<line x1="462.0" y1="348.1" x2="462.0" y2="346.9" stroke="#000000" stroke-opacity="0.3"/>
<line x1="469.0" y1="348.1" x2="469.0" y2="346.9" stroke="#0000ff" stroke-opacity="0.3"/>
<line x1="472.0" y1="348.1" x2="472.0" y2="346.4" stroke="#0000ff" stroke-opacity="0.3"/>
<line x1="475.0" y1="348.1" x2="475.0" y2="346.4" stroke="#0000ff" stroke-opacity="0.3"/>
<line x1="479.0" y1="348.1" x2="479.0" y2="347.1" stroke="#0000ff" stroke-opacity="0.3"/>
<line x1="484.0" y1="348.1" x2="484.0" y2="346.9" stroke="#0000ff" stroke-opacity="0.3"/>
<line x1="487.0" y1="348.1" x2="487.0" y2="347.1" stroke="#0000ff" stroke-opacity="0.3"/>
<line x1="494.0" y1="348.1" x2="494.0" y2="346.9" stroke="#0000ff" stroke-opacity="0.3"/>
<line x1="501.0" y1="348.1" x2="501.0" y2="346.4" stroke="#000000" stroke-opacity="0.3"/>
<line x1="464.8" y1="348.1" x2="464.8" y2="343.5" stroke="#000000" stroke-opacity="0.5"/>
<line x1="424.4" y1="385.9" x2="424.4" y2="379.8" stroke="#0000ff" stroke-opacity="0.65"/>
<line x1="437.8" y1="385.9" x2="437.8" y2="376.6" stroke="#0000ff" stroke-opacity="0.65"/>
<line x1="439.0" y1="385.9" x2="439.0" y2="378.8" stroke="#0000ff" stroke-opacity="0.65"/>
<line x1="440.3" y1="385.9" x2="440.3" y2="377.9" stroke="#0000ff" stroke-opacity="0.65"/>
<line x1="449.9" y1="385.9" x2="449.9" y2="384.2" stroke="#0000ff" stroke-opacity="0.65"/>
<line x1="475.5" y1="385.9" x2="475.5" y2="379.8" stroke="#0000ff" stroke-opacity="0.65"/>
</g>
<line x1="47.9" y1="7.5" x2="258.1" y2="7.5" stroke="#333" stroke-width="1.15"/>
<line x1="47.9" y1="392.2" x2="258.1" y2="392.2" stroke="#333" stroke-width="1.15"/>
<line x1="48.5" y1="7" x2="48.5" y2="392.8" stroke="#333" stroke-width="1.15"/>
<line x1="257.5" y1="7" x2="257.5" y2="392.8" stroke="#333" stroke-width="1.15"/>
<line x1="48.50" y1="392.2" x2="48.50" y2="388.5" stroke="#444" stroke-width="1.1"/>
<line x1="48.50" y1="7.5" x2="48.50" y2="10.8" stroke="#444" stroke-width="1.1"/>
<line x1="100.75" y1="392.2" x2="100.75" y2="388.5" stroke="#444" stroke-width="1.1"/>
<line x1="100.75" y1="7.5" x2="100.75" y2="10.8" stroke="#444" stroke-width="1.1"/>
<line x1="153.00" y1="392.2" x2="153.00" y2="388.5" stroke="#444" stroke-width="1.1"/>
<line x1="153.00" y1="7.5" x2="153.00" y2="10.8" stroke="#444" stroke-width="1.1"/>
<line x1="205.25" y1="392.2" x2="205.25" y2="388.5" stroke="#444" stroke-width="1.1"/>
<line x1="205.25" y1="7.5" x2="205.25" y2="10.8" stroke="#444" stroke-width="1.1"/>
<line x1="257.50" y1="392.2" x2="257.50" y2="388.5" stroke="#444" stroke-width="1.1"/>
<line x1="257.50" y1="7.5" x2="257.50" y2="10.8" stroke="#444" stroke-width="1.1"/>
<line x1="48.5" y1="7.40" x2="52.1" y2="7.40" stroke="#555" stroke-width="1.1"/>
<line x1="257.5" y1="7.40" x2="253.9" y2="7.40" stroke="#555" stroke-width="1.1"/>
<line x1="48.5" y1="45.25" x2="52.1" y2="45.25" stroke="#555" stroke-width="1.1"/>
<line x1="257.5" y1="45.25" x2="253.9" y2="45.25" stroke="#555" stroke-width="1.1"/>
<line x1="48.5" y1="83.10" x2="52.1" y2="83.10" stroke="#555" stroke-width="1.1"/>
<line x1="257.5" y1="83.10" x2="253.9" y2="83.10" stroke="#555" stroke-width="1.1"/>
<line x1="48.5" y1="120.95" x2="52.1" y2="120.95" stroke="#555" stroke-width="1.1"/>
<line x1="257.5" y1="120.95" x2="253.9" y2="120.95" stroke="#555" stroke-width="1.1"/>
<line x1="48.5" y1="158.80" x2="52.1" y2="158.80" stroke="#555" stroke-width="1.1"/>
<line x1="257.5" y1="158.80" x2="253.9" y2="158.80" stroke="#555" stroke-width="1.1"/>
<line x1="48.5" y1="196.65" x2="52.1" y2="196.65" stroke="#555" stroke-width="1.1"/>
<line x1="257.5" y1="196.65" x2="253.9" y2="196.65" stroke="#555" stroke-width="1.1"/>
<line x1="48.5" y1="234.50" x2="52.1" y2="234.50" stroke="#555" stroke-width="1.1"/>
<line x1="257.5" y1="234.50" x2="253.9" y2="234.50" stroke="#555" stroke-width="1.1"/>
<line x1="48.5" y1="272.35" x2="52.1" y2="272.35" stroke="#555" stroke-width="1.1"/>
<line x1="257.5" y1="272.35" x2="253.9" y2="272.35" stroke="#555" stroke-width="1.1"/>
<line x1="48.5" y1="310.20" x2="52.1" y2="310.20" stroke="#555" stroke-width="1.1"/>
<line x1="257.5" y1="310.20" x2="253.9" y2="310.20" stroke="#555" stroke-width="1.1"/>
<line x1="48.5" y1="348.05" x2="52.1" y2="348.05" stroke="#555" stroke-width="1.1"/>
<line x1="257.5" y1="348.05" x2="253.9" y2="348.05" stroke="#555" stroke-width="1.1"/>
<line x1="48.5" y1="385.90" x2="52.1" y2="385.90" stroke="#555" stroke-width="1.1"/>
<line x1="257.5" y1="385.90" x2="253.9" y2="385.90" stroke="#555" stroke-width="1.1"/>
<line x1="329.5" y1="7.5" x2="539.6" y2="7.5" stroke="#333" stroke-width="1.15"/>
<line x1="329.5" y1="392.2" x2="539.6" y2="392.2" stroke="#333" stroke-width="1.15"/>
<line x1="330.1" y1="7" x2="330.1" y2="392.8" stroke="#333" stroke-width="1.15"/>
<line x1="539.0" y1="7" x2="539.0" y2="392.8" stroke="#333" stroke-width="1.15"/>
<line x1="330.10" y1="392.2" x2="330.10" y2="388.5" stroke="#444" stroke-width="1.1"/>
<line x1="330.10" y1="7.5" x2="330.10" y2="10.8" stroke="#444" stroke-width="1.1"/>
<line x1="382.33" y1="392.2" x2="382.33" y2="388.5" stroke="#444" stroke-width="1.1"/>
<line x1="382.33" y1="7.5" x2="382.33" y2="10.8" stroke="#444" stroke-width="1.1"/>
<line x1="434.55" y1="392.2" x2="434.55" y2="388.5" stroke="#444" stroke-width="1.1"/>
<line x1="434.55" y1="7.5" x2="434.55" y2="10.8" stroke="#444" stroke-width="1.1"/>
<line x1="486.77" y1="392.2" x2="486.77" y2="388.5" stroke="#444" stroke-width="1.1"/>
<line x1="486.77" y1="7.5" x2="486.77" y2="10.8" stroke="#444" stroke-width="1.1"/>
<line x1="539.00" y1="392.2" x2="539.00" y2="388.5" stroke="#444" stroke-width="1.1"/>
<line x1="539.00" y1="7.5" x2="539.00" y2="10.8" stroke="#444" stroke-width="1.1"/>
<line x1="330.1" y1="7.40" x2="333.70000000000005" y2="7.40" stroke="#555" stroke-width="1.1"/>
<line x1="539.0" y1="7.40" x2="535.4" y2="7.40" stroke="#555" stroke-width="1.1"/>
<line x1="330.1" y1="45.25" x2="333.70000000000005" y2="45.25" stroke="#555" stroke-width="1.1"/>
<line x1="539.0" y1="45.25" x2="535.4" y2="45.25" stroke="#555" stroke-width="1.1"/>
<line x1="330.1" y1="83.10" x2="333.70000000000005" y2="83.10" stroke="#555" stroke-width="1.1"/>
<line x1="539.0" y1="83.10" x2="535.4" y2="83.10" stroke="#555" stroke-width="1.1"/>
<line x1="330.1" y1="120.95" x2="333.70000000000005" y2="120.95" stroke="#555" stroke-width="1.1"/>
<line x1="539.0" y1="120.95" x2="535.4" y2="120.95" stroke="#555" stroke-width="1.1"/>
<line x1="330.1" y1="158.80" x2="333.70000000000005" y2="158.80" stroke="#555" stroke-width="1.1"/>
<line x1="539.0" y1="158.80" x2="535.4" y2="158.80" stroke="#555" stroke-width="1.1"/>
<line x1="330.1" y1="196.65" x2="333.70000000000005" y2="196.65" stroke="#555" stroke-width="1.1"/>
<line x1="539.0" y1="196.65" x2="535.4" y2="196.65" stroke="#555" stroke-width="1.1"/>
<line x1="330.1" y1="234.50" x2="333.70000000000005" y2="234.50" stroke="#555" stroke-width="1.1"/>
<line x1="539.0" y1="234.50" x2="535.4" y2="234.50" stroke="#555" stroke-width="1.1"/>
<line x1="330.1" y1="272.35" x2="333.70000000000005" y2="272.35" stroke="#555" stroke-width="1.1"/>
<line x1="539.0" y1="272.35" x2="535.4" y2="272.35" stroke="#555" stroke-width="1.1"/>
<line x1="330.1" y1="310.20" x2="333.70000000000005" y2="310.20" stroke="#555" stroke-width="1.1"/>
<line x1="539.0" y1="310.20" x2="535.4" y2="310.20" stroke="#555" stroke-width="1.1"/>
<line x1="330.1" y1="348.05" x2="333.70000000000005" y2="348.05" stroke="#555" stroke-width="1.1"/>
<line x1="539.0" y1="348.05" x2="535.4" y2="348.05" stroke="#555" stroke-width="1.1"/>
<line x1="330.1" y1="385.90" x2="333.70000000000005" y2="385.90" stroke="#555" stroke-width="1.1"/>
<line x1="539.0" y1="385.90" x2="535.4" y2="385.90" stroke="#555" stroke-width="1.1"/>
<g fill="#000" style="font-family:'Liberation Serif',serif">
<text x="43.5" y="15.0" text-anchor="end" font-size="20">6</text>
<text x="43.5" y="52.9" text-anchor="end" font-size="20">6</text>
<text x="43.5" y="90.7" text-anchor="end" font-size="20">6</text>
<text x="43.5" y="128.6" text-anchor="end" font-size="20">6</text>
<text x="43.5" y="166.4" text-anchor="end" font-size="20">6</text>
<text x="43.5" y="204.2" text-anchor="end" font-size="20">6</text>
<text x="43.5" y="242.1" text-anchor="end" font-size="20">6</text>
<text x="43.5" y="279.9" text-anchor="end" font-size="20">6</text>
<text x="43.5" y="317.8" text-anchor="end" font-size="20">6</text>
<text x="43.5" y="355.7" text-anchor="end" font-size="20">6</text>
<text x="43.5" y="393.5" text-anchor="end" font-size="20">0</text>
<text x="48.0" y="411.5" text-anchor="middle" font-size="20">5.5</text>
<text x="100.2" y="411.5" text-anchor="middle" font-size="20">6.0</text>
<text x="152.5" y="411.5" text-anchor="middle" font-size="20">6.5</text>
<text x="204.8" y="411.5" text-anchor="middle" font-size="20">7.0</text>
<text x="257.0" y="411.5" text-anchor="middle" font-size="20">7.5</text>
<text x="86.0" y="432.3" font-size="19.5" textLength="138.5" lengthAdjust="spacing">Wavelength (nm)</text>
<text transform="translate(22,252) rotate(-90)" font-size="20">gA (10<tspan dy="-11.5" font-size="14.5">13</tspan><tspan dy="11.5"> s</tspan><tspan dy="-11.5" font-size="14.5">−1</tspan><tspan dy="11.5">)</tspan></text>
<text x="325.5" y="15.0" text-anchor="end" font-size="20">6</text>
<text x="325.5" y="52.9" text-anchor="end" font-size="20">6</text>
<text x="325.5" y="90.7" text-anchor="end" font-size="20">6</text>
<text x="325.5" y="128.6" text-anchor="end" font-size="20">6</text>
<text x="325.5" y="166.4" text-anchor="end" font-size="20">6</text>
<text x="325.5" y="204.2" text-anchor="end" font-size="20">6</text>
<text x="325.5" y="242.1" text-anchor="end" font-size="20">6</text>
<text x="325.5" y="279.9" text-anchor="end" font-size="20">6</text>
<text x="325.5" y="317.8" text-anchor="end" font-size="20">6</text>
<text x="325.5" y="355.7" text-anchor="end" font-size="20">6</text>
<text x="325.5" y="393.5" text-anchor="end" font-size="20">0</text>
<text x="330.0" y="411.5" text-anchor="middle" font-size="20">5.5</text>
<text x="382.2" y="411.5" text-anchor="middle" font-size="20">6.0</text>
<text x="434.5" y="411.5" text-anchor="middle" font-size="20">6.5</text>
<text x="486.8" y="411.5" text-anchor="middle" font-size="20">7.0</text>
<text x="539.0" y="411.5" text-anchor="middle" font-size="20">7.5</text>
<text x="368.0" y="432.3" font-size="19.5" textLength="138.5" lengthAdjust="spacing">Wavelength (nm)</text>
<text transform="translate(304,252) rotate(-90)" font-size="20">gA (10<tspan dy="-11.5" font-size="14.5">13</tspan><tspan dy="11.5"> s</tspan><tspan dy="-11.5" font-size="14.5">−1</tspan><tspan dy="11.5">)</tspan></text>
<text transform="translate(218.50,36.90) scale(0.925,1)" font-size="16">Gd</text>
<text transform="translate(237.00,28.90) scale(0.9,1)" font-size="13.4">18</text>
<path d="M248.90 25.50H255.20M252.50 22.50V28.50" stroke="#1a1a1a" stroke-width="1.1" fill="none"/>
<text transform="translate(218.50,74.75) scale(0.925,1)" font-size="16">Gd</text>
<text transform="translate(237.00,66.75) scale(0.9,1)" font-size="13.4">19</text>
<path d="M248.90 63.50H255.20M252.50 60.50V66.50" stroke="#1a1a1a" stroke-width="1.1" fill="none"/>
<text transform="translate(218.50,112.60) scale(0.925,1)" font-size="16">Gd</text>
<text transform="translate(237.00,104.60) scale(0.9,1)" font-size="13.4">20</text>
<path d="M248.90 101.50H255.20M252.50 98.50V104.50" stroke="#1a1a1a" stroke-width="1.1" fill="none"/>
<text transform="translate(218.50,150.45) scale(0.925,1)" font-size="16">Gd</text>
<text transform="translate(237.00,142.45) scale(0.9,1)" font-size="13.4">21</text>
<path d="M248.90 139.50H255.20M252.50 136.50V142.50" stroke="#1a1a1a" stroke-width="1.1" fill="none"/>
<text transform="translate(218.50,188.30) scale(0.925,1)" font-size="16">Gd</text>
<text transform="translate(237.00,180.30) scale(0.9,1)" font-size="13.4">22</text>
<path d="M248.90 176.50H255.20M252.50 173.50V179.50" stroke="#1a1a1a" stroke-width="1.1" fill="none"/>
<text transform="translate(218.50,226.15) scale(0.925,1)" font-size="16">Gd</text>
<text transform="translate(237.00,218.15) scale(0.9,1)" font-size="13.4">23</text>
<path d="M248.90 214.50H255.20M252.50 211.50V217.50" stroke="#1a1a1a" stroke-width="1.1" fill="none"/>
<text transform="translate(218.50,264.00) scale(0.925,1)" font-size="16">Gd</text>
<text transform="translate(237.00,256.00) scale(0.9,1)" font-size="13.4">24</text>
<path d="M248.90 252.50H255.20M252.50 249.50V255.50" stroke="#1a1a1a" stroke-width="1.1" fill="none"/>
<text transform="translate(218.50,301.85) scale(0.925,1)" font-size="16">Gd</text>
<text transform="translate(237.00,293.85) scale(0.9,1)" font-size="13.4">25</text>
<path d="M248.90 290.50H255.20M252.50 287.50V293.50" stroke="#1a1a1a" stroke-width="1.1" fill="none"/>
<text transform="translate(218.50,339.70) scale(0.925,1)" font-size="16">Gd</text>
<text transform="translate(237.00,331.70) scale(0.9,1)" font-size="13.4">26</text>
<path d="M248.90 328.50H255.20M252.50 325.50V331.50" stroke="#1a1a1a" stroke-width="1.1" fill="none"/>
<text transform="translate(218.50,377.55) scale(0.925,1)" font-size="16">Gd</text>
<text transform="translate(237.00,369.55) scale(0.9,1)" font-size="13.4">27</text>
<path d="M248.90 366.50H255.20M252.50 363.50V369.50" stroke="#1a1a1a" stroke-width="1.1" fill="none"/>
<text transform="translate(500.50,36.90) scale(0.95,1)" font-size="16">Tb</text>
<text transform="translate(516.80,28.90) scale(0.9,1)" font-size="13.4">19</text>
<path d="M528.90 25.50H535.20M532.50 22.50V28.50" stroke="#1a1a1a" stroke-width="1.1" fill="none"/>
<text transform="translate(500.50,74.75) scale(0.95,1)" font-size="16">Tb</text>
<text transform="translate(516.80,66.75) scale(0.9,1)" font-size="13.4">20</text>
<path d="M528.90 63.50H535.20M532.50 60.50V66.50" stroke="#1a1a1a" stroke-width="1.1" fill="none"/>
<text transform="translate(500.50,112.60) scale(0.95,1)" font-size="16">Tb</text>
<text transform="translate(516.80,104.60) scale(0.9,1)" font-size="13.4">21</text>
<path d="M528.90 101.50H535.20M532.50 98.50V104.50" stroke="#1a1a1a" stroke-width="1.1" fill="none"/>
<text transform="translate(500.50,150.45) scale(0.95,1)" font-size="16">Tb</text>
<text transform="translate(516.80,142.45) scale(0.9,1)" font-size="13.4">22</text>
<path d="M528.90 139.50H535.20M532.50 136.50V142.50" stroke="#1a1a1a" stroke-width="1.1" fill="none"/>
<text transform="translate(500.50,188.30) scale(0.95,1)" font-size="16">Tb</text>
<text transform="translate(516.80,180.30) scale(0.9,1)" font-size="13.4">23</text>
<path d="M528.90 176.50H535.20M532.50 173.50V179.50" stroke="#1a1a1a" stroke-width="1.1" fill="none"/>
<text transform="translate(500.50,226.15) scale(0.95,1)" font-size="16">Tb</text>
<text transform="translate(516.80,218.15) scale(0.9,1)" font-size="13.4">24</text>
<path d="M528.90 214.50H535.20M532.50 211.50V217.50" stroke="#1a1a1a" stroke-width="1.1" fill="none"/>
<text transform="translate(500.50,264.00) scale(0.95,1)" font-size="16">Tb</text>
<text transform="translate(516.80,256.00) scale(0.9,1)" font-size="13.4">25</text>
<path d="M528.90 252.50H535.20M532.50 249.50V255.50" stroke="#1a1a1a" stroke-width="1.1" fill="none"/>
<text transform="translate(500.50,301.85) scale(0.95,1)" font-size="16">Tb</text>
<text transform="translate(516.80,293.85) scale(0.9,1)" font-size="13.4">26</text>
<path d="M528.90 290.50H535.20M532.50 287.50V293.50" stroke="#1a1a1a" stroke-width="1.1" fill="none"/>
<text transform="translate(500.50,339.70) scale(0.95,1)" font-size="16">Tb</text>
<text transform="translate(516.80,331.70) scale(0.9,1)" font-size="13.4">27</text>
<path d="M528.90 328.50H535.20M532.50 325.50V331.50" stroke="#1a1a1a" stroke-width="1.1" fill="none"/>
<text transform="translate(500.50,377.55) scale(0.95,1)" font-size="16">Tb</text>
<text transform="translate(516.80,369.55) scale(0.9,1)" font-size="13.4">28</text>
<path d="M528.90 366.50H535.20M532.50 363.50V369.50" stroke="#1a1a1a" stroke-width="1.1" fill="none"/>
</g>
</svg></body></html>
